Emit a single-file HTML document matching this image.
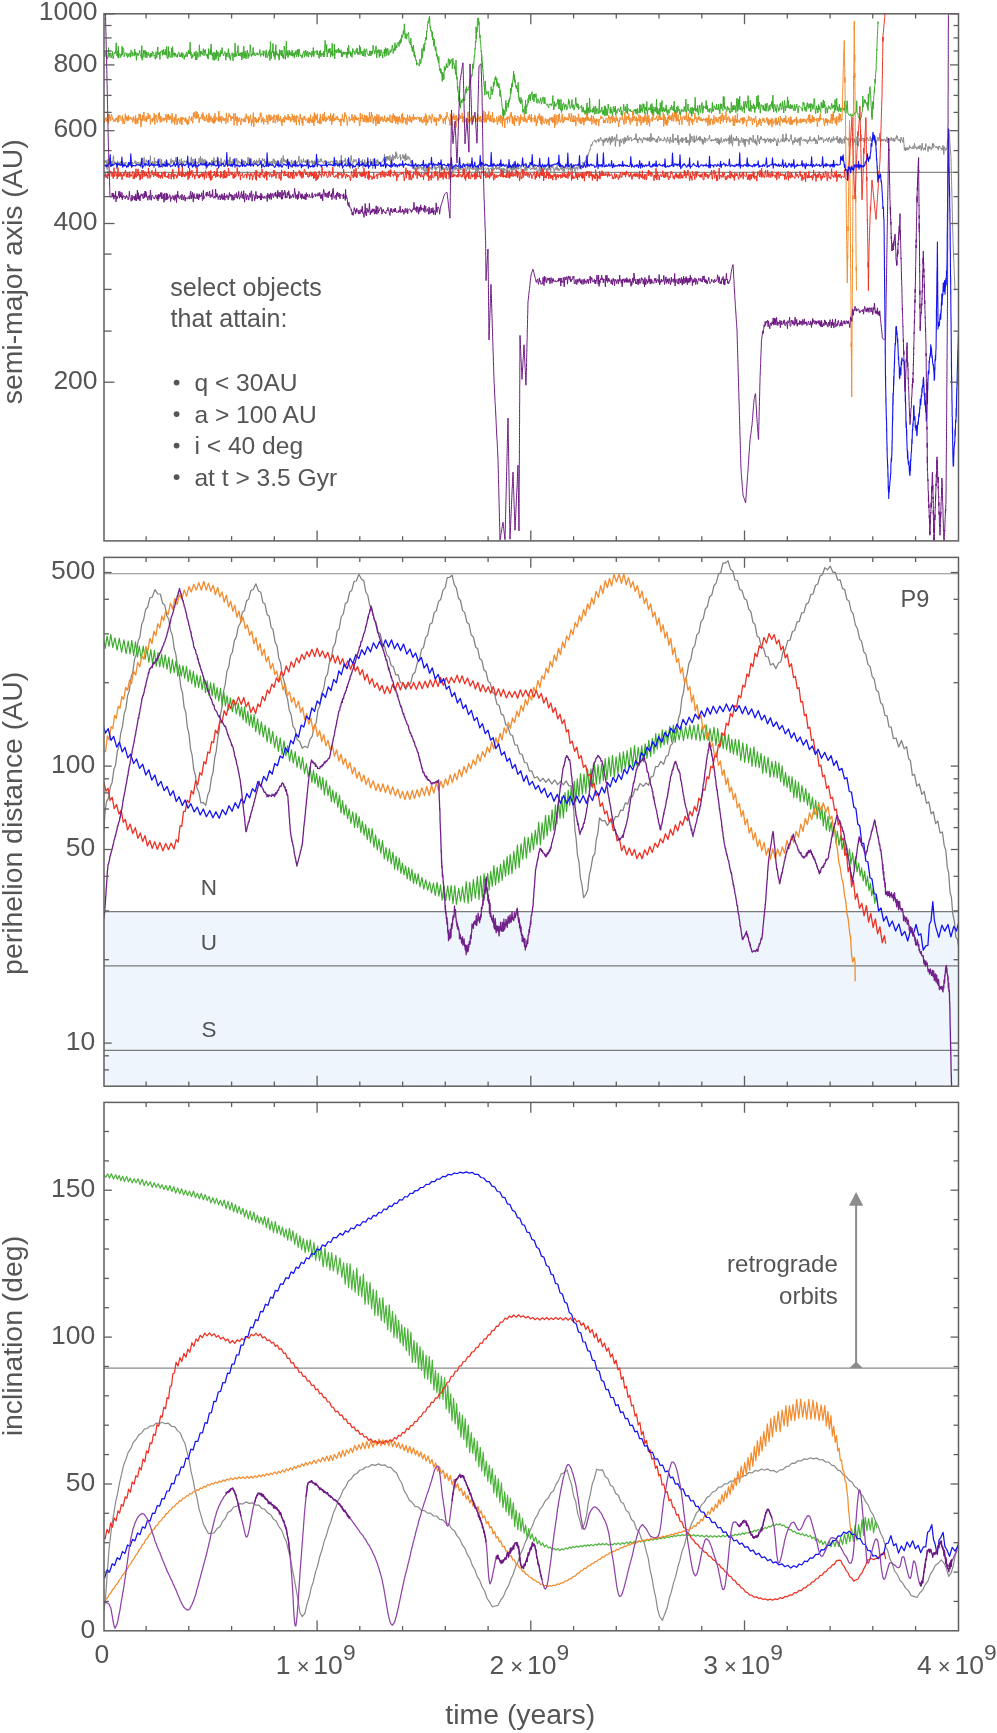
<!DOCTYPE html><html><head><meta charset="utf-8"><style>html,body{margin:0;padding:0;background:#fff;}svg{display:block;font-family:"Liberation Sans",sans-serif;}</style></head><body><svg width="997" height="1733" viewBox="0 0 997 1733">
<defs>
<clipPath id="c0"><rect x="104.0" y="13.8" width="854.5" height="527.1"/></clipPath>
<clipPath id="c1"><rect x="104.0" y="557.4" width="854.5" height="528.8"/></clipPath>
<clipPath id="c2"><rect x="104.0" y="1102.4" width="854.5" height="528.4"/></clipPath>
</defs>
<rect width="997" height="1733" fill="#fff"/>
<rect x="104.0" y="911.7" width="854.5" height="174.5" fill="#eef5fd"/>
<g stroke="#8a8a8a" stroke-width="1.1">
<line x1="104.0" y1="172.4" x2="958.5" y2="172.4"/>
<line x1="104.0" y1="573.7" x2="958.5" y2="573.7"/>
<line x1="104.0" y1="1368.1" x2="958.5" y2="1368.1"/>
</g>
<g stroke="#7a7a7a" stroke-width="1.2">
<line x1="104.0" y1="911.7" x2="958.5" y2="911.7"/>
<line x1="104.0" y1="965.9" x2="958.5" y2="965.9"/>
<line x1="104.0" y1="1050.4" x2="958.5" y2="1050.4"/>
</g>
<g fill="#8c8c8c" stroke="#8c8c8c">
<line x1="856.1" y1="1204" x2="856.1" y2="1364" stroke-width="2.0"/>
<polygon points="856.1,1192 849,1205.7 863.2,1205.7" stroke="none"/>
<polygon points="856.1,1361.5 849.5,1368.1 862.7,1368.1" stroke="none"/>
</g>
<g clip-path="url(#c0)" fill="none" stroke-linejoin="round" stroke-linecap="round">
<path d="M104.0 160.5l.5 2.7 .4-2.9 .5 2.2 .4-2 .5-.1 .4 4.8 .5 4.3 .4-8.2 .5-2.4 .4 8.3 .5-3.4 .4-.8 .5-5.5 .4 4 .5 5.3 .4-4.6 .5-1 .4 4 .5-1.4 .4-4.5 .5-3.5 .4 8.3 .5-1 .4-1.6 .5 .6 .4 .4 .5 .3 .4 6.1 .5-4.3 .4-3.8 .5 1.1 .4 2.3 .5 .2 .4-1.5 .5 1 .4-2.5 .5 4.5 .4-1.9 .5-3.4 .4 2.3 .5 .9 .4-1.4 .5 .8 .4-.5 .5 2.2 .4-.5 .5-2.3 .4 .9 .5 .4 .4-.8 .5 1.1 .4 .2 .5 2.6 .4 .4 .5-4 .4-.5 .5 3.3 .4-1.9 .5 1.2 .4-5.6 .5 1.9 .4 6.2 .5-5.5 .4 1.9 .5-1 .4 .4 .5-.3 .4-.7 .5-1.8 .4 3.7 .5-2.6 .4 3.2 .5-1.8 .4-.8 .5 1.2 .4-1.2 .5 .7 .4 2.6 .5 .2 .4-3.9 .5 .8 .4 4.7 .5-8.6 .4 .4 .5-.7 .4 2 .5 3.9 .4-1.4 .5-5.6 .4 5.5 .5 2.3 .4 1.4 .5-4.6 .4-2.2 .5 2.5 .4-1 .5 1.3 .4-2 .5-.3 .4 2.6 .5 .9 .4-.2 .5-7.8 .4 6.6 .5 1.2 .4-.6 .5 1.3 .4-3 .5 4.3 .4-2.6 .5 5.1 .4-10.4 .5 7.7 .4-2.7 .5-1.4 .4 2.1 .5-.9 .4-1 .5-.2 .4 1.9 .5-1.8 .4 .7 .5 .4 .4-3.9 .5 3 .4 2.8 .5 1 .4-5.9 .5 5 .4 3.2 .5-1.8 .4-2.6 .5 1.9 .4-2.9 .5-.9 .4 3.3 .5-2.4 .4 3.1 .5-4.6 .4-.2 .5 2.7 .4 2.3 .5-2.5 .4 .2 .5 .6 .4-.1 .5 .4 .4-3.2 .5-2.3 .4 4.9 .5-.4 .4-1 .5-2.1 .4 1.1 .5 .8 .4 1.5 .5-1.6 .4-1.5 .5 1.8 .4-5 .5 5.3 .4 .7 .5-2.7 .4 4 .5-1.1 .4 .3 .5-1.8 .4-2.2 .5 4.1 .4-1.7 .5 1.4 .4-5 .5 8.7 .4-6.1 .5 3.3 .4-.4 .5-.1 .4-3.2 .5 1.5 .4-.7 .5 .8 .4-1.1 .5-.3 .4 2.4 .5-1.8 .4 2.2 .5-2 .4 2 .5 3.1 .4-4.1 .5 2.5 .4-1.8 .5-2.4 .4-4 .5 7 .4-.8 .5-2.1 .4-2 .5 7.7 .4-4.7 .5 .4 .4 1.6 .5-2.7 .4 1.6 .5 .4 .5-1.7 .4 .4 .5 1.8 .4-.4 .5-.6 .4-4.5 .5 1.4 .4 3.5 .5-7.1 .4 8 .5-.2 .4-3.4 .5-2.4 .4 4.2 .5 2.5 .4-3.9 .5-1.5 .4 5 .5-1.7 .4-3.2 .5 4.3 .4 5.5 .5-6.5 .4-.7 .5-.1 .4 1.5 .5 .7 .4-.9 .5 .3 .4-.1 .5-.2 .4-.1 .5 3.5 .4-6.8 .5 .5 .4 1.3 .5 3.1 .4-2.5 .5-4.8 .4 3.2 .5 3 .4-3 .5 .3 .4 1.4 .5-2 .4 1.6 .5-5.2 .4 3.1 .5 8.6 .4-2.4 .5-2.3 .4-2.5 .5 1.1 .4 2 .5-6.3 .4 5.2 .5 .8 .4-.2 .5 .4 .4-1.3 .5-1.6 .4-.7 .5-.9 .4 4 .5 1.2 .4-3.5 .5 3.2 .4-4.2 .5 1.5 .4 2.9 .5-4.5 .4-.2 .5 5.9 .4-7.3 .5-1.9 .4 5.8 .5 1.8 .4-.9 .5-2.6 .4 2.7 .5-1.5 .4-3.1 .5 4.1 .4-3.1 .5 1 .4 1.8 .5-3.5 .4-1.3 .5 4.1 .4-3.7 .5 6.7 .4-.9 .5-3.8 .4 1 .5 .9 .4-.8 .5 2 .4-.6 .5-.9 .4 1.1 .5-1.5 .4 1.2 .5 2.9 .4-5.5 .5 2.5 .4-1.9 .5 4.7 .4-4.7 .5 .3 .4 2.3 .5-.5 .4 1.3 .5-.9 .4-3 .5-3.5 .4 4.4 .5 3.4 .4-2.9 .5-2.4 .4 2 .5 .6 .4-3.3 .5 5.3 .4 .5 .5-1.7 .4 2.3 .5-4 .4 2.1 .5-3 .4 2.2 .5 1.4 .4-2.4 .5 2.7 .4-4.3 .5 4.8 .4-3 .5 1.2 .4-2.2 .5 1.4 .4-4 .5 4.8 .4 1.2 .5-.4 .4-.8 .5-.4 .4-1.2 .5-3.1 .4 2.3 .5-.1 .4 .7 .5-2.1 .4 4.6 .5 1 .4-3.2 .5 2.1 .4-2.7 .5 0 .4-.9 .5 1.5 .4 1.6 .5 2.3 .4-3.4 .5 4 .4-2.2 .5 .2 .4-2.6 .5 2.3 .4-2.5 .5 3.8 .4-4.3 .5-1.8 .4 2.1 .5 3.2 .4-4.4 .5 2.5 .4-.6 .5 2.9 .4-2.8 .5 1.1 .4-2.2 .5 2.3 .4-1.6 .5 2.8 .4 .9 .5-1.4 .4-.6 .5-2.3 .4 3.6 .5-6.2 .4 5.3 .5 .6 .4-1.6 .5-6.7 .4 5.9 .5-2.1 .4-.1 .5 3 .4-2.3 .5 1.6 .4 1.2 .5-3 .4 2.9 .5 1.4 .5-.5 .4 4.2 .5-4.6 .4-.9 .5 .9 .4 2.4 .5-1.7 .4-3.5 .5-.5 .4 7.9 .5-4.1 .4-1.2 .5-1.5 .4 1.1 .5 1.2 .4-2.2 .5 .7 .4 2.5 .5-.5 .4-2 .5 1.6 .4-2.2 .5 .5 .4-.6 .5-5.1 .4 7.4 .5 .2 .4 1.5 .5-1 .4-4.6 .5 3.5 .4-1.4 .5 .4 .4 .1 .5-3.6 .4 3.8 .5-.2 .4 .1 .5-1.7 .4 2.4 .5-2.5 .4 6 .5-6.9 .4 4.8 .5-5.2 .4 3.1 .5 3.9 .4-5.2 .5 2.1 .4-.3 .5-.8 .4 .7 .5-2.1 .4-.4 .5 5 .4-4.1 .5 1.9 .4 1.4 .5-3.6 .4 4.5 .5-.4 .4-3 .5 .5 .4-1.5 .5 .1 .4 2.1 .5-4.3 .4 4.1 .5-1.7 .4 .2 .5 1 .4-2.4 .5-1.1 .4 2.9 .5-3 .4 2.5 .5 .5 .4 .9 .5 0 .4 1.2 .5-3.2 .4 1.5 .5-.4 .4-1.6 .5 2.7 .4-.5 .5 1.3 .4-1.9 .5 1.3 .4-.1 .5-1.6 .4 2.2 .5-.9 .4 1.9 .5-2.1 .4-1.5 .5 .9 .4-.5 .5-.4 .4 .9 .5 2.1 .4 1 .5-3.6 .4 1.4 .5-1.3 .4 .3 .5-1.6 .4 2.7 .5-2.7 .4 5.6 .5-4.1 .4 2.2 .5 .2 .4-1.3 .5 4.8 .4-7.4 .5 3 .4-.6 .5-7.4 .4 8.8 .5-1.4 .4 1.4 .5-2.7 .4-.1 .5-.3 .4-.7 .5 1.8 .4-4 .5 3.6 .4 1.8 .5 .8 .4-1.6 .5-3.4 .4 1.8 .5 1.3 .4 2.1 .5-1.7 .4 .2 .5 5.6 .4-9.1 .5-3.9 .4 4.7 .5 1.1 .4 7.2 .5-5.2 .4-.6 .5-3.4 .4 1.2 .5 1.5 .4-1.1 .5-.7 .4-.6 .5 3.1 .4 1.4 .5 .1 .4-2.1 .5 6.7 .4-5.6 .5 .3 .4-1 .5-.1 .4-.4 .5-1.1 .4 1.3 .5 1.8 .4-4.4 .5 8.1 .4-2.8 .5-2.9 .4 3 .5-5.4 .4 3.6 .5 3.6 .4-3.8 .5 1.1 .4-1.5 .5 1.4 .4 .7 .5-2.7 .4-.4 .5 1 .4-.5 .5 .3 .4-3.3 .5 5.4 .4-3 .5 1.4 .4-.5 .5 6.2 .4-9.7 .5 4.2 .4 .8 .5-3.5 .4 .6 .5 1.2 .4 .4 .5 1.2 .4-3.8 .5 1.9 .4-2.3 .5 4.9 .4-3.3 .5 1.2 .4 1 .5-.3 .5 .2 .5 3.7 .4-3.3 .5-2.2 .5 .3 .5-.5 .5-2.7 .4 2.7 .7-7.1 .4 4.1 .5 .4 .4 3.1 .5-5.4 .4 3.8 .5 .3 .4-4.2 .5 2.5 .4-2 .5 3.8 .4-.2 .5-4.9 .4 4.7 .5 4.3 .4-7.1 .5 .2 .4 2.7 .5-5.7 .4 .4 .5 5.5 .4-3.8 .5-.5 .5 2.4 .4 .3 .5-7.1 .4 5.5 .5-4.1 .4 4.3 .5 1.3 .4-1.1 .5-.2 .4 .1 .5-.8 .4-.4 .5-1.8 .4 5.9 .5-2.7 .4 .2 .5 .3 .4-2.1 .5-1.7 .4 1.2 .5 3.5 .4-3.6 .5 3.7 .5 1.7 .4-7.3 .5 2.3 .4 4.3 .5-.8 .4-1.7 .5-1.6 .4 2.4 .5-1.5 .4 2.4 .5-1 .4 2.3 .4 1.3 .4 1.3 .4-2.6 .4-.2 .4 1.4 .3 1.1 .4-.5 .4 4.1 .4 .4 .5 2.3 .5-3.2 .4 3.6 .5 1.8 .4-3.5 .5-2.9 .4 2.2 .5 2.4 .4-4.6 .5-.2 .4 4.4 .5-1.5 .4-1.4 .5 1.1 .4-.5 .5-1.9 .4 4.1 .5 .2 .4-2.5 .5 .9 .4 2.5 .5-2.5 .4 .9 .5 5.3 .4-.7 .5-4 .4-1.2 .5-2.6 .4 7.1 .5-1.3 .4-4.4 .5 2.6 .4-6.7 .5 9.1 .4-4.9 .5 1.7 .4-.9 .5 .3 .4 1.4 .5-2 .4 2.7 .5-1.5 .4-4.4 .5 .9 .4-1.3 .5 3.1 .4 2.3 .5-2.7 .4 3.5 .5-.6 .4-2.1 .5 .8 .4-1.1 .5 .7 .4-.5 .5-3.9 .4 6.4 .5-5.6 .4 3.1 .5-.2 .4 3.8 .5-6.5 .4 5.8 .5-2.2 .4-.7 .5 2.5 .4-1.9 .5 1.4 .4-1 .5-.7 .4-.2 .5 2.5 .4-3.4 .5 4.3 .4-.3 .5-3 .4-.6 .5-.3 .4 6.9 .5-7 .4 .7 .5-3 .4 5.3 .5-1.5 .4-3.8 .5 7.9 .4 0 .5-2.3 .4-3.4 .5 2.7 .4-2.6 .5 3.8 .4-3.8 .5 0 .4 2.6 .5-1.1 .5 2.9 .4-1.9 .5-2.4 .4 3.7 .5-4.1 .4 2.6 .5-1.2 .4 2.5 .5-1.2 .4 .4 .5 0 .4-3.5 .5 .3 .4 3.1 .5 1.7 .4-1.5 .5 5.1 .4-3.6 .5-5.7 .4 4.1 .5 2.1 .4-1.5 .5-.9 .4-6.3 .5 4.9 .4 .1 .5 2.1 .4-2.4 .5-.1 .4-.6 .5 2.5 .4-.9 .5-.8 .4 2.2 .5-2 .4-2.8 .5 4.9 .4-2.6 .5 .4 .4 .8 .5 2.1 .4-2.6 .5-1.6 .4 4.9 .5 .2 .4-4.4 .5 4.4 .4-3.4 .5 .5 .4-.8 .5 2.3 .4-3.2 .5-3.2 .4 4 .5 2.6 .4-5 .5 .8 .4 .3 .5 4.5 .4-1.4 .5-.6 .4-.6 .5-.4 .4 .4 .5 1.3 .4 .2 .5-.3 .4-.6 .5-1.2 .4 1.4 .5 6.7 .4-6.5 .5-.5 .4-.6 .5 .6 .4-.7 .5 .9 .4 1.7 .5-.6 .4-6.6 .5 7.3 .4-1 .5-.2 .4-1.5 .5 .9 .4-3.2 .5 .3 .4 3.5 .5-1.6 .4 .9 .5-1.5 .4 0 .5 2.8 .4-.9 .5-3.1 .4 3.4 .5 1.5 .4-1.1 .5-1.6 .4 3.8 .5 .5 .4-4.6 .5 0 .4 3.6 .5-1.1 .4-2 .5 1.2 .4 .1 .5 .6 .4 3.7 .5-7.6 .4 8 .5-7.6 .4 1.4 .5-.9 .4 .4 .5-2 .4 4.1 .5-.7 .4-2.2 .5 4.6 .4-1.3 .5-5.3 .4 5.7 .5-.7 .4-7.5 .5 7.6 .4-1.6 .5-5.1 .4-.1 .5 10.5 .4-7.1 .5-2.2 .4 4.6 .5-2.1 .4 .1 .5 2.3 .4-.7 .5-.6 .4-.4 .5-.8 .5 .3 .4 5.5 .5-3.5 .4 1.2 .5 .8 .4 4.3 .5-6 .4 1.7 .5-1.9 .4-2.5 .5 3.7 .4-7.6 .5 3.6 .4 4.3 .5-3.7 .4 .6 .5 .5 .4-1.2 .5 .6 .4-5.3 .5 6.3 .4 1.3 .5-.3 .4-.6 .5-1 .4 1.2 .5-1.5 .4-.9 .5 1.2 .4 1.4 .5-5.1 .4 5.8 .5-1.5 .4 1 .5-1.2 .4-1.4 .5 4.3 .4 1.5 .5-1.9 .4-.5 .5 .5 .4-6.6 .5 5.9 .4 1.5 .5-4.4 .4 8 .5-5.8 .4 .4 .5-.9 .4 0 .5-.5 .4-2.7 .5 2 .4 2.3 .5-3.5 .4 1.3 .5 1 .4 1.9 .5-1.9 .4-.9 .5 2.9 .4-6.7 .5 3.1 .4 2.3 .5-1.7 .4-.3 .5 4.5 .4-6.4 .5 .9 .4 1.3 .5-.3 .4-1.4 .5 2.9 .4-.2 .5 3.4 .4-3.2 .5 .3 .4-1.9 .5 2.1 .4 .4 .5-4.4 .4 4 .5 .9 .4-2.3 .5 1.5 .4 1.1 .5-1.4 .4-.2 .5-1.8 .4 1.4 .5 1.1 .5-4 .4-.6 .5 6 .4-2.9 .5 1.4 .4 3.8 .5-6.1 .4-.1 .5-.9 .4 2.1 .5 .5 .4-.6 .5-1.8 .4 1.3 .5 2.2 .4-1.5 .5 .6 .4-1.5 .5-2.2 .4 5.1 .5-1.2 .4-5.6 .5 6.9 .4 1.6 .5-7 .4 3.4 .5-3.6 .4 1.9 .5 2 .4 2.6 .5-3.1 .4-1.4 .5 1.3 .4-1.7 .5 1.3 .4 2 .5-6 .4 2.4 .5-1.6 .4 1.6 .5 2 .4 .1 .5-.8 .4 1.6 .5-1 .4-2.9 .4 .9 .4-4.5 .4 2.5 .4 1.2 .5-1.4 .4-2.5 .4 .1 .4-1.6 .4 2.9 .3-6.4 .4-.4 .4 6.4 .4-8.1 .4 2.2 .4-2.2 .3 .2 .4-2.6 .4-.9 .4-1.3 .4 .3 .4-2.8 .3-1.3 .4-1.8 .4 1.5 .4-.6 .6-3.2 .6 .1 .6-.7 .7-1.4 .6-.3 .6 2.3 .6 .6 .6-2.3 .6-.1 .7-1.4 .6 3.2 .6-2.3 .6 .5 .5-3.1 .4 .7 .5 2.8 .4 .2 .5-.9 .4-.2 .5 6 .4-6 .5 2.9 .4-1.5 .5-2.8 .4 3 .5-2.5 .4 1.7 .5-2.8 .4 2.4 .5 2.5 .4-.9 .5-3.5 .4 2.4 .5-4 .4 2.4 .5 5.6 .4-6.7 .5-.4 .4 5 .5-6.5 .4 3.1 .5 2 .4-1.4 .5-1.5 .4 1.3 .5-2.6 .4 9.4 .5-5.1 .4-3.4 .5-3.6 .4 6.5 .5-1.4 .4 1.2 .5 .5 .4-.2 .5-1.1 .4 6.7 .5-6.4 .4-1.2 .5 1.9 .4 2.1 .5-2.5 .4-.8 .5-1.3 .4 1.4 .5 4.5 .4-2.4 .5-4.8 .4 5.3 .5-4.1 .4-.3 .5 2.6 .4 .5 .5-5 .4-.5 .5 3.2 .4 1.9 .5-.6 .4-.9 .5-2.1 .4 1.1 .5-.6 .4 3.7 .5-.3 .4-.6 .5-.4 .4-1.1 .5 1.2 .4-.4 .5-1.7 .4 1.4 .5 0 .4-5.7 .5 6.7 .4-1.5 .5 .1 .4 4.2 .5-3.7 .4 .1 .5 .5 .4-2.8 .5 1.2 .4 2 .5-.5 .4-.8 .5-.4 .4 4.4 .5-2.9 .4-.7 .5-2.2 .4 1.5 .5-.9 .4 2.3 .5-.9 .4-1.4 .5 .4 .4 1.8 .5 1 .4-3.7 .5 .9 .4 2.3 .5-2.2 .4-1.1 .5 4.8 .5-2.4 .4-6.4 .5 4.7 .4 3.2 .5-1.5 .4-2.2 .5 .3 .4 1.2 .5 1.1 .4-1.8 .5 1.1 .4 2.6 .5-1 .4 .8 .5-2.8 .4 3.8 .5-4.5 .4 .3 .5-2.6 .4 2 .5 3.1 .4-.6 .5 .1 .4-2.3 .5 1.1 .4 .3 .5 1 .4 .3 .5-1.2 .4 1.1 .5-.3 .4-3.5 .5 2.6 .4-.3 .5 1.1 .4 1.9 .5-1.7 .4-1.7 .5-2.1 .4 4.1 .5 0 .4-1.3 .5 2.7 .4 1 .5-6.4 .4 4.2 .5-.6 .4 .7 .5 1.1 .4-4.9 .5-3.8 .4 8.9 .5-2.4 .4-.5 .5 .3 .4-2.1 .5 2.5 .4-2.2 .5 1.2 .4 .3 .5 3 .4-7.6 .5 4.8 .4 5 .5-4.5 .4 .4 .5-1.4 .4-.5 .5 3.1 .4-4.3 .5 2.3 .4 3 .5-5.2 .4 2.9 .5 0 .4-1.9 .5 .8 .4-.1 .5-2.2 .4 5.5 .5-5.7 .4 5.8 .5-2.6 .4 1.9 .5-2 .4 .5 .5 4.6 .4-4.4 .5-7.2 .4 8.7 .5-2.4 .4-1.9 .5-1.9 .4 2.6 .5 1.3 .4 1.9 .5-.1 .4-6.2 .5 7 .4-2.5 .5-.2 .4 1.4 .5-5.7 .4 3.6 .5 1 .4-1.5 .5 .8 .4-2.3 .5 2.5 .4-3.3 .5 4.7 .5-4.6 .4 3.6 .5-.1 .4-1.3 .5 4.5 .4-4.3 .5 5.5 .4-4.3 .5 .5 .4-3.6 .5 5.6 .4-4.3 .5-.2 .4 1.8 .5 .2 .4 .8 .5-.1 .4-2.5 .5 .3 .4-.1 .5-3.6 .4 4.6 .5 .5 .4 1.1 .5 .1 .4-1.9 .5 1.4 .4-1.1 .5 .9 .4 .5 .5-1.8 .4 .6 .5-.7 .4 1.6 .5-2.9 .4 .5 .5 2.3 .4 2.3 .5-1.5 .4-3.4 .5 5.7 .4-4.5 .5 5.3 .4-5 .5 3 .4 .4 .5-5.5 .4 2.5 .5 1.6 .4 .8 .5-.6 .4-.6 .5-2.2 .4 2.4 .5 0 .4-2.2 .5-1 .4 1.8 .5 1.4 .4-2.4 .5 .6 .4 1 .5-2.9 .4 3.6 .5 3 .4-8.9 .5 1.8 .4 4.2 .5 1.9 .4-8.8 .5 5.8 .5 5.9 .4-5.6 .5-3.1 .4 3 .5-1.6 .4 2 .5-.8 .4-1.8 .5 2.8 .4-5.1 .5 4.5 .4 .1 .5-.6 .4-2 .5 8.1 .4-5.6 .5-.3 .4 1.9 .5 .5 .4-1.5 .5-3.7 .4 1.1 .5 4 .4-.8 .5-3.1 .4 3.4 .5 2.8 .4-5.5 .5 7.5 .4-7.9 .5 2.2 .4-1.3 .5-.5 .4 2.2 .5-1.3 .4-.6 .5-.1 .4 5.1 .5-5.7 .4-1.6 .5 2.4 .4-1.4 .5 0 .4 2.8 .5 .7 .4 .5 .5-7.2 .4 3.8 .5 3.8 .4 .3 .5-3.2 .4-.5 .5 4.8 .4-2.5 .5 3.9 .4-5.9 .5-4.4 .4 4 .5 2.2 .4-1.6 .5 4.2 .4-5.5 .5 1.3 .4-3.4 .5 0 .4 2.8 .5-.2 .4 .9 .5 .6 .4-1.6 .5 1.2 .5-1.6 .4 3.4 .5 1.3 .4-3.9 .5 2.3 .4-1.9 .5 .2 .4-1.7 .5 .3 .4 3.6 .5-2 .4-1 .5 2.2 .4-2.8 .5 4.6 .4-1.7 .5-2.3 .4 1 .5 1.1 .4-1.3 .5 2.1 .4-3.9 .5-.4 .4 2.8 .5-1.2 .4 0 .5 1.4 .4 5 .5-1.4 .4 1.3 .5-7.3 .4 1.3 .5 2.8 .4-.3 .5 .2 .4-.7 .5 0 .4-2.2 .5-.6 .4 1.2 .5 1.9 .4-7.7 .5 7.1 .4 .3 .5 .6 .4-2.4 .5-1.9 .4 2.9 .5-7.2 .4 7 .5-1 .4-1.3 .5 1 .4 .2 .5 2.4 .4-.5 .5-1.7 .4-.7 .5-1.1 .4-3.4 .5 4.4 .4 2.2 .5 .1 .4 3.4 .5-4.2 .4 1.7 .5 .9 .4-2.6 .5-3.2 .4 3.9 .5-.1 .4 .9 .5-2.6 .4 1.1 .5 2.3 .4-4.2 .5 2.5 .4-3.2 .5 3.2 .4 4.7 .5-5.8 .5-3.1 .4 2.3 .5 .7 .4 1 .5-.4 .4-.8 .5 .1 .4 1.4 .5-.8 .4-1.2 .5 1.6 .4 1.1 .5-1.3 .4-.8 .5 4.1 .4-1 .5-3.1 .4 1.9 .5-.5 .4-2.2 .5-2.3 .4 4.5 .5-1.3 .4 1 .5 .7 .4-1.1 .5-.8 .4 .9 .5-1.9 .4 2.4 .5-3.9 .4 3 .5-1 .4 4.7 .5-4.2 .4 .6 .5 3.9 .4-2.8 .5-.5 .4-5.8 .5 4.7 .4 .3 .5-1.8 .4 1.1 .5-2.3 .4 2.9 .5-.3 .4-2.1 .5 .7 .4 .8 .5 3.7 .4-1.8 .5-.5 .4-.7 .5 1.2 .4-1.3 .5 .4 .4-2 .5 2.1 .4-.3 .5 2.2 .4-4.1 .5 1.3 .4-2 .5 2.3 .4 .3 .5 2.9 .4-.7 .5-3.4 .4 1.7 .5-1.3 .4 2.4 .5-4.9 .4 1.1 .5 2.8 .4-1.6 .5-.4 .4-.4 .5 1.7 .4 .4 .5-4.1 .4 .6 .5 6.2 .4-1.3 .5-2.4 .4 4.3 .5-5.8 .4 5.2 .5-5.1 .4 .5 .5 1.4 .5 4.3 .4-3.8 .5-.1 .4-1.1 .5-.4 .4 4.9 .5-4.8 .4-2.5 .5 3.9 .4-1.4 .5-1.2 .4 1.9 .5-.1 .4 1.1 .5-2.4 .4 .9 .5 7.6 .4-6.3 .5-1.2 .4 0 .5 .2 .4 .2 .5-.7 .4 3.1 .5-.9 .4 4.4 .5-7.3 .4 4.7 .5-3.8 .4 3.1 .5-2.1 .4 5.5 .5-6.8 .4-1.7 .5 .9 .4-1.7 .5 10.3 .4-4.7 .5-1.2 .4 .7 .5-3.1 .4 3.2 .5-7.2 .4 5 .5 1.9 .4-2 .5-.8 .4 .9 .5-1 .4 4.3 .5-3.7 .4 1.8 .5 .1 .4-1 .5 .7 .4-3.1 .5 .2 .4 .5 .5 2 .4 1.3 .5-1 .4 .1 .5-.7 .4-3.1 .5 4.4 .4-.7 .5 2 .4-4.2 .5 3.3 .4-4.4 .5 2.4 .4-2.6 .5 1.1 .4 2 .5-3.1 .4 1.5 .5 7.1 .4-3.9 .5-.2 .4-1.5 .5-2.5 .4 2 .5 1.6 .4-1.2 .5-6.3 .4 8.3 .5-2.5 .4 2.5 .5-1.5 .4-1.1 .5 1.5 .5 .8 .4-1.6 .5 1 .4-1.8 .5 .8 .4-.1 .5 2.2 .4-1.7 .5 .6 .4-3.8 .5 6.1 .4-4.5 .5 2.3 .4-1 .5-.7 .4 .6 .5 .9 .4-.6 .5-2.6 .4 .2 .5 3.4 .4-1.1 .5-.1 .4-1.7 .5 3.3 .4-2.1 .5 2.4 .4-3.3 .5-.6 .4 1.5 .5-3.8 .4 2 .5-1 .4 3.3 .5 1.1 .4-1 .5-.7 .4 1.9 .5-1.1 .4 3.1 .5-6 .4 .7 .5 2.3 .4 .1 .5 2.3 .3-2.1 .4-3 .3 5.3 .2 1.5 .4 6.1 .2-2.4 .4-.1 .5 3.1 .4-3.4 .5 .3 .4 2.6 .5-.4 .4-2.5 .5 2.3 .4-1 .5 .4 .4-3.7 .5 2 .4 .7 .5-1 .4 1.3 .5 0 .4 0 .5 .6 .4-3.2 .5 2.8 .4 .4 .5-5.8 .4 2.8 .5 1.9 .4-.9 .5 1.2 .4 1.2 .5-2.7 .4 1.4 .5 .6 .4-2.4 .5 .9 .5 1.5 .4-3.6 .5 2.2 .4 1.4 .5 1.8 .4-3.7 .5-3.6 .4 5 .5-.1 .4 2.1 .5-.7 .4-2 .5 1.9 .4 .8 .5-6.6 .4 2.5 .5 .1 .4 .4 .5 .6 .4 4.4 .5-5.1 .4 1.7 .5-1.8 .4 2.3 .5-.8 .4-.8 .5 2.7 .4-1.8 .5-.5 .4-4 .5 4.9 .5-4.9 .4 1.3 .5 .6 .4 .9 .5 .4 .4 1.1 .5-1.5 .4 1.1 .5-.2 .4 1.7 .5-2.3 .4 3.7 .5-4.2 .4 1 .5-1 .4 1.3 .5 1.3 .4-.1 .5-.7 .4 2.5 .5-1.5 .4-3.5 .5 1.7 .4 7.3 .5-7.9 .4 1.1 .5 1.7 .4 1.3 .5-2.1 .4 .8 .5-1.7 .2-2 .2-4 .2 1.3 .2-3.8 .2 .8 .2-3.2 .2-1.8 .2-1.8 .2-1.8 .2-1.8 .1 1.1 .2 2.2 .1 2.3 .2 2.2 .1 2.3 .2 2.2 .1 2.3 .2 2.2 .1 2.3 .2 2.2 .2 2.3 .1 2.2 .2 2.3 0 2.4 .1 2.7 .1 2.7 0 2.7 .1 2.7 .1 2.7 0 2.7 .1 2.8 .1 2.7 0 2.7 .1 2.7 .1 2.7 0 2.7 .1 2.7 .1 2.7 0 2.7 .1 2.7 .1 2.7 0 2.7 .1 2.7 .1 2.7 0 2.7 .1 2.7 .1 2.7 0 2.7 .1 2.7 .1 2.7 0 2.7 .1 2.7 .1 2.7 0 2.7 .1 2.5 .1 2.5 .1 2.5 .1 2.4 .1 2.5 .1 2.5 .1 2.5 .1 2.4 .1 2.5 .1 2.5 .1 2.5 .1 2.5 .1 2.4 .1 2.5 .1 2.5 .1 2.5 .1 2.4 .1 2.5 .1 2.5 .1 1.8" stroke="#8a8a8a" stroke-width="1.0"/>
<path d="M104.0 50.6l.4 4.5 .4 2 .5-2.4 .4-1.5 .4-2.1 .4 5.2 .4 .5 .5 2.4 .4-2.9 .4-3.2 .4-5.5 .4 9.7 .5-4.4 .4 2.8 .4-1.6 .4-1 .4 4.9 .5-1.9 .4-1.1 .4-3.7 .4 5 .4 2.5 .5-3.5 .4-2.1 .4-.9 .4 1.6 .4-.6 .5-3.7 .4-6.9 .4 8.8 .4 4.4 .4-4.9 .5 6.5 .4-11.3 .4 12 .4-4.3 .4-.1 .5 .1 .4 3.6 .4-1.4 .4-2 .4 2.1 .5-9.9 .4 8.5 .4-7.1 .4 1.1 .4 .4 .5 7.7 .4-2 .4-1.6 .4-.3 .4 0 .5 0 .4 2.7 .4 .7 .4 1.1 .4-4.1 .5 1.6 .4 1.7 .4-2.7 .4-.8 .4 1.5 .5 2.7 .4-7.2 .4 0 .4 1.2 .4 4.9 .5-4 .4 1 .4 .7 .4 .3 .4 1.9 .5-7.2 .4 6.1 .4-3.2 .4 .2 .5 8.2 .4-6.8 .4 0 .4-.6 .4 2.9 .5-1.9 .4-.8 .4-.1 .4-2.8 .4 3.9 .5 .9 .4 1.2 .4 1.9 .4-12.4 .4 14.5 .5-4.8 .4 1.8 .4-6.9 .4 4.2 .4-4.1 .5 .9 .4 6.3 .4-7.1 .4 4.2 .4-2.9 .5 6.1 .4-4 .4 .3 .4-2.1 .4 1.9 .5 1.9 .4-1.4 .4 .8 .4 2.6 .4-4.8 .5 3.3 .4-3.3 .4 3.4 .4-5.1 .4 1.5 .5 .2 .4-.6 .4 3.8 .4-1.2 .4 1.4 .5 2.8 .4-3.1 .4-4.5 .4 6.2 .4 0 .5-7.2 .4-3.8 .4 8 .4-.9 .4-1.7 .5 .2 .4 7 .4-6.3 .4-1.8 .4 .3 .5-1.1 .4 .2 .4 4.5 .4-5.1 .4 3.9 .5-4.9 .4 5.6 .4-1.5 .4-1.4 .4 2.7 .5-5.3 .4 6.1 .4-9 .4 11.2 .4-.4 .5 1.6 .4-12.3 .4 10.7 .4-4.1 .4-1.6 .5 4.6 .4 1.5 .4-1.2 .4-1.3 .4-6.9 .5 9.5 .4-11.2 .4 3.7 .4 4.8 .4-1.9 .5 3.6 .4-4 .4 2 .4-1.5 .4 2.8 .5 .9 .4 0 .4-2.4 .4 2.8 .4-3.9 .5-.1 .4-1.1 .4 1.1 .4 3.6 .4-2.4 .5 1.3 .4 1.1 .4-4.1 .4 3.6 .4-3.9 .5 5.4 .4-4 .4-.2 .4 .8 .4 4.9 .5-3.5 .4 1.2 .4-2.4 .4 1.6 .4-4.4 .5 1 .4 4.1 .4-3.5 .4 0 .4-3.4 .5 3.9 .4-2.7 .4 2.6 .4-11.7 .4 13 .5-3.3 .4 5.6 .4 1.2 .4-4.4 .4 3 .5-1.1 .4-.1 .4-.3 .4-3.6 .4 3.7 .5-2 .4 5.9 .4-8.7 .4 5.6 .4 3.3 .5-5 .4-2.5 .4 4.9 .4-.5 .4-.3 .5-11.8 .4 8 .4 3.8 .4-5.5 .5 2.9 .4-2.7 .4 2.2 .4 1.5 .4-.9 .5-5.5 .4 .2 .4 7.1 .4-5.7 .4 1.9 .5-2.5 .4 4.6 .4 1.4 .4 .3 .4-1.7 .5 3.5 .4-3.9 .4 5.4 .4-10.5 .4 4.6 .5-.7 .4 1.9 .4-5.1 .4 5.1 .4-10.6 .5 9.8 .4 1.7 .4-2.6 .4 4.7 .4 2.8 .5-6.3 .4-2.1 .4 8.4 .4-2.3 .4-5.2 .5 6.6 .4-.2 .4-9.3 .4 6.6 .4-1.6 .5-3.3 .4 9.3 .4-4.3 .4-4 .4 2 .5 2.4 .4-.9 .4-5.7 .4 3.6 .4-1.7 .5-4.7 .4 5.4 .4 .5 .4 1.9 .4 .5 .5-3.2 .4 0 .4-1.2 .4 2.6 .4 6.1 .5-7.2 .4 3.4 .4 .6 .4-4 .4 .5 .5-4.8 .4 6.2 .4 2.9 .4-4.8 .4 5.8 .5 1.5 .4-4.6 .4 .4 .4-.4 .4-3 .5 .7 .4 7.4 .4-7.2 .4 1.1 .4 .5 .5 1.9 .4-14 .4 13.5 .4-2.8 .4 2.3 .5 0 .4-4.6 .4 1.5 .4-7.4 .4 10.2 .5-1.9 .4 2 .4-3 .4 .5 .4-.5 .5 3.5 .4-4.1 .4 7.7 .4-7.6 .4 1.3 .5 4.7 .4-11.2 .4-.9 .4 11.7 .4-5.4 .5-1.6 .4 5.9 .4 2.1 .4-1.6 .4-4.8 .5-2.5 .4 2.9 .4 5.4 .4-5.2 .4 3.5 .5-1.8 .4 .6 .4-10.8 .4 3.9 .5 4.7 .4 3.2 .4-2.4 .4 1.1 .4-2.5 .5-5.2 .4 6.9 .4 1.1 .4-1.5 .4-1.3 .5 3.1 .4-.6 .4 0 .4-.4 .4-2 .5 1.6 .4-1.7 .4 2.3 .4-.1 .4-.1 .5-1.1 .4-4.1 .4 6 .4 1 .4-1.9 .5-1.1 .4 1.5 .4-1 .4 .7 .4-4.1 .5 5.6 .4-4.9 .4 .3 .4-.1 .4 .5 .5 5.8 .4-8 .4 3.6 .4 2.2 .4 1.9 .5-1.3 .4-4.1 .4-.5 .4 4 .4-5.9 .5 10.8 .4-19 .4 9 .4 8.1 .4-6.1 .5-1.2 .4 1.6 .4-9.5 .4 7.2 .4 5.7 .5-4.8 .4 4.4 .4 3.5 .4-3.5 .4-11.3 .5 10.2 .4-3.3 .4 3.7 .4-1.6 .4-.2 .5 4 .4-3.2 .4 5.9 .4-10.6 .4 5.8 .5-3.7 .4 0 .4-1.7 .4 5.9 .4-5.6 .5 7.2 .4-1.6 .4-1.2 .4 4.2 .4-12.9 .5 4.3 .4 3.7 .4 5.3 .4-6.2 .4-11.8 .5 14.2 .4-4.9 .4 4.7 .4 2.4 .4-1 .5-6.4 .4 .1 .4 4.7 .4-3.4 .4 3.6 .5-1.4 .4 1.7 .4-3.8 .4-1.8 .4 6.3 .5-2.7 .4 1.8 .4-2.7 .4 5.4 .4-4.8 .5-1.1 .4 2.2 .4-3.9 .4 6.3 .4-.5 .5-6.3 .4 4.5 .4-5.5 .4 7.9 .4-5.1 .5-2.6 .4 4.6 .4 2.4 .4-1.1 .5 0 .4 .3 .4 2.8 .4-.7 .4-3.3 .5-1.2 .4-.1 .4-2.1 .4 6.3 .4-3.4 .5-2.1 .4-1.6 .4 5.7 .4-3.2 .4 4 .5-5.5 .4 .4 .4 4.2 .4 1.6 .5-4.9 .4 1.3 .4-.9 .4 2.2 .4-1.7 .5 1.6 .4 2.4 .4-6.1 .4 4.2 .4-.6 .5-7.2 .4 9.2 .4-1.7 .4-3.6 .4 .8 .5 .2 .4-.7 .4-1 .4-.2 .5 4.5 .4-4.3 .4 2.9 .4 .1 .4 1.8 .5 2.9 .4-7.3 .4 4 .4-4.8 .4 6.5 .5-.2 .4-3.5 .4 .9 .4 .6 .4-1.1 .5 3.2 .4-5.5 .4 5.6 .4-7 .5-9.4 .4 3.7 .4 6.3 .4 1.6 .4-7.4 .5 12.4 .4-4.2 .4 .6 .4-4.4 .4 3.7 .5-4.3 .4 4.1 .4-4.1 .4 8.7 .4-1.7 .5-3.6 .4 3.1 .4-11.8 .4 13.2 .5-1.9 .4 .1 .4 .7 .4-11.2 .4 14.9 .5-9.2 .4 1.5 .4-.2 .4 2 .4-3.3 .5-.1 .4 1.9 .4 1 .4-4.6 .4 5.2 .5-.9 .4-2.4 .4 2.9 .4 0 .5-2.9 .4 7.1 .4-5 .4 4.9 .4-4.2 .5 1.4 .4-2.3 .4 2.9 .4-1 .4-1.5 .5 1 .4-1.2 .4 3.3 .4-2.7 .4 5.6 .5-3 .4-7.3 .4 6.6 .4-9.2 .5 5.9 .4 2.5 .4-.2 .4-2 .4 4.9 .5-3.8 .4 2.8 .4 2.1 .4-3.3 .4-5.6 .5 2.6 .4 1 .4-.9 .4 1.8 .4 1.6 .5-1.8 .4-.9 .4-2.5 .4 3.3 .5-4.8 .4 4.9 .4 1.8 .4-2.4 .4 2 .5-2.5 .4-6.5 .4 9.5 .4-7.6 .4 5.5 .5-1.2 .4 2.1 .4 .5 .4 1.8 .4-4.8 .5 5.1 .4-2 .4-5.4 .4 .9 .5 7.2 .4-4.4 .4-2.2 .4-1.4 .4 .4 .5 4 .4 1 .4 .7 .4 .6 .4-1.4 .5 1.6 .4-5 .4 3.8 .4-3.1 .4 4.5 .5-4.7 .4 3.2 .4-3.6 .4 2.7 .5-8.2 .4 3.6 .4 .8 .4 2.2 .4 2 .5-3.1 .4 1 .4-6 .4 7.6 .4 4.6 .5-7.6 .4 2.6 .4-2.6 .4-.8 .4 3.2 .5 4.6 .4-7.8 .4 6.4 .4-2.4 .4-2.7 .5-1.1 .4 3.5 .4 1.7 .4 3.2 .4-4.8 .4-1 .4 .3 .5-3.3 .4 7.2 .4-4.9 .4-4.1 .4 5.8 .4-4.6 .4 6.8 .5-4.9 .4-2.4 .4 1.1 .4 5.9 .4-.3 .4-2.2 .5 0 .4-3 .4 2.8 .4-.4 .4-1.9 .5-2 .4-3.2 .5 3.2 .4 5.3 .5-4.5 .4-.7 .5 2.5 .4-8.2 .5 7.5 .4-3.8 .5-.9 .4 2.6 .5-5.2 .4-.2 .4 .1 .5-.5 .4 4.2 .5-5.9 .4 2.4 .4 .7 .5-5 .4 3.7 .5-7.6 .4 2.9 .4-1.4 .5-2.3 .4-3.6 .5 4.1 .4-10.6 .5 6.4 .4 8.1 .5-4.6 .4-.3 .5 5.6 .4-3.5 .5 .1 .4-1.8 .5-1.5 .4 3.1 .3 5.7 .3 1.7 .4-.6 .3 .2 .3 2.5 .4-6.8 .3 3 .3 6.3 .4-1.3 .3 4.4 .3 .8 .4-4.6 .3 4.8 .3-6.6 .4 5 .3 5.9 .3-4.2 .4 5.7 .3-2.3 .4 3.5 .4 1.9 .4-.7 .3 5.4 .4-2 .4 .7 .4-1.1 .4 1.9 .4 .2 .3 .9 .4 .1 .4-2.5 .3-4.2 .3 4.7 .3-.4 .4-.5 .3-4.9 .3 1.1 .3-10.4 .3 8.5 .3 .6 .3-3.9 .4-6.5 .3 3.2 .3-6.3 .3 5.9 .2 .8 .3-4.7 .2-3.3 .2 1 .2-4.1 .3-.3 .2-2.6 .2 1.6 .2 .6 .3 .8 .2-9.3 .2 1.5 .3-2.3 .2-.7 .2-2.8 .2-2.7 .3-1.5 .2-1.5 .2 .9 .2 1.5 .3-2.4 .2-3 .3 2.9 .2-4.5 .3 8.6 .3 2.8 .2-1.3 .3 4.7 .3 .3 .2-.9 .3-.1 .3 2.7 .2 4 .3-.4 .2-4.9 .3 8.3 .3-2.5 .3 3.9 .3 4.8 .3-2.6 .3-4.5 .3 5.3 .3 2.8 .3 2.9 .3 .4 .3-3.9 .3 2 .3 7.8 .3-2.7 .3 .9 .3-.1 .3 5.3 .3 .8 .3 .1 .3 2.3 .3-6.5 .3 7.8 .3 3.2 .4 3.4 .3 .1 .3-2.7 .3 4.8 .3-3.8 .3 3.3 .3 2 .3-2.2 .3 9 .3-4 .3-5.1 .3 7.7 .2-3.1 .3-2.8 .3 5.1 .2-6.7 .3-6.1 .3 3.8 .2 .5 .3-2.9 .3 1.7 .2-2.3 .3-.4 .4-3.3 .4 4.3 .6-1.7 .4 1.4 .6-8.9 .4 1.1 .6 5.7 .4-5.8 .6 3.8 .4-2.2 .6-1.8 .6 1.8 .4 7.5 .5-10.5 .3 6.1 .3-.4 .3-.4 .3 0 .3 5.3 .4-2.2 .3 0 .3 4.9 .3 3.1 .3-14.6 .3 13.5 .2-.9 .1 5.5 .2 1.3 .2-2.1 .2-.5 .2 11.2 .2 1.5 .2-3.4 .2 3.7 .1 2 .2-.6 .2 3.3 .2 5 .2 .4 .2 1.7 .2-2.8 .2 6.8 .3-7.7 .4 8 .3 2.2 .4-7 .4-.1 .4-1 .3 3.1 .4-4 .4 .6 .4-.3 .3-1.3 .4 2.9 .4-1.8 .4 1.4 .3-5.3 .4-3.1 .4-3.4 .4 4.4 .4-6.7 .4 4.4 .3-1.6 .4-.3 .4 .6 .3 .2 .3-.9 .3-2.4 .3 .9 .3-5.8 .3-2.3 .3 0 .2 3.5 .3-2.1 .3-1.4 .3-2.4 .3-2.1 .3 1.5 .3-1.1 .3-6.6 .2-4.8 .2 3 .2 2.3 .1-2.4 .2 1.1 .2-2.3 .2-3.3 .1 .4 .2-3.5 .2-3.3 .1-.2 .2 1.5 .2-3.2 .1-5.1 .2-.5 .2 1 .1-7 .2 .8 .2-2.2 .2 1 .1-15.1 .2 12 .2-5.2 .2-5 .1 3.6 .2 .3 .2-2.6 .2-9.5 .1-1 .2-1.2 .2 2 .1-.9 .2 .4 .2-1.9 .2 .7 .2 6.8 .1-3.8 .2 2.8 .2 5.4 .2 1.4 .1 1.8 .2 4.6 .1 .7 .2-3.2 .1 3.5 .2 4.6 .1-.5 .2 1.1 .1 2 .2 2.7 .1 3.3 .2-.9 .1 .8 .2 10.5 .1-7.5 .2 2.7 .2 5.3 .2 4.9 .1-5.6 .2 3 .2 4.6 .1-.4 .2 2.7 .2 5 .2-1.2 .1 4.9 .2 .8 .2 3.7 .1 .9 .2 1 .2-1.1 .2 1.8 .1 7.6 .4-14.3 .5 9 .5 .9 .5 3.6 .5-1.6 .5-.3 .5-1.2 .5 6 .5 .2 .5 1.6 .5 0 .4-1.4 .3-4.9 .2-6.2 .3 3.6 .3 .8 .3 .8 .3 3 .3-5.5 .2 2.7 .3-1.7 .3-8.2 .3 4.5 .3-2.5 .3 .6 .2-4 .3-.8 .3-2.3 .3 2.4 .3-3.6 .3 1.7 .2 2.7 .3 1.8 .3-4.2 .3 8 .3-4.6 .3 3.5 .3-2.2 .3 1.8 .3 3.2 .3-4.7 .2 2.8 .3 .3 .3 2 .3 7.7 .3-6 .2 6.6 .2-2.7 .3 1.7 .2 2.4 .2 .6 .2 2.8 .2 2 .2 2.9 .3 .5 .2 2.8 .2-.7 .2 6.8 .2-7 .3 1.3 .2 9.2 .3-4.7 .4-4.3 .3 4.3 .4 .4 .4-6.3 .4-8.4 .3 4.9 .4 6 .4-5.5 .3-2.9 .4 1.3 .4 .5 .3 2.8 .4-7.3 .4 2.2 .4-4.3 .3 2 .4-4.2 .2-.5 .2-7.4 .3 5.7 .2-4.2 .2 1.3 .2-2 .3-5.3 .2 3.7 .2-1.9 .2 1.7 .3-6.2 .2-1 .2-.8 .2-2.5 .3-5.4 .3 7.7 .3 1.9 .3-6.3 .3 8 .3-2.8 .3 5.1 .3 2 .3-.5 .3 2.1 .3-2.9 .3 3.2 .3-.5 .4 3.9 .3-4.5 .3-5.2 .3 14.5 .3-1.1 .3 4.6 .3-2.7 .3 4.6 .3-1 .4-.7 .3 3.3 .3-6.4 .3 5.3 .3-.5 .3-2.6 .3 2.8 .3 4.9 .4 5 .3-3.2 .3 2.9 .3-1.2 .3 2.7 .3 1.9 .3-2.2 .3-6.6 .3 3.6 .3-10.2 .2 14.1 .3-.5 .3-7.4 .3-1 .3 1.6 .2-3 .3 .1 .3 .6 .3-5.9 .3 4.2 .2 .1 .3-7.8 .3 2.1 .3 2.1 .3-5 .2 .1 .4 6.5 .5-6.6 .6 .2 .5-2.8 .5 8.3 .5-5.3 .5 0 .5 7.3 .5-8 .5 2 .5 1.4 .5-3.8 .5 6.8 .5 2.9 .5-4 .6-.5 .5 .7 .5 3.8 .6-1.9 .5-.4 .6-3.3 .6 6.5 .5-1.8 .6-2.8 .6-2.7 .5 2.8 .6 4.3 .6-6.7 .5 5.8 .6 .4 .6 1.1 .5 .7 .6-1.5 .6 3.1 .5 1 .4-2.6 .4-1 .4-.5 .5 1.4 .4-1.3 .4 .3 .4 1.6 .5-3 .4-.2 .4-7.1 .4 9.4 .5 5 .4-2.8 .4-5.5 .4 4.6 .5-1.5 .4 1.7 .4-2.8 .4-.1 .5 .8 .4-4.5 .4 0 .4-.8 .5 10 .4-9.2 .4 5.8 .4 3.5 .5 1 .4-10.9 .4 13.4 .4-3.6 .5 1.5 .4-6.2 .4 .5 .4-2 .5 1.4 .4 5.1 .4-4.2 .4 1.8 .4-2.5 .5-.2 .4 5.9 .4-.6 .4-.7 .5-2.4 .4-2 .4-5.5 .4 4.6 .4-2.6 .5 6.5 .4 1.2 .4-.3 .4-2.2 .5-2.6 .4-3.9 .4 8.5 .4-1.8 .4-1.7 .5 3.1 .4 2.5 .6-3.8 .6-2.2 .5-6.6 .6 9 .6-3.3 .6 4.6 .5-3.8 .6 5.5 .6-2.1 .5-.7 .6-.1 .6 .7 .6-2.2 .5 7 .6-3.7 .6-1.6 .4 5.3 .5-.3 .4-1.3 .4 3.8 .4-3.9 .4 1.9 .5 1.9 .4-8.1 .4-3.5 .4 14.6 .5-9.5 .4 3.3 .4-3.4 .4 5.5 .4-15 .5 10 .4 3.8 .4 .4 .4-2.2 .5-.3 .4 .7 .4 1.8 .4-4.4 .5 4.1 .4-5.7 .4 6.7 .4 1.3 .4-4.8 .5-3.4 .4 7.6 .4-2.8 .4-2.6 .5 1.8 .4-.4 .4 4.3 .4-.7 .4-3.4 .5-10.6 .4 13.9 .4-1.7 .4-1.2 .5 1.2 .4-2.5 .4-2 .4 5 .4 2.3 .5-4 .4 4.2 .4-1.5 .4-7.3 .4 10.3 .5-9.8 .4 4.9 .4 4.4 .4-2.7 .4-4.4 .5 6.8 .4-2.3 .4-9 .4 4.5 .4-.1 .5 1 .4 .3 .4 3.9 .4-6.7 .4 1.5 .5 4.4 .4-1.3 .4 4.2 .4-2.3 .4-5.5 .5-1.5 .4 5.1 .4-3 .4 3.6 .4-6.1 .5 9.3 .4-4.7 .4 .8 .4 1.8 .4-4 .5 .1 .4-.1 .4-.6 .4 1.9 .4 1.4 .5-2.7 .4 .1 .4-2.4 .4 7.8 .4-4 .5 5.2 .4-.5 .4-2.6 .4-3.3 .4-5.3 .5 5.5 .4 1 .4-.7 .4-3.3 .4 5.4 .5 .9 .4-2.8 .4-6.3 .4 10.1 .4-4.1 .5-1.6 .4 .5 .4 1.2 .4 1 .4 .3 .5-1.8 .4 1.8 .4 .7 .4-.9 .4 .8 .5 .3 .4-1.4 .4 4.2 .4-2.4 .4-2.9 .5 1.3 .4-1.9 .4 1 .4 3.5 .4-4.4 .5 1.8 .4 3.6 .4-6.4 .4 3.3 .4 .9 .5-.7 .4 1.4 .4-8.5 .4 8.3 .4-.8 .5-7.5 .4 6.5 .4-2.8 .4 0 .4 4 .5-8.7 .4 4.6 .4-4 .4 2.9 .4 6.5 .5-6.4 .4 2.1 .4-1.9 .4 3.5 .4-9.4 .5 12.9 .4-3.7 .4-.8 .4 0 .4-2.3 .5 1.8 .4-.9 .4 1.6 .4-5.4 .5 7.7 .4 .4 .4-9.3 .4 11.3 .4-6.6 .5-1.5 .4 9.6 .4-6.4 .4 .9 .4-2.5 .5-1.3 .4 4.9 .4-.7 .4-12.1 .4 14.2 .5-5.5 .4 7.1 .4-3.8 .4 2.7 .4-5 .5-.5 .4 8.4 .4-14 .4 8.6 .4 .1 .5-6.6 .4-4.5 .4 11.9 .4-3.2 .4 1.8 .5-3.5 .4 1 .4 3.4 .4-1.8 .4 1.2 .5-3.7 .4-2.5 .4 7.5 .4-2.7 .4 4.2 .5 1.5 .4-5.9 .4 .3 .4 3.4 .4-1.5 .5-2.1 .4-2.3 .4 2.7 .4-1.6 .4-3.3 .5 3.4 .4 1.7 .4-.7 .4-2.9 .4 4.2 .5-9.6 .4 12.7 .4-4 .4 .5 .4 3.5 .5-4.4 .4-2.4 .4 5.7 .4-.8 .4-6.2 .5 4.4 .4 .5 .4-1.5 .4 5 .4-2.6 .5 3.7 .4-3.6 .4-2.2 .4 2 .4-1.7 .5-.1 .4 2 .4 0 .4-.9 .4-4.2 .5 3.2 .4 1.7 .4-3 .4-9.5 .4 15 .5-3 .4-1.1 .4-2.3 .4-3.6 .4 6.8 .5-.3 .4-.7 .4 .8 .4 3.1 .4-5.8 .5-.3 .4 3.1 .4 5.7 .4-9.4 .4 3.1 .5 3.6 .4-5.4 .4 1.4 .4 .7 .4-2.3 .5-10.7 .4 13.8 .4 .2 .4-3 .4 1.4 .5 2.5 .4-6.8 .4 6 .4 3.7 .4-4.4 .5-2.6 .4-3.3 .4 5.2 .4 2.5 .4-3 .5-3.7 .4-3.4 .4 3.9 .4 6.9 .4-1.7 .5-5.8 .4 1 .4 .8 .4-.5 .4-.4 .5 2.1 .4-8.3 .4 8.8 .4-1.2 .4-2.9 .5 6.5 .4 0 .4-2 .4-.7 .4 3.4 .5-4.3 .4 .8 .4 1 .4 .7 .4 2.6 .5-5.9 .4-4.9 .4 9.2 .4-2.1 .4 1.5 .5-5.3 .4 1.7 .4-.7 .4 1.9 .4-.6 .5 2 .4-6.1 .4 3.2 .4 2.1 .4 .5 .5 .4 .4-5.9 .4 4.8 .4 1 .4 3.8 .5-10.1 .4 4.7 .4 .2 .4-4.7 .4 4.9 .5 .3 .4 1.5 .4-14.3 .4 10.6 .4-10.1 .5 12.4 .4-1.3 .4-.9 .4-.2 .4 3.9 .5 .9 .4-.8 .4-4.6 .4 1 .4 2.6 .5-1.8 .4 .2 .4 4.3 .4-1.1 .4 1.8 .5-2 .4-9.1 .4 5.5 .4 4.4 .4-4.3 .5-2.2 .4 4.6 .4-4.8 .4 4.7 .4-2.2 .5-2.2 .4 1.6 .4 5.5 .4-5.6 .4-8.6 .5-.3 .4 13.2 .4-1.3 .4-10.9 .4 9.9 .5-2.4 .4-10.4 .4 13.5 .4-1.9 .4 2 .5-4.2 .4 .7 .4 5 .4-2.7 .4-1 .5 1.1 .4-7.4 .4 11.6 .4-8.1 .4-.7 .5-2.9 .4 5.1 .4-1.7 .4 3.4 .4-6.8 .5 2 .4-7.7 .4 12.7 .4 2.4 .4-2.5 .5 3.1 .4-11 .4 6.2 .4 5.1 .4-6.2 .5-.2 .4 3.5 .4-1 .4-1 .4-3 .5 5.1 .4-3.8 .4 7.6 .4-5.5 .4 1.8 .5-.3 .4-1.3 .4-11.2 .4 10.6 .4-.4 .5-11.1 .4 14 .4-5.2 .4-1.9 .4 4.7 .5 6.4 .4-4.6 .4-4 .4 1 .4-.7 .5 2.5 .4-1 .4 3.6 .4-4.6 .4 5.1 .5-2.1 .4 2.5 .4-7.1 .4 2.2 .4 5.4 .5-7.2 .4-1.2 .4 3.4 .4 .8 .4 4.1 .5-2.7 .4-3.4 .4-.1 .4 5.2 .4-4.9 .5-.9 .4 1.4 .4-4.5 .4 5.4 .4 1.8 .5-13.5 .4 10.8 .4 6.2 .4-6.1 .4-1.9 .5 .7 .4 3.2 .4 3.1 .4-2.8 .4 4.3 .5-8 .4 .8 .4 1.5 .4 .7 .4 3.7 .5-2.8 .4 .8 .4-5.2 .4 2.1 .4-3.3 .5 6.9 .4-.8 .4-.2 .4-7.4 .4 3.8 .5 2.1 .4 5.7 .4-7.9 .4-4.6 .4 4.2 .5 6.3 .4-5 .4 1.5 .4 .4 .4-4 .5-7.1 .4 10.9 .4-7.3 .4 7.8 .4-2.5 .5 .9 .4 2.4 .4-4.6 .4 2.4 .4-1.3 .5 3.3 .4-4 .4 2.4 .4 .9 .5 .7 .4 2 .4-6.3 .4 2.5 .4 3.6 .5-2.4 .4-2 .4 1.2 .4-3.3 .4 4.2 .5 1 .4 3.7 .4-5.6 .4-1 .4-.6 .5 1.2 .4-.1 .4 .4 .4 .8 .4 .1 .5 .1 .4 2.9 .4-3.6 .4-5.7 .4 2.6 .5-1.3 .4 3.7 .4 3.5 .4-.3 .4-2.9 .5 4.4 .4-5.9 .4 1 .4-4.1 .4 3.6 .5 2.5 .4-1.3 .4-3.6 .4 3.9 .4-2.8 .5-1.4 .4 8.4 .4-3.7 .4-4.2 .4-.4 .5 2.1 .4 3.9 .4-1 .4-1.1 .4-8.9 .5 .2 .4 9.5 .4 1.9 .4 3.5 .4-5.3 .5-2.5 .4 3.8 .4-1.7 .4 4.9 .5-2.3 .4-6.1 .4 4.9 .4-2.7 .4 2.6 .5 2 .4 1.3 .4-10.4 .4 4.9 .4-2.5 .5 3.5 .4-5.5 .4-2.7 .4 8 .4-6.8 .5 5.6 .4-2.1 .4 8.7 .4 .2 .4-5.8 .5-.3 .4 .8 .4 4.9 .4-4.9 .4-.1 .5-2.4 .4 2.7 .4-1.2 .4 1.1 .4 1.1 .5 .1 .4-3.5 .4-2.7 .4 2.5 .4 2.6 .5-3.3 .4 0 .4 2.2 .4-2.3 .4 7.6 .5-13.1 .4 10.7 .4-2.8 .4-1.2 .4-7.9 .5 12.3 .4-4 .4 1 .4 4.4 .4-.3 .5-7.5 .4 6.1 .4-2.7 .4 .7 .4 3.5 .5-3.4 .4 .3 .5-.7 .4-.3 .3 1.8 .4 .5 .4-1.6 .4 2.1 .4-9.3 .4 11.3 .6-.2 .5 1 .6-8.2 .5-4.4 .6 11.5 .5 2.1 .6 .3 .5 1 .6-.9 .5-.9 .6 2.8 .5-1.8 .6-.5 .5 1.9 .5-1.1 .5 .6 .5-2.4 .5 .9 .5-2.3 .5 1 .5-.5 .5-11.6 .4 11.5 .4 1 .3-.3 .4 2.8 .4 1.7 .4-.2 .3 1.3 .4 2 .4-2 .3 1.3 .3-2.4 .3-.4 .3 .3 .3-2.3 .3-3 .3-.4 .3-1.6 .3-14.1 .3 11.3 .3-2.1 .3-.3 .3-3.2 .3-2 .3 3.1 .3-1.1 .3-1.9 .4 2.3 .3 1.5 .3-1.1 .3 .9 .3 1.6 .3 1.2 .3 1.6 .3-5.4 .3 8 .2-3.2 .1-13.1 .2 9.9 .1-1.7 .2-.5 .1-2.5 .2-3.6 .2-.8 .1-2.5 .2-1.2 .1-3.7 .2 0 .1-.9 .2 2.5 .1 4.3 .1-.9 .1 1.4 .2 .8 .1 4.4 .1 .2 .1 3.6 .1 2.8 .2 .4 .1 3.8 .1 2 .1 5 .2-.8 .1 1.8 .1 1.6 .2-.5 .1-2 .2-3.3 .1-.7 .2-11.4 .1 7.4 .2 .2 .1-6.3 .2 1.8 .1-4 .2-1.1 .1-3.6 .2-.7 .1-.9 .2-4.2 .1 1.4 .2-4.9 .1-.6 .2-.4 .1-6.7 .2 4.1 .1-4.4 .2-.9 .1-3.4 .2-2.3 .1-2.1 .2 .1 .1-4.7 .1-2.5 .1-.7 0-3 .1-3.1 .1-.3 .1-2.9 .1-3.6 .1 1 .1-6.6 .1-.9 .1-3.1 .1-2.7 .1-1.4 .1-.8 .1-3.4 .1-2.5 .1-.5 .1-3.5 .1-3.3 0 1.7" stroke="#3cab2c" stroke-width="1.0"/>
<path d="M104.0 118.6l.4 4.5 .4-3.5 .3 1.1 .4-2 .4-1.4 .4 .7 .4 3.7 .3-.7 .4-2 .4 1.7 .4-6.6 .4 9.4 .3-6.3 .4-3.1 .4 5.1 .4-2.3 .4 4.1 .3-.1 .4-6.6 .4 .1 .4 2.9 .4-.1 .3 2.2 .4-.7 .4 3.2 .4-.9 .4 .2 .3-1.5 .4 1.6 .4 .2 .4-3.5 .4 2.3 .3-1.1 .4-1.4 .4-.3 .4 5.1 .4-7.1 .3 .2 .4 6.3 .4-6.8 .4 .9 .4-.6 .3 1.5 .4 .5 .4 3.3 .4-.5 .4-.2 .4-4.6 .3 2.1 .4 6.3 .4-4.1 .4-1.4 .4 4.2 .3 1.4 .4-1.2 .4-9.1 .4 4.1 .4 1.8 .3-3.4 .4 4.4 .4 .6 .4-4.2 .4 2.8 .3-4.6 .4 5.4 .4-2.8 .4 1.3 .4-1.6 .3-.6 .4 1.2 .4 1.4 .4-.1 .4 .2 .3-2.1 .4 4.9 .4-.9 .4-.8 .4-4.3 .3 3.5 .4 .5 .4-1.1 .4 4.4 .4-8.3 .3 8.9 .4-2 .4-3.1 .4-1.1 .4 1.1 .3 4.5 .4-5.6 .4 1.3 .4-5.6 .4 .7 .3 3.1 .4 2.2 .4-5.5 .4 12.9 .4-3.3 .3-5.1 .4 2.3 .4-6.1 .4 5.7 .4-.3 .3-2.1 .4-6.4 .4 6.6 .4 2.3 .4 .6 .3-3.4 .4 1.7 .4-3.6 .4 5.8 .4-3.9 .3 1.2 .4-.9 .4-5.3 .4 5.8 .4-3.4 .3 3.5 .4-.2 .4-3.9 .4 9.6 .4-4.8 .3-.2 .4 .2 .4-.9 .4 3.4 .4-3.6 .3 .3 .4-1 .4 2.7 .4-7.2 .4 8.3 .3 2.8 .4-8.9 .4 1.5 .4-2.2 .4 4 .3 1.6 .4 2.2 .4-2.4 .4-.4 .4-6.6 .4 2 .3 3.7 .4-6.5 .4 8.8 .4 1.3 .4-5.9 .3-.6 .4 3.3 .4 2.6 .4-3.3 .4 .3 .3-1.2 .4 .1 .4 3.2 .4 0 .4-3.1 .3 2.1 .4-.4 .4-2.2 .4-3.3 .4 5.2 .3 3.2 .4-4.7 .4-3.1 .4 4.7 .4 .2 .3-5.6 .4 4.2 .4-2 .4 4 .4-4.5 .3 1.5 .4 1.4 .4-1 .4 5.8 .4-10.2 .3 6.1 .4 1.9 .4 1.1 .4-.8 .4-3.1 .3-1.5 .4 7.8 .4-5.8 .4 1.5 .4-6.5 .3 5.1 .4 0 .4 5.9 .4-1.1 .4-4.4 .3 1 .4-2.4 .4 1.3 .4 1.6 .4 0 .3 2.8 .4-6.4 .4 4 .4-3.9 .4 4.9 .3 2.7 .4-7.4 .4 1.6 .4-1.8 .4 1.9 .3-.5 .4-.6 .4 .3 .4 3.3 .4-.5 .3-4 .4 2.9 .4 3.2 .4-3.8 .4 3.3 .3 2.3 .4-5.6 .4 4.1 .4 .4 .4-7.8 .3 1 .4 .6 .4 .9 .4 .2 .4 1.3 .3 .7 .4-4.4 .4 3.6 .4 3 .4-1.3 .4-8.8 .3 3.4 .4-4.3 .4 5 .4 .4 .4 1.1 .3-.8 .4-6.7 .4 7.3 .4-3.7 .4-2.9 .3 5.9 .4-.2 .4-3.6 .4 4.2 .4 4.7 .3-1.9 .4-3.7 .4 .2 .4 1.4 .4-1.3 .3-1.2 .4-2 .4 2.6 .4 2.3 .4-6.8 .3 2.8 .4-.4 .4 5.6 .4 .6 .4-4.3 .3 4.2 .4-.4 .4-.3 .4-2.4 .4-3.3 .3 5.2 .4 1.6 .4-3.2 .4 4.3 .4-6.7 .3-2.6 .4 1.8 .4 7.2 .4-1.6 .4-.6 .3-3.8 .4 .3 .4 1.1 .4 4.4 .4-3.6 .3 4 .4-1.8 .4 2.9 .4-7.4 .4 .4 .3 6.8 .4-10 .4 8.3 .4-1.1 .4-1.1 .3-1.5 .4-.9 .4 2.3 .4 .8 .4-.7 .3 2.1 .4-10.5 .4 4.6 .4 6.4 .4-4.8 .3-.7 .4 3.8 .4-1.5 .4 4.4 .4-7.2 .3 4.2 .4 .2 .4-.2 .4-2.5 .4 3 .3 .4 .4-1 .4-2 .4 1.5 .4-1 .3 5.2 .4-10.9 .4 4.8 .4 1.1 .4-.3 .3 3.9 .4-6.6 .4-.8 .4-1.8 .4 3.5 .4-.2 .3 .5 .4-1.5 .4 5.3 .4-4 .4 2 .3-.2 .4-1.9 .4 2.3 .4-1 .4-4.6 .3 11.9 .4-4.6 .4-1.6 .4-5.8 .4 7.4 .3-3.8 .4-.1 .4 4.1 .4 4.9 .4-9.2 .3 2.6 .4-.6 .4 3.4 .4-3.1 .4-.3 .3-.9 .4 3.9 .4-.1 .4 3.6 .4-4 .3-2.9 .4 2.5 .4-1.1 .4-.3 .4 1.2 .3 1.3 .4-3 .4 3.3 .4-1.5 .4-3.8 .3 5.3 .4-2.5 .4-5.7 .4 3.8 .4-.2 .3 .2 .4 1.5 .4-3.1 .4 7.2 .4-4.1 .3-1.6 .4 5 .4-4 .4-3.8 .4 2.8 .3 1.9 .4 6.5 .4-6.5 .4 3.3 .4 .1 .3-6.8 .4-3.6 .4 14.5 .4-7.3 .4-2.3 .3 1.3 .4-1.6 .4 4.7 .4-3.5 .4 4.6 .3-3 .4 2.5 .4-3.1 .4 .4 .4 2.7 .3-5.3 .4 1.8 .4 1.2 .4-3.8 .4-2.9 .3 3.6 .4-4.4 .4 10 .4-3 .4 .6 .3 1.2 .4-4.1 .4 2.8 .4 4.3 .4-5.7 .4 1.8 .3 .4 .4 .9 .4-.7 .4 1 .4-4.2 .3-3 .4 1.8 .4 2.2 .4 5.5 .4-6 .3-1.8 .4-2.3 .4 .5 .4 6 .4-4.1 .3 4.4 .4-5.9 .4 4.5 .4-1.2 .4 0 .3-1.6 .4 .9 .4 5.2 .4-7.6 .4-.7 .3 2.2 .4-1.4 .4 7.5 .4 .2 .4-4.2 .3-2.5 .4-1.5 .4 4.8 .4-3.9 .4 6.2 .3-8 .4 1.6 .4 4.5 .4-1.4 .4 2.2 .3-2.3 .4-2.7 .4 3.8 .4 2.7 .4-2.9 .3 6.4 .4-7.2 .4 2.9 .4-.1 .4 .5 .3-4.9 .4 3.4 .4 1.7 .4-6.9 .4 3.5 .3-1.2 .4 1.7 .4 .7 .4-2.9 .4 2.3 .3-1 .4-4.5 .4 1.8 .4 4.5 .4-4.1 .3 1.6 .4 .9 .4-1.6 .4 5 .4-2.6 .3 .2 .4 .5 .4-6.3 .4 1.2 .4 5.2 .3-2.7 .4-1.4 .4 6.4 .4-7.1 .4 1.3 .3-.5 .4 5.1 .4-.5 .4 4.2 .4-9.9 .3 2.7 .4-.7 .4-.5 .4 2.8 .4 2.5 .3-2.2 .4 5.3 .4-6.3 .4-4.9 .4 5.1 .4-1.4 .3 1.3 .4 1.3 .4 3.3 .4-5.5 .4 7.5 .3-7 .4-1.8 .4 2.7 .4-.2 .4-3.3 .3 2.4 .4 2 .4 .4 .4-1.6 .4 0 .3-.7 .4 4 .4-1.4 .4 1.7 .4-5.2 .3 4.3 .4 1.6 .4-5.1 .4 2.7 .4-6.4 .3 3.3 .4 4.6 .4-2.8 .4 .7 .4 2.6 .3-4.9 .4-1.8 .4 3.1 .4 6.6 .4-13.4 .3 9 .4 .1 .4-7.2 .4 4.3 .4-2.1 .3-.9 .4 4.4 .4-6.5 .4 9.3 .4-2.3 .3 .6 .4 1.9 .4-1.3 .4-3.9 .4 6.1 .3-9.9 .4 7.6 .4 2.1 .4-1.9 .4-.4 .3-5.1 .4 3.7 .4-6.3 .4 7.5 .4-2.6 .3 .9 .4-7.8 .4 8.8 .4 .1 .4 1 .3-4.9 .4 4.3 .4-3.2 .4 .2 .4 1.6 .3-.4 .4-3.6 .4 1.4 .4 1.4 .4-2.1 .3 4.6 .4-3 .4-4.7 .4 7.4 .4-3.1 .3 7.1 .4-4 .4-5.6 .4 6.3 .4-2.2 .4-6 .3 7.8 .4-.8 .4-2.1 .4 .7 .4 1.3 .3-3.6 .4 0 .4 1.2 .4 2.2 .4-3.9 .3 1.5 .4 1.2 .4 1.3 .4-.6 .4 2.5 .3-1.7 .4-1.5 .4 .2 .4 7 .4-7 .3 .1 .4 1.6 .4-6.2 .4 2.9 .4 2.7 .3-.5 .4 2.9 .4-1.6 .4-8.5 .4 .1 .3 3.8 .4-1.6 .4 1.2 .4 3.4 .4 1.9 .3 4.5 .4-5.4 .4-1.9 .4-.4 .4-.3 .3-1 .4 2.4 .4 2.4 .4-2.5 .4 .9 .3-.2 .4 0 .4-5.7 .4 3.2 .4 3.5 .3-1.7 .4-.3 .4-1.9 .4 6.1 .4-3.1 .3-4.9 .4 1.4 .4 3.5 .4-2.4 .4-.6 .3 3.2 .4-2 .4 1.6 .4 .7 .4-1.9 .3-.7 .4 4.2 .4 4.2 .4-.5 .4-12.7 .3 8.5 .4-2.7 .4-.7 .4 .4 .4-4.1 .3 3.6 .4 1.8 .4 2.2 .4-3.7 .4 1.1 .3-4.4 .4 7.1 .4-3.7 .4-2.6 .4 3 .3 4 .4-7.3 .4 5.3 .4-3.9 .4 5.6 .4-4.7 .3 .8 .4 3.9 .4-10.2 .4 6.8 .4-2.8 .3 1.1 .4 4.8 .4-9.9 .4 3.8 .4-1.4 .3 1.6 .4 3.1 .4 4.5 .4-5.7 .4 .9 .3-1.3 .4-1.7 .4 5.2 .4-4.3 .4 9 .3-9.1 .4 3.5 .4-6.2 .4 9.5 .4-6 .3 6.1 .4-3 .4-6 .4 9.3 .4-3 .3-1.5 .4-2.6 .4 4.3 .4-3 .4 1.5 .3-3.2 .4 2 .4-.3 .4 3.7 .4-3 .3 0 .4 1.9 .4-5.2 .4 3.9 .4 1.9 .3-1.3 .4 2.3 .4-.8 .4-3.7 .4 2.4 .3-3 .4 3.8 .4-3.3 .4 1.9 .4-.8 .3 2.3 .4-6.5 .4 6.9 .4-.5 .4 1.7 .3-.8 .4-1.2 .4-5.3 .4 7.6 .4-3.3 .3-6.4 .4 2.7 .4 3.1 .4-3.8 .4 5.8 .3-4.8 .4 7.2 .4-.9 .4-5.9 .4 4.7 .3-4.9 .4 4.3 .4 3.6 .4-7.2 .4 4.2 .3-2.7 .4-2.6 .4 5.1 .4 1.3 .4-2.6 .4-1.7 .3-1.2 .4-2.8 .4 9.1 .4-10.3 .4 3.6 .3 5.8 .4-5.4 .4 .3 .4 .3 .4 1.8 .3-1.3 .4 5.8 .4-5.6 .4 .4 .4-1 .3 7.3 .4-10.4 .4 4.4 .4 .8 .4-.8 .3 2.2 .4-5.6 .4-.3 .4 6.4 .4-5 .3 .2 .4 .8 .4 5 .4-1.7 .4-3.9 .3 1.9 .4-1.3 .4-3.8 .4 6.3 .4-2.9 .3 .9 .4-1.3 .4 1.8 .4-.9 .4 1.8 .3-2 .4 .3 .4-1.1 .4 .3 .4-.1 .3 2.1 .4-.8 .4-1.5 .4 5.2 .4-2.3 .3 1.2 .4-3.3 .4 1.1 .4-1.4 .4 5.3 .3-2.9 .4 2.1 .4 1.2 .4-2.6 .4-1.6 .3-2.4 .4 5.6 .4-.7 .4-6 .4-1.9 .3 12 .4-10.3 .4 2.7 .4 5.5 .4-3.9 .3 2.8 .4-1.4 .4-.4 .4-5.2 .4 1.3 .3 2.8 .4-2.7 .4 .1 .4 3.1 .4 3.2 .3-2.4 .4-6.8 .4 1.6 .4 3 .4 .2 .4 1.8 .3 1.6 .4-.9 .4-4.2 .4 4.8 .4-1.3 .3-1.2 .4 6.7 .4-8.2 .4 1.7 .4-.1 .3-1 .4 2.3 .4-2.1 .4 2.8 .4-6.8 .3 3.4 .4-4.1 .4 5.4 .4-1.4 .4-2.4 .3 2 .4 1 .4 .2 .4 0 .4 4.9 .3-2.6 .4-2.2 .4-.9 .4 2.6 .4-2.3 .3 6.1 .4-8.4 .4 .7 .4 2.1 .4-6.7 .3 4.3 .4 .3 .4 .9 .4 .1 .4 1.2 .3 2.2 .4-1.6 .4 6.2 .4-11.7 .4 2.7 .3-1.4 .4 4.1 .4 5.9 .4-9.2 .4 .8 .3 2.9 .4-1.3 .4-4.7 .4 2.9 .4 3.4 .3-3.6 .4-.7 .4 2.3 .4 9.3 .4-11.9 .3 1.6 .4 1.1 .4 3.1 .4-3.2 .4 2.6 .3-2.2 .4 1.4 .4-5.5 .4 4.6 .4-.5 .3-2.6 .4 2.4 .4 .3 .4-.2 .4-5.5 .3 6.5 .4 3 .4-5.7 .4 0 .4 3.7 .3 4.2 .4-3.4 .4-.7 .4 1.3 .4-4.2 .3 1.1 .4 1.9 .4-2.1 .4-.7 .4-5.9 .4 6.6 .3 4.6 .4-2.8 .4-8.2 .4 9.5 .4-3.1 .3 2.9 .4-3 .4-1 .4 1.5 .4-1.7 .3 3.7 .4-5 .4 6.2 .4-3.7 .4 0 .3-2.2 .4-.7 .4 3.4 .4-.3 .4-.4 .3 4 .4-3.7 .4 1.9 .4-3.2 .4-3.3 .3 2.4 .4 3.3 .4-1.6 .4 3.9 .4-4.5 .3 1.2 .4-2.5 .4 5.7 .4-1.9 .4 2.5 .3-1.4 .4-4.5 .4-2 .4 .2 .4 5.9 .3-9.9 .4 12.2 .4-5.9 .4-2.6 .4-2.3 .3 9.8 .4-3.8 .4 4.4 .4-7.3 .4-.8 .3 4 .4 1.6 .4-2.9 .4-5.6 .4 6.5 .3 3.4 .4-4.5 .4 4.5 .4-6.3 .4 3.9 .3 2.6 .4 .5 .4-3 .4-7 .4 6.9 .3 4.2 .4-4.5 .4 3.5 .4-3.8 .4 3.1 .3-.2 .4 0 .4-.1 .4-1.3 .4-3.1 .3 6.4 .4 1.9 .4-4.1 .4 1.1 .4-4.1 .3-2.1 .4 2.8 .4 2.7 .4-2.3 .4-4.1 .4 8.5 .3-7.6 .4 3.3 .4-1.7 .4 9.1 .4-9.6 .3 3.3 .4 .3 .4-1.7 .4 2 .4 7.1 .3-9.2 .4-.3 .4 1.5 .4 .1 .4-1.2 .3-1.7 .4 6.3 .4-7.1 .4 .4 .4 2.4 .3-1.3 .4-.6 .4 5.1 .4-6.9 .4-1.8 .3 3.3 .4-4.9 .4 5.9 .4 .9 .4 4.9 .3-7.4 .4 7.5 .4-3.5 .4-2 .4 7.6 .3-9 .4-1.8 .4 4.8 .4-1.6 .4 3 .3-2.6 .4 2.6 .4-3.7 .4-1.7 .4 .6 .3 1.9 .4 1.4 .4 5.7 .4-3.6 .4-4.7 .3 6.1 .4-8.6 .4 2.1 .4 .9 .4 2.1 .3 .5 .4-1.7 .4-1.7 .4 4.2 .4 .5 .3-2.5 .4-5.1 .4 7.7 .4-3.2 .4-.8 .3 3.8 .4-2.1 .4 3.5 .4-1.9 .4-.7 .3-2.5 .4-2 .4 3.1 .4 1.1 .4-5.7 .3 1.8 .4 3 .4-1.3 .4 3.9 .4-7.5 .3 8.1 .4-3.7 .4 .4 .4-.6 .4-.6 .4 .3 .3 1.4 .4 2.6 .4-7.1 .4 6.2 .4-4.4 .3 4.7 .4 4.6 .4-5.9 .4-1.1 .4 4 .3-6.4 .4-.7 .4 2.7 .4-4.1 .4-1.1 .3 6.8 .4 .4 .4-3.9 .4 6.8 .4-8.1 .3 9.7 .4-.9 .4-2.7 .4-5 .4 4.3 .3 1.6 .4 .1 .4 .9 .4-.4 .4-3.8 .3-1 .4 2.7 .4 .3 .4 2.9 .4-5 .3 .9 .4 2.2 .4-2.7 .4-.2 .4 4.1 .3 2.1 .4-7.9 .4 2.7 .4-2 .4 1 .3 .4 .4-2.7 .4 4.6 .4-4.3 .4 5.4 .3-4 .4 3.5 .4-4 .4-2.7 .4 12.2 .3-13.8 .4 5.7 .4 5.6 .4-7.4 .4-.1 .3-2.8 .4 8.7 .4 .2 .4-1.7 .4-7.6 .3 7.2 .4-2.3 .4-5.9 .4 5.3 .4 2.5 .3 1 .4-.5 .4-2 .4-1.8 .4-4.4 .3 4.1 .4 5.4 .4-2.5 .4 .6 .4-3.7 .3 3.3 .4-4.1 .4 2.3 .4-1.7 .4 2.7 .3-1.1 .4 .4 .4-2 .4 2.4 .4-1 .4 1.7 .3-1.8 .4-5.5 .4 1.3 .4 3.9 .4-.8 .3 4.2 .4-2.5 .4-5.9 .4 2.7 .4 5.9 .3-1.6 .4 .8 .4-5.7 .4 6.6 .4 0 .3-1.8 .4 1.2 .4-5.8 .4 5.7 .4 4.8 .3-5.5 .4-.8 .4-2.6 .4 1.6 .4 2.2 .3 .2 .4-7.5 .4 3.8 .4 5 .4-3.8 .3-.2 .4 5.1 .4-5.9 .4 3.5 .4 2.6 .3-2.3 .4-4.2 .4 4.2 .4-4.1 .4 .3 .3 7.5 .4-3.8 .4-3.5 .4 4 .4-4.6 .3 2 .4 1.3 .4-1.9 .4-5.5 .4 7.2 .3-4.4 .4 3.7 .4 .3 .4-2.7 .4 3.5 .3-1.2 .4 1.7 .4-1.5 .4-1.8 .4 2.5 .3-5.5 .4 9.3 .4-2.1 .4-2.6 .4-1.4 .3-2.5 .4 3.1 .4 4.4 .4-2.7 .4-2.1 .3 3.8 .4-2.3 .4 5.2 .4-4.4 .4-2.1 .3 2.9 .4-1 .4-1.3 .4 .2 .4 6.7 .3-2.5 .4-4.8 .4 .6 .4-.2 .4-1.1 .4-2.5 .3 3 .4-.2 .4-1.1 .4-.6 .4 .7 .3 1.3 .4 4.4 .4-3.3 .4 .1 .4 3 .3-2.3 .4 2.1 .4-4.9 .4 .2 .4 .7 .3-.3 .4 2.3 .4 2.3 .4-4.4 .4-3.6 .3 3.8 .4-2.1 .4 .3 .4 6.6 .4-3 .3-3.5 .4 1.6 .4-2.9 .4 1.6 .4 5.5 .3-5.1 .4-2.2 .4 2.2 .4 3.2 .4 0 .3-3.3 .4 3 .4 2 .4-3.5 .4-3.6 .3 3.3 .4 2 .4-3 .4 3.4 .4 1 .3 .7 .4 3.9 .4-6.8 .4 1.9 .4-4.7 .3 2.2 .4 .3 .4-.1 .4-.6 .4 0 .3-3.7 .4 3.9 .4-.8 .4 2.4 .4 3.1 .3 .5 .4-7.4 .4-4.9 .4 7.1 .4-.9 .3 5 .4-3.1 .4-4.3 .4 1.8 .4-1 .3 .9 .4 1.9 .4-6.1 .4 4.4 .4 4.1 .3-4.8 .4 7.2 .4-.5 .4-6.1 .4 .9 .3 .4 .4 2.9 .4-3.9 .4-7.2 .4 9.3 .4-2.9 .3 .1 .4-1.3 .4 2.9 .4 2 .4-2.4 .3-.7 .4-1.3 .4 4.9 .4 4.7 .4-6.6 .3-1.3 .4 2.5 .4-1.6 .4-4.8 .4 4 .3 3.8 .4-.7 .4-5.9 .4 9.6 .4-.9 .3-1.1 .4-6.6 .4 2.4 .4 1.8 .4 2.1 .3-6 .4 5.4 .4-.6 .4-6.5 .4 5.9 .3-8.8 .4 3.4 .4 1.1 .4 5.3 .4 2.7 .3-2.4 .4-7.9 .4 3.9 .4 4.4 .4-7.2 .3 4.5 .4 6.2 .4-6 .4-.9 .4 .1 .3 1.1 .4-1 .4-2.3 .4 4 .4-2.7 .3-5 .4 3.9 .4 .5 .4 2 .4-.7 .3 .5 .4-2.2 .4 .9 .4-.2 .4-.4 .3-2.4 .4 4 .4 1.6 .4-2.4 .4 1.6 .3-3 .4-2.1 .4 3.1 .4 1.4 .4-3.2 .3 3.1 .4-2.6 .4 2.6 .4-1.5 .4 1.3 .3 0 .4-.9 .4-6 .4 13.8 .4-8.2 .3-3.5 .4 5.8 .4 3.7 .4-7.1 .4 3.4 .3 4.3 .4-4.6 .4 5.6 .4-8.3 .4 5.7 .4-6.7 .3 2 .4-3.3 .4-.1 .4 5.1 .4-3.4 .3 2.7 .4-.1 .4-4.2 .4 6 .4-.5 .3-7.9 .4 4.4 .4-1.9 .4 6.2 .4-3 .3-6.1 .4 4.2 .4-1.3 .4 3.1 .4-4.4 .3 7.8 .4-9.3 .4 7.6 .4-.6 .4 1.3 .3-6.3 .4 6.5 .4-1.7 .4 5.6 .4-4.9 .3 .2 .4-.5 .4-4 .4 3.7 .4 .5 .3 4.9 .4-6.6 .4 .9 .4-2.4 .4 1 .3-1.2 .4 1.5 .4 2 .4-4.5 .4 .3 .3 .7 .4 3.7 .4-7.7 .4 6.3 .4 2.9 .3-1.9 .4 .6 .4-6.6 .4 8 .4 4 .3-7.6 .4-1.2 .4 3.5 .4-2.5 .4 .2 .3 .6 .4 4.1 .4-4.2 .4 6.3 .4-5.3 .3-.2 .4 1.2 .4 .7 .4-3.5 .4-5 .3 5.4 .4 .4 .4-1.8 .4 3.6 .4-.1 .3 2.6 .4-4.7 .4 .6 .4-1.4 .4 1.9 .3-3.5 .4 4.2 .4-1.7 .4 2.5 .4-1.5 .4-1.8 .3 1.3 .4 1.8 .4-1.6 .4 2.2 .4-.7 .3-.5 .4-1.5 .4 1.5 .4-.9 .4 .6 .3 .7 .4-2 .4 4 .4-3.8 .4 1.8 .3-2.8 .4 2.5 .4 5.8 .4-3.9 .4-3.9 .3-3.4 .4 9.6 .4-4.5 .4 5.2 .4-5.1 .3-1.6 .4 .1 .4 1.8 .4-1.1 .4 1.2 .3 3.6 .4 .8 .4-4.6 .4-4.8 .4 6.1 .3 2.1 .4-2 .4-1.7 .4-2.9 .4 .1 .3 4.9 .4-3.3 .4 1 .4 .1 .4 2.9 .3-4.3 .4-1.5 .4 1.3 .4 .8 .4-2.4 .3 7.6 .4-5.9 .4-3.2 .4 1.2 .4 4.9 .3-8.3 .4 3.7 .4-.2 .4 5.8 .4-6.6 .3 2.3 .4 1.1 .4 .9 .4-4.7 .4 1 .3-4.7 .4 11.5 .4-2.7 .4-3 .4 2.3 .3 .7 .4-3.1 .4-.9 .4 1.6 .4 4.3 .3-4 .4 4 .4-.5 .4-1.5 .4 .7 .3-1.1 .4 .1 .4 1 .4-4.4 .4 9.2 .3-5.6 .4-1.4 .4 7.3 .4-3.8 .4-6.9 .3 3.1 .4 4.2 .4-3.1 .4 3.2 .4-3.9 .3-5.6 .4 9.2 .4-1.6 .4 .6 .4 .2 .3-1.7 .4 3.1 .4-2.1 .4-2.3 .4 .2 .3-.7 .4 2.3 .4-2.4 .4-.4 .4 6.7 .3-1.5 .4-5.1 .4 5.2 .4-5.4 .4 3 .3-.3 .4-.2 .4-.3 .4 1.5 .4 5.2 .3-3.6 .4-3.1 .4 .1 .4 1.1 .4-1.6 .3-3.5 .4 2.3 .4 1.8 .4 .7 .4-.4 .3 .8 .4-3.8 .4 2.4 .4 .9 .4 2.5 .3 2 .4-6.4 .4 1.6 .4-1.8 .4 2.3 .3 2.3 .4-4.5 .4-.8 .4-1.6 .4 4.6 .3-.2 .4 6.6 .4-3.2 .4-.4 .4 1.2 .3 .2 .4-4.6 .4 3.3 .4-5.5 .4 3.8 .3-1.1 .4-1.8 .4 6.9 .4-2.3 .4-1.6 .3-.2 .4-.2 .4-3.8 .4 3.2 .4-2.1 .3-.4 .4 4.2 .4 0 .4-1.8 .4 .9 .3-.7 .4-.5 .4-3.4 .4 1.4 .4 4.9 .3-5.1 .4 1 .4 6 .4-5.9 .4 1.9 .3 3.3 .4-4 .4-.5 .4 2.7 .4-4.7 .3 4.9 .4 4.1 .4-7.6 .4-.9 .4 2.6 .3 2.9 .4-.9 .4-1.7 .4 .1 .4-2.4 .3-1.4 .4 7.4 .4-7.4 .4 5.8 .4-2.6 .3 3.9 .4-2.7 .4 .6 .4-5.6 .4 4.6 .3-1.1 .4 4.8 .4 .5 .4-10.1 .4 4.1 .3-1.7 .4 0 .4 2.9 .4-1.8 .4 3.1 .3-2 .4 1.5 .4-4.1 .4 4.1 .4-4.1 .3 1.9 .4 2.6 .4-7 .4 3.7 .4 4.8 .3-1.3 .4-2.2 .4 1.8 .4-.8 .4-2.5 .3-1.2 .4 4.9 .4 .2 .4 1.8 .4-8.3 .4 8.1 .3-7.3 .4 7.1 .4-4.6 .4 5 .4-3.5 .3-1.2 .4 .9 .4 1.5 .4-3.1 .4 .2 .3 2.6 .4-3.1 .4 1.2 .4-1.4 .4-2 .3 8.6 .4-6.1 .4 3.3 .4-.6 .4-.3 .3 .9 .4-2.1 .4-.8 .4-.3 .4 3.9 .3-4.7 .4 .4 .4 3.6 .4-2.1 .4-1.5 .3 .6 .4 2.4 .4-3.3 .4 2.9 .4-.9 .3-1.8 .4 .7 .4 2.5 .4 0 .4-2.6 .3 2.7 .4 1.4 .4-4.8 .4-.2 .4 1 .3-.2 .4-4.4 .4 6.8 .4 .6 .4-8.2 .3 6.8 .4-1.8 .4 4.3 .4-4.8 .4 3.3 .4-.2 .3-6.5 .4 6.7 .4-1 .4-4.2 .4 5.4 .3-4.6 .4 2.5 .4-.4 .4 .6 .4-.9 .3-.4 .4 1.6 .4-2.6 .4 8.7 .4-4.7 .3-.1 .4-3.7 .4 1.8 .4 1.7 .4-5.1 .3 3.8 .4-6.9 .4 6.2 .4-.2 .4-1.4 .3 1 .4 .2 .4-.2 .4-.2 .4-.4 .3 2.7 .4 2.4 .4 2.5 .4-4.1 .4-3.1 .3 4 .4-4.6 .4 2.4 .4 2 .4-3.8 .3 6.4 .4-5.5 .4 1.9 .4-1.8 .4 1.4 .3 1.6 .4-1 .4 1.3 .4-3.9 .4 .3 .3-5.5 .4 5.4 .4 4.3 .4-9.9 .4 6.4 .4-8.8 .3 8.8 .4-.6 .4-1.6 .4 1.3 .4 4 .3-2.4 .4-3 .4-1.5 .4 8.9 .4-3.9 .3-1.4 .4-.2 .4-3.5 .4 3.6 .4 2.4 .3-9 .4 6.4 .4-.2 .4-5.5 .4 5.9 .3 1.5 .4-2.2 .4 .7 .1-2.3 0-2.3 .1-2.3 0-2.2 .1-2.3 0-2.3 .1-2.3 .1-2.3 0 6.1 .1-10.7 0-2.2 .1-2.3 0-2.3 .1-2.3 .1-2.3 0-2.3 .1-2.3 0-2.2 .1-2.3 0-2.3 .1-2.3 .1-2.3 0-2.3 .1-2.3 0-2.2 .1-2.3 .1-2.1 0-2.1 .1-2.1 .1-2.1 .1-2.1 .1-2.1 .1-2.1 0-2.1 .1-2.1 .1-1.3 0 2.5 .1 2.4 0 2.5 .1 2.5 0 2.4 0 2.5 .1 2.5 0 2.4 0 2.5 .1 2.5 0 2.5 .1 2.4 0 2.5 0 10.2 .1-5.3 0 2.5 0 2.5 .1 2.4 0 2.5 0 2.5 .1 2.5 0 2.4 .1 2.5 0 2.5 0 8.3 .1-3.4 0 2.5 0 2.4 .1 2.5 0 2.5 .1 2.5 0 2.4 0 2.5 0 2.5 .1 2.5 0 2.4 0 2.5 0 2.5 .1 2.4 0 2.5 0 2.5 0 2.5 0 2.4 .1 2.5 0 2.5 0 2.5 0 2.4 .1 2.5 0 2.5 0 2.5 0 2.4 0 2.5 .1 2.5 0 2.5 0 2.4 0 2.5 .1 2.5 0 2.5 0 2.4 0 2.5 0 2.5 .1 2.5 0 2.4 0 2.5 0 2.5 .1 2.4 0 2.5 0 2.5 0 2.5 0 2.4 .1 2.5 0 2.5 0 2.5 0 2.4 .1 2.5 0 2.5 0 2.5 0 2.4 .1 2.5 0 2.5 .1 2.4 0 2.5 0 2.5 .1 2.5 0 2.4 0 2.5 .1 2.5 0 2.5 .1 2.4 0 2.5 0 2.5 .1 2.4 0 2.5 0 2.5 .1 2.5 0 2.4 0 2.5 .1 2.5 0 .2 .1-2.5 0-2.5 0-2.5 .1-2.4 0-2.5 0-2.5 .1-2.4 0-2.5 0-8.1 .1 3.2 0-2.5 0-2.5 .1-2.5 0-2.4 0-2.5 .1-2.5 0-2.4 .1-2.5 0-2.5 0-9.4 .1 4.5 0-2.5 0-2.5 .1-2.4 0-2.5 0-2.5 .1-2.4 0-2.5 0-2.5 .1-2.5 0-2.4 0-2.5 .1-2.5 0-2.4 0-2.5 .1-2.5 0-2.5 0-2.4 .1-2.5 0-2.5 0-2.4 .1-2.5 0-2.5 0-2.4 .1-2.5 0-2.5 0-2.5 0-2.4 .1-2.5 0-2.5 0-2.4 .1-2.5 0-2.5 0-2.4 .1-2.5 0-2.5 0-2.5 .1-2.4 0-2.5 0-2.5 0-2.4 .1-2.5 0-2.5 0-2.4 .1-2.5 0-2.1 0 2.5 0 2.4 .1 2.5 0 2.5 0 2.4 0 2.5 0 2.5 .1 2.5 0 2.4 0 2.5 0 2.5 0 2.4 0 2.5 .1 2.5 0 2.5 0 2.4 0 2.5 0 2.5 .1 2.4 0 2.5 0 2.5 0 2.4 0 2.5 .1 2.5 0 2.5 0 2.4 0 2.5 0 2.5 .1 2.4 0 2.5 0 2.5 0 2.5 0 2.4 0 2.5 .1 2.5 0 2.4 0 2.5 0 2.5 0 2.4 .1 2.5 0 2.5 0 2.5 0 2.4 0 2.5 .1 2.5 0 2.4 0 2.5 0 2.5 0 2.5 .1 2.4 0 2.5 0 2.5 0 2.4 0 2.5 0 2.5 .1 2.5 0 2.4 0 2.5 0 2.5 .1 2.4 0 2.5 0 2.5 0 2.5 0 2.4 .1 2.5 0 2.5 0 2.5 0 2.4 0 2.5 .1 2.5 0 2.4 0 2.5 0 2.5 0 2.5 .1 2.4 0 2.5 0 2.5 0 2.4 0 2.5 .1 2.5 0 2.5 0 2.4 0 2.5 0 2.5 .1 2.5 0 2.4 0 2.5 0 2.5 0 9.5 .1-4.6 0 2.5 0 2.5 0 2.4 0 2.5 .1 2.5 0 2.4 0 2.5 0 2.5 0 2.5 .1 2.4 0 2.5 0 2.5 0 2.5 0 2.4 .1 2.5 0 2.5 0 2.4 0 2.5 0 2.5 .1 2.5 0 2.4 0 2.5 0-2.5 0-2.4 0-2.5 .1-2.5 0-2.5 0-2.4 0-2.5 0-2.5 0-2.4 .1-2.5 0-2.5 0-2.5 0-2.4 0-2.5 0-2.5 0-2.5 .1-2.4 0-2.5 0-2.5 0-2.4 0-2.5 0-2.5 0-2.5 .1-2.4 0-2.5 0-2.5 0-2.4 0-2.5 0-2.5 .1-2.5 0-2.4 0-2.5 0-2.5 0-2.5 0-2.4 0-2.5 .1-2.5 0-2.4 0-2.5 0-2.5 0-2.5 0-2.4 .1-2.5 0-2.5 0-2.4 0-2.5 0-2.5 0-2.5 0-2.4 .1-2.5 0-2.5 0-9 0 4.1 0-2.5 0-2.5 0-2.4 .1-2.5 0-2.5 0-2.5 0-2.4 0 4.3 0-9.3 .1-2.4 0-2.5 0-2.5 0-2.5 0-2.4 0-2.5 0-2.5 .1-2.4 0-2.5 0-2.5 0-2.5 0-2.4 0-2.5 0-2.5 .1-2.4 0-2.5 0-8.8 0 3.8 0-2.4 0-2.5 0-2.5 .1-2.4 0-2.5 0-2.5 0-2.5 0-2.4 0-2.5 .1-2.5 0-2.4 0-2.5 0-2.5 0-2.5 0-2.4 0-2.5 .1-2.5 0-2.4 0-2.5 0-2.5 0-2.5 0-2.4 0-2.5 .1-2.5 0-2.4 0-2.5 0-2.5 0-2.5 0-2.4 0-2.5 .1-2.5 0-2.4 0-2.5 0-2.5 0-2.5 0-2.4 .1-2.5 0-2.5 0-2.4 0-2.5 0-2.5 0-2.5 .1-2.4 0-2.5 0-2.5 0-2.4 .1-2.5 0 2.9 0-7.9 0-2.4 .1 3.9 0-8.9 0-2.4 0-2.5 .1-2.5 0-2.4 0-2.5 0-2.5 .1-2.5 0-2.4 0-2.5 0-2.5 .1-2.4 0-2.5 0-2.5 0-2.4 .1-2.5 0-2.5 0-2.5 0-2.4 .1-2.5 0-2.5 0-.2 0 8.6 .1-3.6 0 2.5 0 2.4 0 2.5 0 2.5 .1 2.4 0 2.5 0 2.5 0 2.5 .1 2.4 0 2.5 0 2.5 0 2.4 0 2.5 .1 2.5 0-6.1 0 11 0 2.5 .1 9.4 0-4.5 0 2.5 0 2.5 0 2.5 .1 2.4 0 2.5 0 2.5 0 2.4 .1 2.5 0 2.5 0 2.5 0 2.4 0 2.5 .1 2.5 0 2.4 0 2.5 0 2.5 .1 2.5 0 2.4 0 2.5 0 2.5 0 2.4 0 2.5 .1 2.5 0 2.5 0 2.4 0 2.5 0 2.5 0 2.4 .1 2.5 0 2.5 0 2.4 0 2.5 0 2.5 0 2.5 0 2.4 .1 2.5 0 2.5 0 2.4 0 2.5 0 2.5 0 2.5 0 2.4 .1 2.5 0 2.5 0 2.4 0 2.5 0 2.5 0 2.5 .1 10.4 0-5.5 0 2.5 0 2.4 0 2.5 0 2.5 0 2.4 .1 2.5 0 2.5 0 2.5 0 2.4 0 2.5 0 2.5 .1 2.4 0 2.5 0 2.5 0 2.5 0 2.4 0 2.5 0 2.5 .1 2.4 0 2.5 0 2.5 0 2.5 0 2.4 .1 2.5 0 2.5 0 2.5 .1 2.4 0 2.5 0 2.5 .1 2.5 0-3.8 0 8.7 .1 2.5 0 2.5 0 2.4 0 2.5 .1 2.5 0 1.9" stroke="#f28c2e" stroke-width="1.0"/>
<path d="M104.0 177.3l.4-.6 .4-2.4 .4 2 .4-2.9 .4 4.4 .4-2.1 .4-.1 .4-1.4 .4 4.5 .4-7.4 .4 2.1 .4 2.6 .4 0 .4 .8 .4-2.6 .4-3.3 .4 .7 .4 .2 .4 1 .4 3.7 .4-3.9 .4 2.7 .4 3.3 .4-3.7 .4-7.3 .4 9 .4-.2 .4-3 .4-1.5 .4-.2 .4 4 .4-.8 .4 4.2 .4-2.3 .4-9.1 .4 9.1 .4-3.1 .4 2.5 .4-2.3 .4-1.2 .4 0 .4 3.8 .4-1.5 .4-1.6 .4 6.4 .4-4 .4-1 .4 1 .4-2.6 .4 3 .4-2.6 .4-1.9 .4 1.7 .4-3.3 .4 4.2 .4 3 .4-3.5 .4 3.5 .4-4.4 .4-.4 .4 2.5 .4 .6 .4 2.3 .4-6.1 .4 3.7 .4-1 .4 2.3 .4-2 .4 1 .4-2 .4-.7 .4-1.8 .4 7.5 .4-2 .4-1.6 .4 3.6 .4-6.1 .4 4.5 .4-3.8 .4-4.6 .4 8.6 .4-2 .4-1.2 .4 1.9 .4-7.3 .4 6.3 .4-3.2 .4 4.4 .4-2 .4 6 .4-5.7 .4 4.4 .4-6.6 .4 .2 .4-2.6 .4 8.6 .4-5.1 .4-3.2 .4 3.6 .4 2.9 .4-1.2 .4-4.1 .4 4.7 .4-1.4 .4 .3 .4-2.6 .4 3.9 .4-1.7 .4 1.6 .4 2.2 .4-10.6 .4 5.4 .4-1.8 .4 3.7 .4 3.1 .4-2.8 .4 1.1 .4-4.1 .4 .5 .4-2.7 .4 4.4 .4-.9 .4-.1 .4 3.2 .4-3.9 .4 .5 .4-1.3 .4 3.8 .4-7.4 .4 7.1 .4-.6 .4-1.3 .4 3 .4-3.5 .4 3 .4-4.2 .4 5.9 .4-1.4 .4-1.8 .4 1.1 .4 2.6 .4-3.5 .4 1.9 .4-1.9 .4-2.8 .4 6.2 .4-1.8 .4-3.3 .4 .5 .4-1.2 .4 4 .4-5 .4-.1 .4 5.6 .4-.9 .4 .5 .4-.5 .4 1.6 .4-1.8 .4 .3 .4-2.9 .4 5.2 .4-4.6 .4 .3 .4 .5 .4-.1 .4 1 .4 3.5 .4-6.9 .4 4.7 .4-2.9 .4-4.8 .4 3.3 .4 5.2 .4 1.4 .4-5.1 .4 2.2 .4-.5 .4-1.4 .4 .7 .4 1.1 .4 2.2 .4-3.5 .4 2.1 .4-4.1 .4 2.3 .4-7.9 .4 5 .4 3.7 .4-1.3 .4 .7 .4-1.5 .4-2.4 .4 5.7 .4-3.6 .4-6.8 .4 10.2 .4-4 .4 2.5 .4-.7 .4-.5 .4 2.8 .4-3.1 .4-1.1 .4 3.2 .4-2 .4-1.2 .4 2.2 .4-4.2 .4 8.9 .4-6.9 .4-1.1 .4 6.4 .4-10.4 .4 8.3 .4-5.1 .4 3.8 .4-1 .4-.6 .4-3 .4 7.2 .4-1.7 .4-2.1 .4 1.7 .4-.9 .4 1.6 .4 3.2 .4-4.2 .4-.3 .4 1.5 .4-2.9 .4-4.8 .4-1.2 .4 8.4 .4-.8 .4 3.1 .4-3 .4 3.3 .4-2.6 .4-1.8 .4 2.4 .4 .7 .4-2.8 .4 1.1 .4-3.3 .4 2.3 .4 3 .4-3.3 .4 2 .4-3.4 .4 6.9 .4-4.8 .4 0 .4-4.1 .4 3.6 .4 3.9 .4-1.6 .4-3.6 .4 .4 .4 .5 .4 1.6 .4-3.9 .4 6.3 .4-3.7 .4-2.6 .4 9 .4-10.1 .4 4.5 .4 5.1 .4-1.6 .4-.6 .4-2.1 .4-1.3 .4 1.4 .4-2.3 .4-2.5 .4 4.7 .4-1.8 .4 3.6 .4-1.3 .4-4.6 .4 5.3 .4-8.8 .4 8.3 .4-2.6 .4 2 .4 .4 .4-.7 .4 .6 .4-.3 .4 2.3 .4-7 .4 5.9 .4-3.4 .4 1.3 .4-.6 .4 .8 .4 3.4 .4-7.6 .4 1.6 .4 5.1 .4-7.6 .4 8.2 .4-1.9 .4 1.8 .4-5.8 .4 4.8 .4-1.7 .4-.9 .4 1.5 .4-8.1 .4 3 .4 1.8 .4 3.2 .4-1.7 .4-.4 .4-1.9 .4 .8 .4 2.4 .4-1.1 .4-1.6 .4 2.9 .4 3.2 .4-4.4 .4 1.7 .4 2.4 .4-5.4 .4 2.1 .4 2 .4-.8 .4-.7 .4-.2 .4-7.7 .4 6 .4-1 .4 3.8 .4-2.1 .4-2.8 .4 2.7 .4-.8 .4 6.8 .4-4.6 .4-.5 .4 1 .4-.9 .4-2.1 .4 2.2 .4 2.8 .4-.7 .4 .3 .4-1.4 .4-1.3 .4-.5 .4-.6 .4 1.4 .4-1.2 .4 4.4 .4-4.4 .4-2.2 .4 2.2 .4 1.3 .4-.4 .4-.9 .4 5.8 .4-2.6 .4-3.9 .4 .9 .4 1.8 .4-2.3 .4-.1 .4 6.6 .4-2 .4-2.1 .4 .4 .4-2.4 .4-1.3 .4 2.2 .4 .2 .4 4 .4-9.2 .4 10.4 .4-9.6 .4 3.9 .4 .2 .4 1 .4-.5 .4 1.4 .4-3.4 .4 4.3 .4 .4 .4-5.3 .4 2.4 .4-1.2 .4 1.1 .4-6.2 .4 3.7 .4 .8 .4 3.7 .4-2.2 .4 .4 .4 2.9 .4-5.1 .4 1.3 .4 2 .4-5.5 .4 1.2 .4 8.3 .4-8.4 .4 2.5 .4-2.1 .4 1 .4 1.1 .4 .4 .4 1.9 .4-3.9 .4 .9 .4 .7 .4-.5 .4 3.4 .4-2.8 .4-.1 .4 1.2 .4 1.1 .4-6.4 .4 5.6 .4-2.4 .4-3.2 .4 3.2 .4 1.4 .4 3.4 .4-4.4 .4 0 .4-1.6 .4 .3 .4 1.6 .4-.4 .4-.4 .4 5.1 .4-4.1 .4-2 .4 4.3 .4 3.7 .4-.9 .4-9.7 .4 2.6 .4 0 .4-.6 .4 1.6 .4 .5 .4 2.1 .4-1.4 .4-3.9 .4 3.6 .4 1.6 .4-2 .4 1.5 .4-1.6 .4-.3 .4 3.2 .4-.2 .4-4.7 .4 6.2 .4-.5 .4-1.5 .4 2.1 .4-5.9 .4 3.6 .4 .5 .4-1.9 .4-2.1 .4 6.4 .4-6.4 .4 2 .4-4.3 .4 8.5 .4-3 .4 .1 .4-.9 .4-2.6 .4 3.3 .4 .9 .4-3.3 .4 1.8 .4 .5 .4-2.2 .4-.5 .4-.1 .4-2.3 .4 .7 .4 4.6 .4-4.5 .4 5 .4 1.1 .4-5.2 .4 6.5 .4-6.2 .4 1.7 .4 3.5 .4-4.1 .4-1.7 .4-2.5 .4 .4 .4 3.3 .4 2.1 .4-2.2 .4 1.9 .4-2.7 .4 1.7 .4 3 .4-.9 .4 1.5 .4-1.3 .4-2.8 .4 3.5 .4-4.8 .4-.1 .4 3.6 .4-3.5 .4 4.5 .4-3 .4 2.5 .4-2.7 .4 1.5 .4 4.1 .4-6.4 .4 5.7 .4-6.7 .4 2.5 .4 2.2 .4 4.6 .4-7.8 .4 3.7 .4 3.2 .4-2.8 .4-2.1 .4 3.4 .4-2.4 .4-5 .4 3.9 .4 .2 .4-1.1 .4 1.4 .4 .8 .4 1.5 .4-10.4 .4 3.2 .4 4.5 .4 .1 .4-.3 .4 1.7 .4-1.5 .4-3.3 .4 1.7 .4-.1 .4-1.6 .4 3.4 .4-.1 .4 2.7 .4-.1 .4 0 .4-2.1 .4-2.3 .4-2.4 .4 .5 .4 5.1 .4 .3 .4-2.2 .4-2.2 .4 0 .4-.3 .4 3 .4-7.8 .4 7.7 .4 1.8 .4-.5 .4 1.2 .4 .5 .4-.7 .4-1.3 .4-1 .4 1.8 .4-.3 .4-1.4 .4-1.5 .4 5.3 .4-6.2 .4 2.6 .4-1.5 .4-.3 .4 2 .4-1.3 .4 1 .4-2.2 .4 1.7 .4 3.7 .4-3.5 .4-.3 .4 2.3 .4-7.5 .4 3.1 .4 1.5 .4 1.4 .4 .2 .4 3 .4-1.3 .4-3.3 .4 1.7 .4-.9 .4 2.4 .4-1.6 .4 .9 .4-1.2 .4 1.2 .4 1.2 .4-.3 .4 3.6 .4-1.6 .4-5.3 .4-2.6 .4 2.9 .4 1.6 .4-.5 .4 2.7 .4-2.2 .4-6.4 .4 7.1 .4-4.4 .4 3.8 .4 .7 .4-8.5 .4 9.8 .4-1.6 .4 .9 .4-3.6 .4-.7 .4 .7 .4-.6 .4-.8 .4-.3 .4 4 .4-.7 .4-2.1 .4 3.8 .4-3.4 .4-1.3 .4 4.3 .4-3.5 .4 .1 .4 3.2 .4-8.5 .4 7.9 .4-4 .4 6.5 .4-4.4 .4-.1 .4-1.9 .4 3 .4 .3 .4 3.4 .4-3.2 .4-4.4 .4 9 .4-8.9 .4 7.1 .4-1.8 .4-.5 .4 .9 .4-1 .4 .6 .4 3.4 .4-2.5 .4-.4 .4 1.6 .4-6 .4 3.8 .4 2.5 .4-2.4 .4 .2 .4-.4 .4-.5 .4 .5 .4-2 .4 4.7 .4-1.1 .4-4.2 .4 .7 .4 .8 .4-.2 .4-1.4 .4-1 .4 .3 .4 4.9 .4-2 .4-2.5 .4-.2 .4-2.3 .4 4.5 .4 1.6 .4-2.9 .4-2 .4 1.6 .4 4 .4-1.6 .4-1.8 .4-1.1 .4 1.7 .4-.5 .4 1.9 .4-1.8 .4 2 .4-5.4 .4 3.9 .4-.3 .4 1.8 .4-6 .4 6.9 .4-7.6 .4 3.7 .4 .3 .4 .5 .4 .6 .4-.5 .4 2.1 .4 .1 .4-1.9 .4-3.8 .4 3 .4 1.9 .4-2.9 .4 .8 .4 2.1 .4 5.3 .4-7.4 .4 1.1 .4 2.9 .4-1.6 .4-1.5 .4 .8 .4-.6 .4-1.1 .4-.8 .4 1.1 .4 1 .4-1.6 .4 .7 .4-1.8 .4 2 .4-1.9 .4 1.4 .4 5.8 .4 1.6 .4-3.4 .4-2.2 .4-3.4 .4-4.2 .4 10.4 .4-3.9 .4-3.9 .4 3.6 .4-3.2 .4 4 .4-1.2 .4 6.4 .4-7.1 .4-2.2 .4 3.3 .4 5.6 .4-1 .4 1.7 .4-2.5 .4-3.2 .4 2.7 .4 .9 .4-6 .4-.5 .4 2.1 .4 .6 .4 .3 .4 .7 .4-6.8 .4 2.9 .4 2.8 .4 4.6 .4-6.1 .4-1.3 .4 2.5 .4 1.5 .4-2.2 .4 2.4 .4-1.3 .4 3 .4-3.3 .4 .1 .4-1.2 .4 4.1 .4-1.3 .4 .9 .4-.7 .4 3.8 .4-6.4 .4 1.1 .4 1.1 .4-2.1 .4-.2 .4 .7 .4-1.2 .4 2.3 .4 .8 .4-3.7 .4 4.9 .4-9.7 .4 13.6 .4-4.2 .4-.8 .4 2 .4-1.5 .4-1.3 .4 5.1 .4-8.4 .4 1.4 .4 4.2 .4 .2 .4 .5 .4-.2 .4-1.4 .4-4.9 .4 1.4 .4 3.5 .4-5.8 .4 4.8 .4 .2 .4-2.1 .4-2.1 .4 6.7 .4 2.2 .4-3.1 .4 .4 .4-5 .4-2.3 .4 7.2 .4-4.6 .4 4.5 .4-.1 .4-5.4 .4 2.2 .4 3.2 .4-4.5 .4 6.5 .4-2.6 .4-5.8 .4-1.6 .4 6.4 .4 1.2 .4 1 .4-6.2 .4 7.1 .4-5.5 .4-.3 .4-.9 .4 1.3 .4 .9 .4-2.7 .4 7.6 .4-12 .4 9.2 .4-2.6 .4 4.2 .4-3.7 .4-2.8 .4 5.4 .4 .1 .4-1.8 .4-1.7 .4 3.2 .4 .2 .4-2.6 .4 1 .4-.8 .4 .8 .4-.4 .4 2.1 .4-1.5 .4 .7 .4-2.2 .4 3.4 .4-1.9 .4-5.7 .4 5.5 .4 .7 .4 .4 .4-1.6 .4-.5 .4 1.3 .4 1.7 .4-1.7 .4-1.3 .4 2.4 .4-7.5 .4 5.3 .4-6 .4 8 .4 2 .4-2.3 .4 4.3 .4-6.5 .4 3.2 .4-1.2 .4-3.2 .4 1.9 .4 1.8 .4-4.8 .4 6.9 .4-7.8 .4-.8 .4 8.2 .4 .8 .4-1.2 .4-1.6 .4-2.8 .4 3.2 .4 .6 .4-2.7 .4 1.9 .4-.4 .4-2 .4-.9 .4 6.4 .4-1.1 .4-7.1 .4 7.6 .4-5 .4 2.5 .4-5.1 .4 5.4 .4-1.1 .4 .3 .4 .5 .4 .7 .4-5.8 .4 5 .4-.5 .4 3.1 .4-3.7 .4-4.2 .4 1.5 .4-.5 .4-.1 .4-1 .4 3.8 .4 0 .4 .7 .4-.3 .4-4.4 .4 6.6 .4 .8 .4-2.6 .4-1.8 .4-.8 .4 4.3 .4-.4 .4 .2 .4-1.9 .4 .2 .4 3.2 .4-6.3 .4 1.7 .4 2.7 .4-.4 .4-1.3 .4-5.8 .4 5.8 .4-1.8 .4 2.9 .4 4.2 .4-.5 .4-5.9 .4 3.4 .4 1.1 .4-.6 .4-3.2 .4 2.4 .4 .8 .4-2.5 .4 1.1 .4-.8 .4 .8 .4-1.1 .4 0 .4 .7 .4-2.1 .4 .6 .4 2.5 .4-7.9 .4 6.3 .4-2.4 .4 4.2 .4-2.7 .4-3.6 .4 6.4 .4-1 .4 .7 .4-1.4 .4-.9 .4 2.7 .4 .2 .4-3.9 .4 4.2 .4-3 .4-3.7 .4 3 .4 2.5 .4 1 .4-7.2 .4 8 .4-1.9 .4-.1 .4-3.8 .4 1.2 .4 2.4 .4-5.3 .4 4.6 .4-.7 .4 2 .4-3.3 .4-.2 .4 2.2 .4 .1 .4-2.3 .4 0 .4 3.1 .4-6.4 .4 2.3 .4-1.4 .4 6.8 .4-4.6 .4-1.5 .4 3.8 .4 1.1 .4 4.5 .4-8.1 .4 2.2 .4 .5 .4 3.4 .4-2.2 .4 1.4 .4-6.8 .4-2.3 .4 8.3 .4-1 .4-2.9 .4-2.1 .4 1.7 .4 2.4 .4-1.9 .4 1.8 .4-2.2 .4-1.5 .4 3.8 .4 1 .4-4 .4 2.4 .4-.5 .4 3.1 .4-3.5 .4 .8 .4-2 .4 1.4 .4-.1 .4 3.1 .4 1.4 .4-3 .4-.7 .4 .3 .4-1.5 .4 .2 .4-2.3 .4 3.1 .4 4.7 .4-3.8 .4-1.6 .4 3.6 .4-6.3 .4 2.7 .4-1 .4 3 .4-1.1 .4 1.7 .4-3.7 .4 5.3 .4-4.6 .4 1.5 .4-3.3 .4 1 .4 2.7 .4-7.2 .4 1.9 .4 5.7 .4-7.2 .4 12.2 .4-2.5 .4-6 .4 2.8 .4 2.6 .4-2.3 .4 2.1 .4 .5 .4-7.4 .4 2.3 .4 2.6 .4-3.9 .4 .4 .4 6.8 .4-6.3 .4 3.1 .4-2 .4 4.4 .4-3.3 .4 3.6 .4-3.2 .4 .5 .4-.6 .4 5 .4-4.2 .4 .1 .4-2.4 .4 .4 .4 2.6 .4-3.3 .4 3.4 .4 3.4 .4-3.1 .4-1.8 .4-1.3 .4 2.9 .4-1.9 .4 3 .4-3.5 .4 .3 .4 1.5 .4-.3 .4-1.6 .4 4 .4-.7 .4-2.5 .4-.2 .4-1.9 .4 4.6 .4-2.6 .4 1 .4-2.3 .4-.8 .4 3.9 .4-2.6 .4 3.6 .4-.5 .4 .6 .4-3.3 .4-1.3 .4 1.6 .4 3.6 .4-7.5 .4 4.1 .4 1.2 .4-1.7 .4-2.2 .4 2 .4-.1 .4 .2 .4 5.9 .4-9 .4 7.1 .4-3.2 .4 3.3 .4-1.9 .4 0 .4 1.4 .4 .3 .4-1.3 .4-5.1 .4 2.5 .4 3.3 .4-4.5 .4 2.9 .4 3.7 .4-7 .4 4.1 .4-2.6 .4 1.4 .4 1.4 .4-3.8 .4 2.3 .4-1.5 .4-1.4 .4 4.7 .4-2.3 .4 3.3 .4-6.5 .4 4.4 .4 1.4 .4-4.5 .4 7.8 .4-4.7 .4-4 .4 1.8 .4-.6 .4 2.2 .4-4.7 .4 2.7 .4-.1 .4-2.4 .4 2.2 .4 2.3 .4 2 .4-6.5 .4 4.1 .4-.3 .4 .8 .4-4.5 .4 4.9 .4-1.4 .4 5.4 .4-6.4 .4 1.5 .4 1.8 .4-2.5 .4 3.6 .4-3 .4 3.5 .4-9.2 .4 4.6 .4 1.4 .4-2.1 .4 7.7 .4-6.7 .4 4 .4-2.5 .4 .6 .4 1.4 .4-7 .4 8.1 .4-4.4 .4-1.7 .4 3 .4-.5 .4-5 .4 5.1 .4-1.4 .4-2.4 .4 4 .4-1 .4-1.1 .4 1.8 .4-.7 .4-1.9 .4 2.6 .4-1.5 .4-.3 .4 .3 .4 3.1 .4-5.4 .4 .7 .4 3.4 .4 .4 .4-2.6 .4 2.1 .4-.7 .4 .2 .4-.5 .4-1.2 .4 .6 .4 4.5 .4-1.9 .4 .5 .4 1.8 .4-2.4 .4-.4 .4-3 .4 5.2 .4-2.8 .4 1.4 .4 0 .4-3 .4 3.5 .4-.4 .4 1 .4 1.5 .4-1.6 .4-3.2 .4 3.1 .4-2.7 .4-3 .4 1.9 .4 3.5 .4-1.6 .4 .6 .4-4.3 .4 .2 .4 2.1 .4 .4 .4-2 .4 2 .4-2.6 .4 .7 .4 3.9 .4-3.4 .4-2.8 .4 3.7 .4-2.7 .4 .4 .4 0 .4 3.7 .4 .4 .4 .8 .4-2.4 .4 1.7 .4-1.3 .4-2.8 .4 2.6 .4 1.9 .4 2.6 .4-4 .4 1.4 .4-2.8 .4 .1 .4 1.8 .4-2.6 .4 2.5 .4 .8 .4-3.1 .4 3 .4-1.4 .4-1.9 .4 3.3 .4 .1 .4-3.3 .4 2.7 .4-.6 .4 3.7 .4-8.2 .4 5.6 .4-1.4 .4-1.1 .4 3.5 .4-2.1 .4 2.2 .4-6.9 .4 7.9 .4 .1 .4-1.9 .4-.2 .4-2.2 .4 5.1 .4-3.2 .4-1.5 .4-1 .4 6.1 .4-1.5 .4-4.7 .4-1.4 .4 1.2 .4-3.7 .4 5.9 .4-5.2 .4 3.6 .4-1.7 .4-.6 .4 4.3 .4 .5 .4-4.7 .4 2.3 .4-.7 .4 1 .4 2.1 .4 .2 .4 3.8 .4-5.8 .4 1.7 .4-1.1 .4 2.7 .4-9.9 .4 6.5 .4 5.1 .4-2.2 .4-6 .4 4.5 .4-1.3 .4 .5 .4 4.8 .4-3.8 .4 .2 .4-2 .4-.5 .4 1 .4 1.9 .4-.7 .4-2 .4-3.6 .4 4.1 .4 2.6 .4-3 .4 .8 .4 2.6 .4-5.2 .4 4.3 .4-3 .4-1 .4-.3 .4 4.6 .4-4.9 .4 3.5 .4 3.2 .4 .9 .4-3.7 .4-.3 .4 2 .4-1.9 .4-3.1 .4-1.8 .4 2.9 .4-1.7 .4 2.2 .4 .1 .4 3.9 .4-2.7 .4 1.5 .4 2 .4-4.2 .4 .7 .4-2.3 .4 3.8 .4-3.9 .4 3.9 .4-2.9 .4 3 .4-1.1 .4 2.2 .4-3.8 .4 1.6 .4-2.9 .4 5.4 .4-5.6 .4-.7 .4 1.5 .4 3.9 .4-3.1 .4 3.3 .4 .4 .4-3.3 .4 0 .4-.9 .4-4.1 .4 6 .4-4.9 .4 .3 .4 6.6 .4-4.2 .4-.3 .4 1.6 .4-2.3 .4-3.1 .4 5.6 .4 .7 .4 .2 .4 4.3 .4-7.5 .4 .8 .4 4.3 .4-2.4 .4 2.2 .4 2.3 .4-9.1 .4 2.2 .4 1.3 .4 .7 .4-2.1 .4 2.9 .4 3.4 .4-3.5 .4-2.1 .4-2.8 .4 6.1 .4-4.7 .4 .9 .4-2.1 .4 3.5 .4 .8 .4-.6 .4 0 .4 1.8 .4-2.5 .4 2.8 .4-2.8 .4 .2 .4 2.7 .4-3.8 .4 0 .4 2 .4 4.3 .4 .2 .4-.6 .4-7.4 .4 3.9 .4-3.1 .4 4 .4-3.4 .4 1.4 .4 .3 .4 2.1 .4-3.2 .4 4.5 .4-1.5 .4-2.2 .4 1.7 .4-1.1 .4-2.2 .4 .1 .4 1.6 .4-.6 .4-4.4 .4 8.3 .4 1.1 .4-3.8 .4-3.2 .4 1 .4-3.4 .4 5.5 .4 2.9 .4-4 .4-2.7 .4 4.1 .4-.6 .4 5.9 .4-5.6 .4 5.2 .4-5.9 .4-1 .4 .5 .4-6.4 .4 11.3 .4-3.4 .4 .2 .4-1.1 .4 .5 .4 2.1 .4-.4 .4-2.8 .4-2 .4 5.1 .4-3.5 .4-.4 .4-.8 .4 3 .4 2.8 .4 1.6 .4-4 .4 3.5 .4-.5 .4-.3 .4-3.7 .4 1.7 .4-1.5 .4 1.6 .4 1.2 .4-1.1 .4-6.2 .4 5.6 .4 2 .4-6.4 .4 3.9 .4-2.1 .4 1.5 .4 1.8 .4-2.1 .4 3.1 .4-1.5 .4 3.9 .4-7.8 .4 3.9 .4-.7 .4-1.5 .4-1 .4 2.6 .4-1.9 .4-.4 .4 3.6 .4 .2 .4 1.9 .4-3 .4-4 .4 2.6 .4 1.3 .4 1.3 .4-3 .4 1.8 .4-.8 .4-3.5 .4 2 .4 5.1 .4-7.3 .4 3.3 .4 .5 .4 0 .4 .9 .4-.2 .4 .2 .4-3.7 .4 2.7 .4 1.2 .4 2.9 .4-.7 .4-4.3 .4 4.7 .4-2.6 .4-2.4 .4 6 .4-3.6 .4-2.9 .4 .5 .4 4.4 .4-4.2 .4 1.7 .4-.8 .4-4 .4 6.2 .4-5.2 .4 4.7 .4 2 .4-2.9 .4 .8 .4-1 .4-.5 .4 5.6 .4-4.9 .4-4.2 .4-.5 .4 2.9 .4 .6 .4-.4 .4 2.2 .4-6.8 .4 5 .4-1.6 .4 4 .4-9.4 .4 9.1 .4-3.2 .4-.8 .4 1.7 .4 1 .4 1.9 .4-.2 .4-1.9 .4-4.7 .4-.9 .4 4.7 .4 2.1 .4 .1 .4-.1 .4-7 .4 4.1 .4-.4 .4 3.8 .4-1 .4-.2 .4-3.1 .4 3.4 .4 1.3 .4-1.7 .4-2.6 .4-2.4 .4 5.5 .4-3.2 .4 1.9 .4-.4 .4 .8 .4-.2 .4-.2 .4 2.5 .4-2.7 .4-.1 .4-2.5 .4 7.6 .4-5 .4-2.5 .4 .1 .4-1.1 .4 5 .4 1.9 .4-2 .4-2.7 .4-.8 .4 3 .4-1.7 .4 .2 .4 .6 .4-1.3 .4 .4 .4 2 .4-1.5 .4 .5 .4-.7 .4 5.2 .4-3.4 .4-3.3 .4 5.2 .4 1.1 .4-2.5 .4 .3 .4-1 .4-4.9 .4 9.2 .4-3.7 .4-.5 .4 1.2 .4-5.2 .4 5.9 .4-.3 .4-1.6 .4-3.8 .4 4.9 .4-2.5 .4 2 .4 .5 .4-.7 .4 0 .4 .7 .4 1.2 .4-1.6 .4-5 .4 1.4 .4 .3 .4 2.8 .4-1 .4-1.1 .4 1.7 .4 2.1 .4-1.9 .4-.6 .4-.4 .4-4.2 .4 2.9 .4 2.5 .4-2.1 .4 1.4 .4 5.2 .4-6 .4 4 .4-1.4 .4 1.6 .4 .2 .4-4 .4-3 .4 3.9 .4 5.5 .4-8.9 .4 2 .4 .5 .4 3 .4-3 .4 .8 .4 1.9 .4-6.8 .4 2.8 .4 3.9 .4 .1 .4-2.1 .4 1.1 .4-.7 .4 1.3 .4-2.7 .4 5.4 .4-3.1 .4 .7 .4-7.7 .4 3.1 .4 2 .4-1.1 .4 2.2 .4-3 .4 8.1 .4-6.2 .4 1.5 .4 1.2 .4-3.8 .4 1.5 .4 1.7 .4-3.4 .4-2.4 .4 3.5 .4-.4 .4 3.6 .4-3.8 .4 6.1 .4-1.3 .4-3.3 .4 2.4 .4-.8 .4-5.1 .4 3.1 .4 1.6 .4-1.2 .4 1.4 .4-5.2 .4-1.3 .4 1.1 .4 4.4 .4 1 .4 3.7 .4-1.7 .4-7.3 .4 3.4 .4-.3 .4 3.1 .4-1.4 .4 .4 .4 .1 .4 1.8 .4-5.7 .4-4.8 .4 6.4 .4 1.3 .4-1.1 .4 .5 .4 1.8 .4-1.4 .4-1.5 .4-2.8 .4 5.5 .4-3 .4 2.4 .4-6.1 .4 11 .4-2.4 .4-2.8 .4-2 .4 2.4 .4-2.9 .4 3.4 .4-3.1 .4-.2 .4 0 .4 2.6 .4 1.7 .4-2.4 .4 0 .5 .3 .5 .4 .5 .3 .5 .3 .5-7.6 .5 8.3 .5 .4 .4 .4 .5 .4 .5 .4 .5 .4 .4 .4 .3-1.1 .1-2 .1-2 .2-2 .1-2 .1-2 .2-2 .1-2.1 .1-2 .2-2 .1-2 .1-2 .2-2 .1-2 .1-2 .1-2 .2-2 .1-2 .1-2 .1-2 .1-2 .2-2 .1-2 .1-2 .1-2 .1-2 .1-2 .2-2 .1-2 .1-2 .1-2 .1-2 .1-.2 .1 2.4 .1 2.4 0 2.4 .1 2.4 .1 2.4 0 2.4 .1 2.4 .1 2.4 0 2.4 .1 2.4 .1 2.4 0 2.4 .1 2.4 .1 2.4 0 2.4 .1 2.4 .1 2.4 0 2.4 .1 2.4 .1 2.4 0 2.4 .1 2.4 .1 2.2 .1 2 .1 2.2 .1 2 .1 2 .1 2 .1 2 .1 2.2 .1 2.2 .1 2 .1 2 .1 2 .1 2 .1 2.2 .1 .2 .1-2.2 .1-2.2 .1-2.2 .1-2.2 .1-2.2 .1-2.2 .1-2.2 0-2.2 .1-2.2 .1-2.2 .1-2.2 .1-2.2 .1-2.2 .1-2.2 .1-2.2 0-2.2 .1-2.2 .1-2.2 .1-2.2 .1-2.2 .1-2.2 .1-2.2 .1-2 .1-1.8 .2-1.8 .1-1.8 .1-1.8 .2-1.8 .1-8.1 .1 4.5 .2-1.8 .1-1.8 .2-1.8 .1-1.8 .1-1.8 .2-1.8 .1-1.8 .1-1.8 .2-1.8 .1-1.8 .1-1.8 .2-1.8 .1-1.8 .1-6.4 .1 5.2 .1 2.4 0 2.4 .1 2.4 0 2.4 .1 2.4 .1 2.4 0 2.4 .1 2.4 0 2.4 .1-3.7 0 8.5 .1 2.4 0 2.4 .1 2.4 0 2.4 .1 2.4 0 2.4 .1 2.4 0 2.4 .1 2.4 .1 2.4 0 2.4 .1 2.4 0 2.4 .1 2.4 0-5 .1 9.8 0 2.4 .1 2.4 0 2.4 .1 2.4 0 2.4 .1 2.4 0 2.4 .1 2.4 .1 2.4 0 2 .1-2.2 .1-2.2 .1-2.2 .1-2.2 0-2.2 .1-2.2 .1-2.2 .1-2.2 .1-2.2 .1-2.2 .1-2.2 .1-2.2 .1-2.2 0-2.2 .1-2.2 .1-2.2 .1-2.2 .1-2.2 .1-2.2 .1-10 .1 5.6 0-2.2 .2-2.2 .1-2 .1-2 .2-2 .1-2 .1-2 .2-2 .1-2 .1-2 .2-2 .1-2 .1-2 .2-2 .1-7.7 .1 3.7 .1-.2 0 2.6 .1 2.6 0 2.6 0 2.6 .1 2.6 0 2.6 0 2.6 .1 2.6 0 2.6 0 2.6 .1 2.6 0 2.6 0 2.6 .1 2.6 0 2.6 0 2.6 .1 2.6 0 2.6 0 2.6 .1 2.6 0 2.6 0 2.6 .1 2.6 0-3.9 0 9.1 .1 2.6 0 2.6 0 2.6 .1 2.6 0 2.6 0 2.6 .1 2.4 0 2.4 .1 2.4 0 2.4 0 2.4 .1 2.4 0 2.4 .1 2.4 0-1.8 0 6.6 .1 2.4 0 2.4 .1 2.4 0 2.4 0 2.4 .1 2.4 0 2.4 .1 2.4 0 2.4 .1 2.4 0 2.4 0 2.4 .1 2.4 0 2.6 0 2.6 .1 2.6 0 2.6 0-4.5 .1 9.7 0 2.6 0 2.6 .1 2.6 0 2.6 0 2.6 .1 2.6 0 2.6 0-1.8 .1-2.6 0-10.2 0 .9 .1 1.5 0-2.6 .1-2.6 0-2.6 0-2.6 .1-2.6 0-2.6 .1-2.6 0-2.6 0-2.6 .1-2.6 0-2.6 .1-2.2 .1-2.2 0-2.2 .1-2.2 .1-2.2 0-2.2 .1-2.2 .1-2.2 .1-2.2 0-2.2 .1-2.2 .1-2.2 .1-2.2 0-2.2 .1-2 .1-2 .2-8.3 .1 4.3 .1-2.2 .1-2 .1-2 .1-2 .1-2 .1-2.2 .1-2.2 .1-2 .1-2 .1-2 .1-2 .1-2.2 .1-2.2 .1-2 .1-2 .2 1.8 .1 1.6 .2 1.8 .2 1.8 .2 1.8 .2 1.8 .1 1.6 .2 1.8 .2 1.8 .2 1.8 .1 1.8 .2 1.8 .2 1.8 .2 1.6 .1 1.8 .2 1.8 .2 1.8 .2 1.8 .1 1.6 .2 1.8 .2 1.8 .2 1.8 .1 .6 .2-2 .1-2 .1-2 .2-2 .1-2 .1-2 .2-2 .1-2 .1-2 .2-2 .1-2 .1-2 .2-2 .1-2 .1-2 .2-2 .1-2 .1-2 .2-2 .1-2 .1-2 .2-6 .1 2 .1-2 .2-2 .1-2 .1-2 .2-2 .1-2 .1-2 .1-2.4 .1-2.4 0-2.4 .1-2.4 .1-2.4 .1-2.4 0-2.4 .1-2.4 .1-2.4 .1-2.4 0-2.4 .1-2.4 .1-2.4 .1-2.4 0-2.4 .1-2.4 .1-2.4 .1-2.4 0-2.4 .1-2.4 .1-2.4 .1-2.4 0-2.4 .1-2.4 .1-2.4 .1-2.4 0-2.4 .1-2.4 0-2.6 0-2.6 .1-2.4 0-2.6 .1-2.6 0-2.4 .1-2.6 0-2.6 0-2.4 .1-2.6 0-2.6 .1-2.4 0-2.6 .1-2.6 0-2.4 0-2.6 .1-2.6 0-2.4 .1-9.6 0 4.4 .1-2.4 0-2.6 .1-1.8 .2-1.8 .2-1.8 .1-1.8 .2-1.8 .1-1.8 .2-1.8 .2-1.8 .1-1.8 .2-1.8 .2-1.8 .1-7.2 .1 4.6" stroke="#ec3224" stroke-width="1.0"/>
<path d="M104.0 165.2l.7 .5 .7-.7 .7 1.9 .7-1.9 .7 1.1 .7-1.6 .7-.7 .7 .1 .6-9.3 .7 11.9 .6-.8 .7-1.5 .7 1.6 .7-1.1 .7-.3 .7-.5 .7-.7 .7 .4 .7 3.7 .7-4.2 .7 1.6 .7-.8 .7 1.3 .7-.2 .7 .1 .6-8 .7 10.2 .6-1.1 .7-2.1 .7 1.9 .7-1.1 .7 .6 .7 1.9 .7-1.3 .7 .6 .7-4.3 .7 .8 .7 2 .6-11.5 .7 13.5 .6-2.1 .7 .9 .7-.4 .7 .2 .7-.3 .7 .5 .7-.9 .7-.8 .7 .6 .7 .2 .7-.4 .7 .5 .7 .6 .7-1.6 .6-6.2 .7 10.3 .6-1.9 .7-.4 .7-2.1 .7 1.1 .7-1.5 .7 1.1 .7 .7 .7 0 .6-5 .7 6.2 .6-.9 .7-.3 .7-2.2 .7 2.2 .7-.7 .7 .7 .7-.9 .7 1.4 .7-.4 .7-.7 .7 .2 .7 .5 .6-6 .7 7.7 .6-3.1 .7 2.9 .7-.6 .7 .3 .7-2.4 .7-.1 .7 1.6 .7-1.3 .7 2.1 .7-.4 .6-6.3 .7 6.8 .6-2.8 .7 .9 .7-.4 .7 .2 .7 2.3 .7-.7 .7-.5 .7 .3 .7-1 .7-2.3 .7 2.4 .7 1.4 .7-2.7 .7 1.3 .6-7.7 .7 9.8 .6 .2 .7-2.9 .7 .1 .7-.1 .7-.7 .7 3 .7-1.8 .7-.8 .7 1.4 .7 .3 .7-1.4 .7-.2 .7-.3 .6-7.8 .7 11.6 .6-3.7 .7-.2 .7 1.2 .7-2.1 .7 2.4 .7 1.9 .7-2.8 .7 1.6 .7-.2 .6-6.9 .7 8.8 .6-2.6 .7 .9 .7 .7 .7-2.3 .7 .9 .7-.3 .7-1.7 .7 .4 .7 1.6 .7-1.4 .7 .1 .7 1.2 .7-2 .7 2.5 .6-4.7 .7 6.5 .6-1.9 .7-1.4 .7 1.4 .7-3 .7 1.5 .7 .2 .7 .3 .7 .6 .7-3.5 .7 3.7 .7-1.4 .7 1.6 .7 .6 .7-.7 .7-.1 .6-7.7 .7 10.1 .6-2.1 .7-.8 .7 .2 .7 .9 .7-3 .7 1.1 .7-.5 .7 2.9 .7-.3 .7-1.6 .7-.1 .6-11.9 .7 13.7 .6-1.1 .7-.3 .7 .2 .7-.6 .7 1.7 .7-2 .7 2.4 .7-2.7 .7 .7 .6-5.8 .7 8.3 .6-2.3 .7 .1 .7 1.2 .7-.8 .7 0 .7 1.6 .7-1.2 .7 .4 .7-.9 .6-5.8 .7 7.1 .6-1.9 .7-.4 .7 2 .7-.7 .7 .9 .7-1.8 .7-1 .7 1.7 .7-.6 .7 .6 .6-7.1 .7 8.1 .6-1.8 .7 .2 .7-.1 .7 1.7 .7-2.5 .7-.1 .7 .2 .7 .4 .7 .2 .7 1.6 .7-.7 .7-.8 .7 0 .7-1.8 .6-2.1 .7 7.2 .6-2.7 .7-1.3 .7 2.4 .7 .4 .7-.5 .7-1 .7 .9 .6-13.4 .7 13.6 .6 .3 .7-3 .7 1.7 .7-1.2 .7 .9 .7 .4 .7-1 .7 1.3 .7 .8 .7 .8 .7-.7 .7-2.8 .7 1.2 .7 .6 .6-4.8 .7 6.2 .6-2.3 .7 1.3 .7-1.8 .7 2.8 .7 .1 .7-1.5 .7-1.5 .7 .1 .7 .8 .7-.1 .7 .8 .7-1.1 .6-5.5 .7 9.3 .6-6.6 .7 2.8 .7 .9 .7 1.2 .7-.8 .7 .4 .7-2.5 .7 1.9 .7-.1 .6-5.3 .7 6.6 .6-2.2 .7 .4 .7 1.5 .7-1.5 .7 .1 .7-.9 .7-.2 .7 3.8 .7-3.9 .7 2.4 .7-.6 .7-1 .7 .8 .7 0 .7-.7 .7-.3 .6-4.4 .7 8.1 .6-3.5 .7 .9 .7 1.3 .7-.7 .7 .2 .7-1.3 .7 2.1 .7-2.2 .7 1.6 .7-2.2 .7-.3 .6-9.8 .7 12.3 .6-2 .7-.6 .7 .6 .7 .4 .7 0 .7 1.9 .7-2.2 .7 1 .7-.6 .7-.3 .7 .6 .7-.3 .6-4.2 .7 5.9 .6-1 .7-1.1 .7-.5 .7 .4 .7 .4 .7-.5 .7 .2 .7 .9 .7-.8 .7 .9 .6-8.4 .7 8.8 .6-2.7 .7 .3 .7 .6 .7 1.5 .7-1.2 .7 1.4 .7-2.8 .7 1.4 .7 .7 .6-4.9 .7 7.6 .6-1.4 .7-1 .7-.5 .7-1.6 .7 2.2 .7 .4 .7-1.2 .7 .4 .6-7.7 .7 9.1 .6-4 .7 2.7 .7-1.2 .7 1 .7 2.4 .7-2.3 .7 .7 .7 .9 .7-.5 .7-1.9 .7 0 .7-.5 .7 1.4 .6-7.3 .7 8.2 .6-1.3 .7-.8 .7 1.1 .7-2.6 .7 2 .7-.7 .7 2 .7-1.3 .7 1.9 .7-1.6 .7 .7 .6-8.1 .7 10.4 .6-2.4 .7 .6 .7-1.7 .7-3.1 .7 3.9 .7 0 .7-.1 .7 .3 .6-7 .7 9.8 .6-3.8 .7 .4 .7 .1 .7 .3 .7-.9 .7-1 .7-1.3 .7 4.2 .7-1.1 .7 .7 .7-1.2 .7 1.5 .7-2.5 .6-6.6 .7 10.8 .6-1.8 .7-2.5 .7 1.1 .7 .7 .7-.5 .7 1.5 .7-1.3 .7 2.6 .6-7.7 .7 6.4 .6-.9 .7-1.1 .7-1.1 .7 3.3 .7-2.1 .7 .2 .7 2.3 .7-1.9 .7-.4 .7 1.5 .7-2.7 .7 1.6 .7-.6 .7 .7 .6-4.6 .7 6.8 .6-2.6 .7 .1 .7-1.6 .7 1.1 .7-.2 .7 .5 .7 .7 .7-1.4 .7 1.2 .7-.2 .7 1.1 .7-.5 .6-5.3 .7 8.1 .6-3.5 .7 .7 .7-.7 .7-1.5 .7 2.4 .7 .6 .7-1.6 .7-.1 .7 .6 .7 0 .7 .3 .7-1.3 .7 .7 .7 .3 .6-5.2 .7 7.4 .6-2.6 .7 .5 .7-1.4 .7 3.3 .7 .1 .7-3.1 .7 2 .7-2.8 .7 .6 .7 .1 .6-6.9 .7 10.3 .6-2.8 .7-1.8 .7 1.9 .7 .2 .7-.8 .7 .2 .7 .9 .7 0 .7-3 .7 2.1 .7-1.3 .7 1.3 .6-4.7 .7 8.7 .6-3.5 .7-.8 .7 .4 .7-.3 .7 1 .7 .4 .7-.3 .7 .2 .7-2.2 .7 3.1 .7-2.4 .7 .7 .7 .2 .6-7.6 .7 11.2 .6-1 .7-.9 .7-.9 .7 .3 .7-1.5 .7 .2 .7 1.1 .7 .4 .7 0 .7-1.6 .6-7.3 .7 10.4 .6-2.3 .7 1.6 .7 .2 .7-3.1 .7-.7 .7 3 .7-1.8 .7-.1 .7 .4 .7-1 .7 1.9 .7-.9 .7 1.3 .7-2.7 .7 2.9 .7-1.2 .6-7.7 .7 9.8 .6-.7 .7-.9 .7-3.9 .7 4.7 .7 0 .7-.5 .7-.5 .7 2.3 .7-3.5 .7 .6 .6-9.6 .7 10.9 .6-4.2 .7 2.6 .7-2.1 .7 1.1 .7 1.9 .7-.3 .7-1.4 .7 1.1 .7-.6 .7 1.5 .7-.5 .7 .9 .7-1.2 .7 1 .6-13.8 .7 14.6 .6-2.4 .7 .9 .7-2 .7 2.1 .7-.3 .7 .8 .7-.7 .7-1 .7 1.5 .7-.5 .7-2 .7 2.9 .6-6.4 .7 6.4 .6-2.1 .7 1.7 .7-1.8 .7 1.5 .7 .8 .7-1.4 .7-.3 .7 .5 .7 2.2 .7 .1 .6-7.9 .7 7.4 .6-1.9 .7 1.6 .7 1.2 .7-2.9 .7-.5 .7 2.6 .7-2.9 .6-3 .7 6.4 .6-2.4 .7 1.2 .7-3 .7 3.2 .7-1.8 .7 1 .7 .2 .7 .3 .7-2 .6-6.4 .7 8.8 .6-2.7 .7 1.2 .7-.2 .7-1 .7 2.3 .7 .6 .7 .7 .7-2.2 .7 .4 .7-1.7 .7-1.8 .7 2.7 .6-10.4 .7 11.9 .6-.5 .7-1.3 .7 0 .7 1.2 .7-.7 .7 .1 .7 1.1 .7-.1 .7-1.2 .6-6.7 .7 8.1 .6-.6 .7 2.3 .7-4.1 .7 1.7 .7 1 .7-1.9 .7 1.6 .7-1.3 .7 .9 .7-1.6 .7 .4 .6-7.4 .7 10.2 .6-2.8 .7 1.2 .7 .2 .7-1.7 .7 .9 .7-.7 .7-.7 .7 .1 .7 .3 .7-.6 .7 .1 .7-1.5 .7 3 .6-10.5 .7 11.6 .6-3 .7 3.3 .7-1.7 .7 .5 .7 .4 .7 1.3 .7-.3 .7-.1 .7-2.9 .7 1.8 .7 .3 .6-13.2 .7 13.8 .6-.5 .7-.9 .7-.9 .7-.9 .7 4.2 .7-.7 .7-2.3 .7 1.3 .7-.6 .7-.8 .7 .2 .7 .3 .7 .1 .7-1.2 .7 1.5 .6-10 .7 13 .6-2.1 .7-1 .7 1.2 .7 1 .7-1.2 .7-3.5 .7 2.8 .7 1.7 .7-1.8 .6-9.8 .7 10.9 .6-2.4 .7 .5 .7 1.2 .7-1.7 .7-.3 .7 1.5 .7-.2 .7-.5 .7 .3 .7 2.1 .7-.4 .7 .1 .7-2.1 .6-11 .7 14.8 .6-4.1 .7 1.5 .7-1.2 .7 1.2 .7-1.5 .7 2.4 .7-2.6 .6-11.7 .7 14.2 .6-.6 .7 .2 .7-1.9 .7 1.8 .7-.4 .7-.3 .7-2 .7 2.5 .7-.2 .7-.6 .6-4.9 .7 7.2 .6-.3 .7-3.7 .7 2.9 .7-.2 .7-1 .7 .3 .7 .5 .7-.9 .7-.6 .7 1.7 .7-2.1 .7 1.2 .7-.3 .7 1.2 .6-5.2 .7 5.3 .6-1.2 .7-.5 .7 1.2 .7-1 .7 1.1 .7-.7 .7 1.1 .7 0 .7-.2 .7-1.8 .6-8 .7 10.6 .6-3 .7 2.2 .7 .2 .7 .7 .7-2.1 .7 .5 .7 .9 .7-2 .7 .8 .7 2.3 .7-2.7 .6-4.4 .7 7.7 .6-3.3 .7-1.7 .7 4.1 .7-2.3 .7 .8 .7 .9 .7-1.5 .7-.5 .7 1.5 .7-.9 .7 .2 .7-.3 .6-3.9 .7 5.3 .6 .3 .7-.7 .7 .9 .7-2.7 .7 1.8 .7-2.6 .7 2.3 .7 .3 .6-5.5 .7 6.2 .6-.6 .7-1.4 .7-.1 .7-.9 .7 1.4 .7 .4 .7-.2 .7 .6 .7-1.7 .7 .9 .7 1.5 .6-7.9 .7 8.5 .6-.6 .7-.2 .7-1 .7 1.1 .7-.1 .7-1 .7 .4 .7-1 .7 .5 .6-12.4 .7 13.5 .6-.3 .7-2.5 .7 0 .7 1.2 .7-1 .7 1.9 .7-1.8 .7 .1 .7 2.2 .6-11.6 .7 14 .6-2 .7 .3 .7-2.4 .7 .7 .7-2 .7 1.6 .7 .1 .7 1.8 .7 .2 .7-2.1 .7-.1 .7 1.3 .6-8.3 .7 10.4 .6-1.9 .7 .1 .7-1 .7-1.2 .7-.9 .7 1.7 .7 .1 .7 .6 .7 .8 .7-.3 .6-5.4 .7 6.4 .6-.3 .7-.6 .7-1.3 .7 0 .7-.4 .7 .6 .7 .9 .7-1.3 .7 .5 .7 .6 .7-2.2 .7 2.2 .7 0 .7-.7 .7 2.3 .6-11.3 .7 11.7 .6-3.5 .7 .8 .7 .2 .7-.2 .7 1.8 .7-2.4 .7 .1 .7 0 .7 1.5 .7-.3 .7-2 .7 1.3 .7 .6 .7 .3 .6-4.9 .7 6.4 .6-3.2 .7 .2 .7-.6 .7-.9 .7 1 .7 2.1 .7-2.1 .7 1.1 .7 .6 .7-.5 .7-.5 .6-5.8 .7 7.6 .6-.5 .7-1.1 .7-.1 .7 .9 .7 .2 .7-1 .7 1.7 .7-1 .7-1.7 .7 1.6 .7-1.2 .7-.3 .7 2.1 .6-13.4 .7 15.3 .6-3.2 .7 .2 .7 .7 .7 .6 .7-1.6 .7 0 .7-.3 .7 1.2 .7 .4 .6-8.3 .7 8.9 .6-3.1 .7 2.1 .7-.5 .7 .2 .7 .9 .7-.5 .7 .9 .7-1.5 .7-1.3 .7 2.6 .7-2.1 .7 .8 .7-1 .7 .5 .6-3.9 .7 6.5 .6-1.8 .7 1 .7-.6 .7-.3 .7 1 .7-2.4 .7 .9 .7 1.2 .7-1.9 .7-.7 .6-6.1 .7 9.8 .6-1.3 .7-.6 .7 .7 .7-1.3 .7-.1 .7 0 .7-.1 .6-7 .7 10.3 .6-3.9 .7 .5 .7-1.1 .7 2.1 .7-1.2 .7 1.5 .7 .1 .7-2.3 .7 2.6 .7-.9 .7-.4 .7 1.1 .7-2 .6-4.6 .7 7.8 .6-1.6 .7-.5 .7-2.4 .7 4.6 .7-1.7 .7 1 .7-1.6 .7-2.1 .7 2 .7-.5 .7 2.7 .7-3.9 .7 2.6 .7-.1 .6-6.3 .7 8.5 .6-1.9 .7-.4 .7 .5 .7-2.3 .7 1.7 .7-.3 .7-.2 .7-.1 .7 .1 .7 .1 .6-4.7 .7 6.2 .6-2.5 .7-.5 .7 2.2 .7 2.7 .7-5.6 .7 2.8 .7-.5 .7-1 .7 .9 .7 .5 .7-1.1 .7 1.2 .6-9.1 .7 10.5 .6-1.2 .7-1.7 .7 2 .7-.6 .7-.7 .7-1.2 .7 1.6 .7-.1 .7-.3 .7-.7 .7 2.2 .7-1 .7 0 .7-.9 .6-7.9 .7 10.8 .6-2.2 .7 .4 .7-2 .7 2.9 .7-3.1 .7 1.9 .7-.4 .7-.2 .7 .3 .7 1.8 .7-2.6 .7 1.6 .7-1.8 .7 3 .6-7 .7 6.7 .6-2.3 .7 .4 .7-.3 .7-.7 .7 1.2 2.3-.8 .3-.2 .3-7.7 .4 3.5 .3-3 .3-.1 .3 2.2 .4 1.5 .3-4.3 .3 .3 .3-1.7 .4 6.4 .3 .2 .3 3.8 .4 2.4 .3-3.1 .3 2.8 .3 3.1 .4-.5 .5-.4 .6 .6 .6 10.1 .6-13.8 .6 3.2 .6-2.2 .6-.4 .6 5.7 .6-3.8 .6-2.9 .6 3.6 .6-1.7 .7 2.5 .6-3.5 .6-2.5 .6 .8 .6 2 .6-2.4 .6 .2 .6 2.3 .6-6.2 .5 8.1 .6-3.5 .6-1.2 .6 2.4 .6-1.6 .6 1.8 .5-1.2 .6-.5 .6 1.2 .5-1.7 .5 .6 .6-3.8 .5 1.2 .6-3 .5-.8 .6-5.3 .5 6.1 .5 1.6 .6-3.9 .5-.9 .4 2 .3-4.2 .3-2.8 .2 .5 .3-8.8 .3 1.2 .2-1.1 .3 2.6 .2-7.4 .3 2.1 .3-4.9 .2-3.8 .3 1.5 .3 1.3 .3 4.5 .3 .5 .3-4.6 .3 2.7 .3 4.1 .3 1 .3-3.2 .3 6.2 .2 5.4 .1-2.9 .2 6 .1 5.1 .2-1.4 .1 2.9 .2 .8 .1 6.2 .2-2.4 .1 8.5 .2-.7 .1 5.5 .2 2.7 .3-2.8 .5-3.7 .5 2.7 .4-1.3 .5-2.7 .5-.1 .3 5.9 .2 2.1 .2-1.4 .2 2.3 .2 1.5 .1 1.7 .2 4.2 .2 2.1 .2 4.6 .1 1.3 .2 2.9 .1 7.3 .2-1.6 .2-.3 .1 1.7 .2-.7 .1 8.5 .2 2 .2 2.4 0 5.1 .1 2.3 0 0 0 4.7 0-1.3 .1 5.8 0 3.2 0 .8 .1 8.9 0 2.4 0 .5 .1 6 0 1.2 0 10.2 .1-2.6 0 1.2 0 7.1 .1 1 0 6.4 0 3.2 .1 5.3 0-3 0 5.9 0 3.2 .1-2.9 0 7.5 0 .1 .1 8.6 0 1.9 0 7.4 .1 3.6 0-4.7 0 11.7 .1 .7 0 4.5 0 3.1 .1-.1 0 7.4 0 7.4 .1-6.8 0 4.9 0 3.3 0 .1 .1 13.5 0 1.5 0 2.1 .1 5.5 0 2 .1-4.2 0 7.5 .1 5.6 .1 2.4 0 4.3 .1 7.3 .1-5.8 0 4.5 .1 4.3 .1 5.1 0-2.7 .1 9.4 .1 2 0-2 .1 2.3 .1 4 0 7.3 .1-3.5 .1 10.6 0-1.3 .1 5.1 .1 .1 0 7.6 .1-3.1 .1 9.1 .1 2.7 .1-.2 .1 3.1 .1 3.3 .1 2.8 .1-3 .1 11.9 .1-4.2 .1 4.3 .1 9.5 .1 2.9 .1-2.1 .1 5.3 .1-4 .1 9.9 .2-7.4 .2-4.9 .2 5.7 .2-5.1 .2-1.3 .2-3.6 .1-.8 .2-.9 .2-3.2 .2-3.7 .2 .6 .1-9.4 .2-2.5 .2-4.2 .2 3.7 .2-4.9 .1-1.1 .1-2.4 0-6.3 .1 4.1 .1-10.4 0 3.7 .1-3 .1-6.8 0-6.7 .1-1.6 .1-2.3 0-1 .1-8.4 .1 5.9 0-7.2 .1-9.9 0 9.6 .1-12.6 .1-6.8 .1 11.3 .1-10.9 .1 1.6 .1-3.9 .1-1.7 .1-7.1 .1-6.3 .1 8.8 .1-6.3 .1-.9 .1-8.6 .1 2.4 .1-3.1 .1-7.4 .1 3.5 .1-6 .1-3.6 .1-4.8 .1 1.3 .1-4.6 .1-3.8 .2 2.3 .2-2 .2-8.5 .2-8.3 .2 4.8 .2-3.6 .2-1.4 .1 8 .2-3.9 .1 3 .2-.9 .1 4.5 .2 3.5 .2 1.9 .1-4.1 .2 6.9 .1 1.8 .2 5 .1 3.9 .2 3.4 .1-2.6 .2 7.1 .1-.4 .2 3.1 .1-.8 .2 11.7 .1-1.1 .2 2.1 .2-2 .3-5.4 .2-3.3 .3 4.9 .2 2 .3-12 .2-2 .2 3.9 .3-6.8 .3 1.8 .5 .6 .5-.3 .5 .9 .5 .1 .2 1.2 .1 7.1 .1 .5 .1 .4 .1 2.1 .1 8.3 0 5.7 .1 0 .1 1.9 .1 3.8 .1 9.4 .1-6.6 0 2.2 .1 5.8 .1-1 .1 8.5 .1 2 .1-.2 0 9.9 .1 4.8 .1 .8 .1-6.1 .2 5.7 .1 .4 .1 7.9 .1-5.7 .1 10.8 .1 .5 .1 4 .1 5.2 .2-.5 .1 2.6 .1 6.4 .2-7.7 .3 8.4 .3 4.3 .3 .7 .3-3.3 .3 6.6 .2 4.3 .3 2.3 .3 1.1 .2-9.6 .1 .4 .2 4.5 .1-11.5 .2 1.5 .1 0 .2-7.1 .1-.6 .2-1.4 .1-1.1 .2-5.3 .1-6.1 .2 2 .1 2.3 .1-5.4 .2-7.7 .1-1.5 .2 1.5 .1-6.1 .1-1 .2 2.8 .1-5.1 .2-1 .1-1.7 .1-11.1 .2-1.7 .2 .8 .2 13.3 .2-3.3 .3 1.4 .2-1 .2 4.4 .2 6.3 .3-.8 .3 3.6 .3-3.3 .3-1.5 .3 10.4 .3-.9 .2-5.4 .2-2 .3-5.4 .2 2.4 .2-.4 .2-2.6 .3-4.9 .2-3.1 .3 3.1 .3-3.7 .2-5.8 .3 1.7 .2-9.7 .2 6.2 .2-2.2 .2 1.9 .3-5.9 .2-4 .2 2.1 .2-2 .2-6.9 .2 4.2 .2-4.7 .2-2.1 .2 .5 .2 .7 .3-7.8 .1 2.5 .2-4.4 .2 3.7 .2 5.1 .2 2.9 .1 5.5 .2 1.2 .2 .4 .2 8.9 .2-11.7 .1 10.8 .2-3.6 .2 3.9 .2 7.9 .2-1.2 .2 .8 .2 9.5 .1-6.7 .1-3 .2 6.6 .1-8.8 .1-1.2 .1-5.6 .1 1.5 .1 .4 .1-6.1 .2 4.9 .1-21.1 .1 4.8 .1 2.7 .1-11.3 .1 2.1 .2-8.1 .2-1.7 .2 2.4 .2 .9 .2-2.9 .1-10.1 .2 2.5 .2-3.8 .2-3 .3 .8 .2-3.9 .3 1.9 .2-10.8 .3 2 .2 5.1 .2-4 .2 2.2 .1 2.9 .2 4.7 .2-2.2 .2 2.2 .2 3.3 .2 2.3 .2 .3 .3 2.2 .2-1.3 .3 5.5 .3 2.9 .2 7.6 .2-12.5 .2 11.1 .1-7.4 .2-2.4 .1-9.8 .2 1.9 .1-.8 .2-5.5 .1 5.1 .2-7.2 .1-3.1 .1 .4 .1-4.7 0-3.4 .1-4.3 0-1.1 0-3.9 .1-2.5 0-4.4 .1-.5 0-16 .1 7.1 0-6.6 0-2.2 .1-.4 0-2.8 .1-7.4 0-1.1 .1-1.4 0-6.9 .1-6.7 0 8.2 0-11.4 .1-7 0 2.7 .1 2.1 0-8.5 .1 .3 0-3.6 .1-14.6 0 1 0-.6 .1-6.6 0-.9 0 10.6 .1 1.1 0 3.5 0 4.5 0 1.4 .1 4.7 0 .4 0 .1 0 7.7 0 2.1 .1 7.4 0-3.4 0 5.4 0 8.2 .1 .9 0 .5 0 2.2 0 6 .1 2.2 0 9.9 0-3 0 7.1 .1 2.9 0 4.5 0-2.3 .2-1.3 .3 1.2 .3-4.3 .3 1 .3 2.5 .3-6.5 .3-2.6 .3-3 .3 2.2 .2 3.2 .2-9.2 .2 2.8 .2-10.6 .2 3.3 .2-11.3 .3 10.6 .2-5.6 .2-3.9 .2-1.6 .2 1.7 .2-8.3 .2-4.2 .2 1.5 .4 6.6 .3 .6 .4-10.9 .4 13.6 .4-7.9 .2 .5 .2-8.4 .2 6.8 .2-.9 .1 0 .2-13.6 .2 1.1 .2 1.2 0-6.2 .1-3.1 0-1.3 0-1.1 .1-2 0-1.8 0-5.6 .1-3.5 0-10.9 0-1.5 .1-3.5 0 5.3 0-10.3 .1-.9 0-13.1 0 2.2 .1 5.5 0-3.6 0-7 .1 2 0-7.8 0-6.6 .1-.2 0 0 0-1.5 .1-7.6 0-3.6 0-1.9 .1-5.1 0 1.2 0-2.5 .1-13.4 0-.3 0 .9 .1 1.3 0-12.3 0-.7 .1-2.3 0-10.2 0 5.2 .1-9 0 .7 0-1.8 .1-6.4 0 .7 .1 1.3 0 4.1 .1 1.1 0-.6 .1 6.4 0 6.3 .1-2.8 0 6.3 .1 4.2 0-3.9 .1 12 0 2.2 .1 7.1 0-6.4 .1 5 0 .2 .1 5.4 0 6.1 .1-.4 0 6.6 .1-3.1 0 10.1 .1-9 0 3.5 .1 13.9 0 .3 .1 4.3 0 1.2 .1-1.6 0 10.7 .1 2.5 0 .9 .1 5.9 0 9.4 0-8.4 .1 5.6 0 1.6 0 6 .1 8.5 0-6.3 0 6.4 .1 .6 0 14.2 0-4.1 .1 6.8 0 5.8 0 2 .1-2.4 0 2.4 0 7.1 .1-7 0 6.5 0 9.8 .1-4 0 7.5 0 5.9 .1 2 0 4.2 0 4.3 .1 3 0 3.5 0 .4 .1 3.8 0 7.2 0-.5 .1 3.4 0 3.4 0 1.2 .1 5.1 0 9.4 0-2.8 .1 3.2 0 2.9 0 7.5 .1 6.3 0-7.7 0 6.3 .1 10.1 0 1.6 .1-3.9 0 2.7 .1 6.4 0 1.8 .1 4.1 0 8.3 .1 2.9 0-2.9 .1 5.4 0 10.9 .1-.2 0-.6 .1 1.5 0 2.1 .1 3.9 0 9.6 .1-.3 0-6 .1 6.4 0 6 .1 4.9 0-2.4 .1 7 0 1.6 .1 6.2 .1 2.3 0 3 .1-3 0 5.5 .2 2.2 .1-9.4 .2 8.5 .2-12.4 .1 1.4 .2-7 .2-2 .1 .8 .2-4.1 .2 .8 .1-6.7 .1-6.6 .2 6.6 .1-3.1 .1-3.9 .2-8.7 .1-1 .1 3.1 .2-2.2 .1-12.1 .1 1.1 .1 7.2 .1-7.4 .1-8.5 .1-5.7 .1-1.8 0-1.3 .1-4.3 .1 2.6 .1-6.1 .1-4.9 .1 5.3 0-9 .1-2.9 .1-4.8 .1-4.4 .1-2.5 .1-4.7 0 4.7 .1-9.7 .1-.8 .1 2.8 .1-8.3 .1-1.3 0 .4 .1-4.6 .1-5.5 .1-3.4" stroke="#1414f0" stroke-width="1.1"/>
<path d="M105.5 14.0l.1 2.5 0 2.5 .1 2.6 0 2.5 .1 2.5 0 2.5 .1 2.6 .1 2.5 0 2.5 .1 2.5 0 2.5 .1 2.6 0 2.5 .1 2.5 .1 2.5 0 2.6 .1 2.5 0 2.5 .1 2.5 0 2.5 .1 2.6 .1 2.5 0 2.5 .1 2.5 0 2.6 .1 2.5 0 2.5 .1 2.5 .1 2.5 0 2.6 .1 2.5 0 2.5 .1 2.5 0 2.6 .1 2.5 0 2.5 .1 2.5 0 2.5 .1 2.6 0 2.5 .1 2.5 .1 2.5 0 2.6 .1 2.5 0 2.5 .1 2.5 0 2.6 .1 2.5 0 2.5 .1 2.5 0 2.5 .1 2.6 .1 2.5 0 2.5 .1 2.3 .1 2.3 0 2.4 .1 2.3 .1 2.3 .1 2.3 0 2.3 .1 2.4 .1 2.3 0 2.3 .1 2.3 .1 2.3 .1 2.3 0 2.4 .1 2.3 .1 2.3 .1 2.3 0 2.3 .1 2.4 .1 2.3 .4 .4 .5 0 .4 0 .5 0 .4-4.1 .4 3.5 .5 1 .4-4 .4 5.8 .4-1.8 .4-2.4 .5 2 .4-5.8 .4 10.6 .4-3.9 .4-1.8 .5 2.4 .4-1.9 .4-.9 .4-.2 .4-4.3 .5 7 .4-6.7 .4 .7 .4 4.8 .4-2.2 .5 2.9 .4-5.3 .4 7.3 .4-3.4 .4 1 .5-1.8 .4 .4 .4 .7 .4-.5 .4 2.8 .5-1.9 .4 .3 .4-2.1 .4 2.2 .4-.7 .5 1.1 .4 2.1 .4-2.5 .4-1.1 .4-5.1 .5 6.4 .4 1 .4-.6 .4 3.3 .4-.6 .5-5.7 .4 5.3 .4-1.1 .4-2.9 .4 1.2 .5-.4 .4 2.7 .4-3.8 .4 4.5 .4-6.4 .5 3.1 .4 3.6 .4-4.6 .4-6.2 .4 9 .5-6.3 .4 6.6 .4 .3 .4-3.9 .4 5.2 .5-3.9 .4-2.3 .4 .8 .4-1.7 .4 1.6 .5-1 .4 3.5 .4 .9 .4-1.7 .4-3.9 .5 4.6 .4-6.7 .4 5.5 .4-5.1 .4 .8 .5 5 .4-.8 .4 1.1 .4 2.7 .4-4 .5 1 .4-2.1 .4 1.4 .4 3 .4-9.6 .5 4.9 .4 5.4 .4-3.5 .4-1.7 .4 .2 .5 1.3 .4 1.6 .4 0 .4-.5 .4 1.4 .5-1.8 .4-1.6 .4-.9 .4 1.8 .4 2.1 .5 .7 .4-4.1 .4 5.5 .4-6.5 .4 4.5 .5-1.4 .4-2.8 .4 2.4 .4-4.1 .4-.4 .5 6 .4-5.9 .4 6.4 .4-1.2 .4-1.2 .5-2.2 .4 7.9 .4-1.9 .4-7.3 .4 7.3 .5-.8 .4-2 .4-4.6 .4 7 .4-6.3 .5 5.4 .4-1 .4-1.3 .4 .8 .4-1.8 .5-1.2 .4 .8 .4 6.2 .4-4.2 .4 1.1 .5 .1 .4-2.2 .4-.9 .4 1.9 .4 2.1 .5-3.5 .4 4.2 .4 .3 .4-5.7 .4 3.7 .5-1.1 .4 5.2 .4-8.2 .4 2.7 .4-5.9 .5 6.5 .4-2.2 .4 1.8 .4 1.5 .4-.1 .5-3.1 .4 .2 .4 1 .4 3.2 .4-5.8 .5 2.2 .4 .1 .4 3.6 .4-3 .4-1.2 .5-.8 .4 5.3 .4 .8 .4-4 .4 1.1 .5 .5 .4 .4 .4-1.6 .4 .3 .4 .3 .5 .2 .4-2.6 .4 3.4 .4-.7 .4-5.9 .5-1.4 .4 7.8 .4-4 .4 2.5 .4-5.1 .5 3.1 .4 6.6 .4-7.1 .4-1.4 .4 4.7 .5-1 .4 .3 .4 1.2 .4-.9 .4-3 .5-1.2 .4 5.3 .4-4.3 .4 2.3 .4 2.9 .5-6.1 .4 3.6 .4-1.9 .4 0 .4 1.2 .5-.8 .4-3.1 .4 3.9 .4 3.9 .4-.8 .5-9.4 .4 8.6 .4-2.1 .4-.7 .4-.5 .5-.4 .4-1 .4-1.9 .4 4 .4-3.5 .5-1 .4 3.7 .4-.7 .4 1.2 .4-2.3 .5-2.7 .4 6.6 .4-1.2 .4-2.1 .4 .5 .5 2 .4-.2 .4-7.1 .4 7.1 .4 1.5 .5-.3 .4-.9 .4-.9 .4 2.1 .5-9.1 .4 6.2 .4 1.8 .4-3.7 .4 .4 .5 2.2 .4 3.5 .4-1 .4-2.2 .4 .8 .5-2.3 .4 5.2 .4-1.5 .4-2.7 .4 2.5 .5-4.5 .4 3.5 .4 2.3 .4-4 .4 3.8 .5-1.8 .4-4.6 .4 7.3 .4-2.8 .4-1.6 .5 1.6 .4 0 .4-2.9 .4 1.5 .4 1.6 .5 2 .4-3.9 .4 1.7 .4-5 .4 3.2 .5 .7 .4-2.2 .4 .8 .4-.2 .4 5.4 .5-2.7 .4-2.5 .4 5.5 .4-3.7 .4 3.1 .5-3.2 .4-2.6 .4 .3 .4 .8 .4 2.8 .5-5.3 .4 3.9 .4 1.9 .4-2.7 .4 .8 .5-5.2 .4 4.7 .4 3.1 .4-1.1 .4-1 .5-1.8 .4-2.4 .4-1.4 .4 6.6 .4-1.4 .5-2.5 .4 4.7 .4-8.2 .4 5.2 .5 6.2 .4-4.1 .4-2.6 .4-1.8 .4 2.2 .5 3.9 .4-2.2 .4-2.3 .4-.4 .4 2.7 .5 2.7 .4-3.9 .4 0 .4-3.5 .4 4.6 .5-1 .4-5.7 .4 1.5 .4 9.1 .4-4.4 .5-2 .4-.5 .4 .6 .4 .7 .4 5.1 .5-2.7 .4 .3 .4-7 .4 4.4 .4-.5 .5 3.7 .4-3.6 .4 2.1 .4-1.2 .4 1.7 .5-2.3 .4 1.9 .4-.8 .4 3.3 .4-6.9 .5 6.7 .4-5.6 .4 3.2 .4 .4 .4-1.3 .5 1 .4 1 .4-2.5 .4 1.5 .4 .5 .5-.1 .4-.3 .4-2.2 .4 .6 .4 5.4 .5-8.3 .4 1.3 .4 .5 .4 3.2 .4-3.7 .5 4.8 .4-2 .4-4.4 .4 .9 .4 5.7 .5-5.3 .4 .5 .4-1.2 .4 3.6 .5 .6 .4-2.8 .4-1.6 .4-.2 .4 2.9 .5-4.1 .4 5 .4-1.8 .4-.5 .4 3.9 .5-8.2 .4 6.3 .4-.2 .4-4.3 .4 3 .5 2.2 .4-4.9 .4 1.8 .4 3 .4 2 .5-9.1 .4 9.1 .4-2.8 .4-3.8 .4 2.5 .5-.9 .4-4 .4 .8 .4 7.2 .4-5.5 .5 5.2 .4-1.3 .4 1 .4-2.1 .4-3.3 .5 3.1 .4-4.6 .4 2.3 .4 5.9 .4-4.3 .5 1.2 .4 2.6 .4-.9 .4-1.2 .4 .9 .5-2.7 .4-.3 .4 1.9 .4 1.5 .4-2.7 .5-6.6 .4 4.2 .4 .1 .4 5.9 .4-1.4 .5-2.2 .4 3.8 .4 .9 .4-5.7 .4 4.6 .5-7.2 .4 1.2 .4 .6 .4 .2 .4 4.4 .5-3.5 .4 .8 .4 4.2 .4-5.5 .5 3.7 .4-1.8 .4 3.3 .4-1.1 .4-1.5 .5 2.9 .4-5.1 .4 2.7 .4 3.2 .4-7.3 .5 4.4 .4-3.1 .4 1.9 .4 .5 .4 .8 .5-.6 .4-2.3 .4 2.3 .4 .9 .4-.4 .5 .6 .4-1.9 .4-.6 .4-2.5 .4 5.5 .5-1.6 .4 0 .4-1 .4-1.1 .4-.1 .5-.6 .4 3.1 .4-1.6 .4-.6 .4-.1 .5 1.4 .4 .1 .4-3.3 .4 3 .4 .4 .5-1.2 .4-2.6 .4 3.6 .4 2.4 .4-3.6 .5 3.7 .4-4.4 .4 .7 .4 6.1 .4-6.9 .5-4.6 .4 1.3 .4 4 .4-.3 .4 2.4 .5-3.9 .4 .9 .4 .5 .4 3.1 .4-4.5 .5 1.7 .4 3.3 .4-5.9 .4 .8 .4-1.8 .5 5.1 .4-.5 .4-.2 .4 1.6 .5-3.5 .4 6.2 .4-5.5 .4-4.8 .4-1.1 .5 7.2 .4 2.8 .4-.3 .4-.4 .4-2.6 .5 1 .4 3.7 .4-6.7 .4 3.4 .4-4.5 .5 1.8 .4 1.5 .4 1.6 .4-3.9 .4 1.8 .5 4.1 .4-4.7 .4 .7 .4 0 .4 .3 .5 .5 .4-.2 .4-.6 .4 4.1 .4-5.2 .5 3.9 .4-1 .4 1 .3 2.8 .3-11.1 .4 9.5 .3-3.3 .3 1.2 .3 .9 .4 2.2 .3 3.4 .3 1.9 .3 .8 .3-.3 .4-3.3 .3 4.5 .3-1.5 .3 2.2 .3 0 .4 .2 .3 .6 .3 2 .3-.8 .4 2.7 .4 2.7 .4-2.6 .5 3.1 .4-.7 .4-4.1 .4-3 .4 2.8 .5 0 .4 3.2 .4-4 .4 2.6 .4-3.8 .5 2 .4 .8 .4 .8 .4 2.1 .4-4.2 .5 1.9 .4 2.2 .4-.5 .4-1.2 .4-2.8 .5 2.6 .4-3 .4-3 .4 7.5 .4-.9 .5 .8 .4 3.8 .4-5.8 .4 1.6 .4-9.5 .5 10.7 .4 1.1 .4 .6 .4-8.1 .4 1.4 .5 2.3 .4 1 .4-2.8 .4 .5 .4-6.9 .5 7.3 .4 4 .4-2.8 .4-1.3 .4 2.2 .5-2.6 .4-1.4 .4 3.5 .4-3.2 .4 1.9 .5-2.2 .4 5.4 .4-2.4 .4-1.6 .4 3.3 .5-7.7 .4 6.9 .4 1.6 .4-5.2 .4-2.4 .5 6.4 .4-2.8 .4 .2 .4 .5 .4-2.7 .5 .1 .4-1.2 .4 .3 .4 3.6 .4 3 .5-3.1 .4-1 .4-.8 .4 2.5 .4-.4 .5 1.4 .4-.6 .4 .4 .4 1.4 .4-2.5 .5-1 .4 .6 .4-1.5 .4-2.1 .4 3.1 .5-.6 .4 2.2 .4 2.2 .4 1.2 .4-4.4 .5-2.8 .4 3.4 .4-3 .4 2.9 .4 1.4 .5-1.1 .4-1.8 .4-.9 .4 2.8 .4-3.4 .5 3.5 .4-3.9 .4 3.1 .4 .7 .4 .6 .5-.9 .4 .6 .4-.2 .4 .2 .4-2.1 .5 2 .4-.6 .4-5.5 .4 4.4 .4 2.2 .5-1.7 .4-.1 .4 1.2 .4-3.1 .4 1.8 .5-.3 .4 3.9 .4-3 .4 .8 .4-3.7 .5 0 .4 4.2 .4-2.4 .4-.8 .4-1 .5 5.3 .4-3.7 .4-.4 .4-.2 .4-.7 .5 .1 .4 .6 .4 1.6 .4-1 .4 2.4 .5-1.8 .4 .6 .4-1 .4-1.7 .4 1 .5-7.3 .4 7.3 .4-.6 .4-1.3 .4 1.5 .5 2 .4-4.6 .4 5.9 .4-3.6 .4-2.1 .5 1.4 .4 5.9 .4-3.4 .4-3.4 .4 4.4 .5-2.7 .4-4.2 .4 5.7 .4-3.1 .4 2.4 .5-1.2 .4 .1 .4-.6 .4 3.2 .4-2.6 .5-3.4 .4 7.2 .4-5.2 .4-1.1 .4 4.1 .5 1.1 .4-.2 .4-1.4 .4-1.1 .4 2.7 .5 2.9 .4-7.4 .4 3.3 .4 3.4 .4-.6 .5-1.3 .4-3.5 .4 4.5 .4-3.1 .4 2.9 .5-4.9 .4 2.5 .4 4.5 .4-3.7 .4-.3 .5 .1 .4 4.2 .4-4.1 .4-8 .4 8.3 .5 1.3 .4-3.9 .4-1.5 .4 0 .4 1.4 .5 1.1 .4 4.7 .4-3.2 .3-3 .3-1 .3-1 .3-1.1 .4-1 .3-1 .3-1 .3-1 .3-1 .3-1 .3-1 .3-1.1 .3-1 .4-1 .4-.9 .5-.5 .5-.4 .5-.4 .5-.5 .3 .9 .2 1.7 .2 1.7 .2 1.7 .2 1.6 .2 1.7 .2 1.7 .1 1.7 .2 1.7 .2 1.6 .2 1.7 .2 1.7 .2 1.7 .2 1.6 .2 1.7 .2 1.7 0-1.7 .1-2.7 0-2.8 0-2.7 .1-2.7 0-2.8 .1-2.7 0-2.7 0-2.7 .1-2.8 0-2.7 0-2.7 .1-2.8 0-2.7 .1-2.7 0-2.8 0-2.7 .1-2.7 0-2.8 0-2.7 .1-2.7 0-2.7 .1-2.8 0-2.7 0-2.7 .1-2.8 0-2.7 0-2.7 .1-2.8 0-2.7 .1-2.7 0-2.8 0-2.7 .1-2.7 0-2.7 0-2.8 .1-2.7 0-2.7 .1-2.8 0-2.7 .1 2.3 .1 2.3 .1 2.3 .1 2.3 .1 2.3 .1 2.4 .1 2.3 .1 2.3 .1 2.3 .1 2.3 .1 2.3 .1 2.3 .1 2.3 .1 2.3 .1 1.3 .2-1.9 .2-1.9 .1-1.9 .2-1.9 .2-1.9 .1-1.9 .2-1.9 .2-1.9 .1-1.9 .2-1.9 .2-1.9 .1-1.5 .1 2.3 .1 2.3 .1 2.4 .1 2.3 .1 2.3 .2 2.3 .1 2.3 .1 2.4 .1 2.3 .1 2.3 .1 2.3 .1 2.3 .1 2.4 .1 2.3 .1 2.3 .1 2.3 .1 2.3 .2 2.3 0-.2 .1-2.3 .1-2.3 .1-2.3 .1-2.3 .1-2.3 .1-2.3 0-2.4 .1-2.3 .1-2.3 .1-2.3 .1-2.3 .1-2.3 0-2.3 .1-2.3 .1-2.4 .1-2.3 .1-2.3 .1-2.3 .1-2.3 0-2.3 .1-2.3 .1-2.3 .1-2.4 .1-2.3 .1-2.3 0-2.3 .1-2.3 .1-2.3 .1-2.3 .1-2.3 .1-2.4 .1-2.3 0-2.3 .1-2.3 .1-2.3 .2-1.5 .3-1.4 .2-1.5 .2-1.4 .2-1.5 .2-1.5 .3-1.4 .2-1.5 .2-1.4 .2-1.5 .2-1.4 .3-1.5 .2-1.5 .1 .3 .1 2.5 0 2.5 .1 2.5 .1 2.5 0 2.6 .1 2.5 .1 2.5 0 2.5 .1 2.6 0 2.5 .1 2.5 .1 2.5 0 2.6 .1 2.5 0 2.5 .1 2.5 .1 2.5 0 2.6 .1 2.5 .1 2.5 0 2.5 .1 2.6 0 2.5 .1 2.5 .1 2.5 0 2.6 .1 2.5 0 2.5 .1 2.5 .1 2.5 0 2.6 .1 2.5 .1-1.7 .2-1.9 .1-1.9 .2-1.8 .1-1.9 .2-1.9 .1-1.9 .2-1.9 .1-1.9 .2-1.9 .1-1.9 .1-1.8 .2-1.9 .1-1.1 .1 2.1 .2 2.1 .1 2.1 .1 2.2 .1 2.1 .1 2.1 .2 2.1 .1 2.1 .1 2.1 .1 2.1 .1 2.1 .2 2.1 .1 2.1 .1 2.1 .1 2.1 .2 2.2 0-.9 0-2.7 .1-2.7 0-2.8 0-2.7 .1-2.7 0-2.8 0-2.7 .1-2.7 0-2.8 0-2.7 .1-2.7 0-2.8 0-2.7 0-2.7 .1-2.7 0-2.8 0-2.7 .1-2.7 0-2.8 0-2.7 .1-2.7 0-2.8 0-2.7 .1-2.7 0-2.8 0-2.7 0-2.7 .1-2.8 0-2.7 0-2.7 .1-2.7 0-2.8 .1 1.7 0 2.3 .1 2.3 .1 2.3 .1 2.3 0 2.3 .1 2.4 .1 2.3 .1 2.3 0 2.3 .1 2.3 .1 2.3 .1 2.3 0 2.3 .1 2.3 .1 2.3 .1 2.3 0 2.3 .1 2.4 .1 2.3 .1 2.3 0 2.3 .1 2.3 .1 2.3 .1 2.3 0 2.3 .2 1.3 .3-1.3 .3-1.2 .3-1.2 .2-1.3 .3-1.2 .3-1.2 .3-1.3 .3-1.2 .3-1.3 .3-1.2 .1 1.5 .1 2.1 .2 2.1 .1 2.1 .1 2.1 .2 2.1 .1 2.1 .1 2.1 .2 2.1 .1 2.1 .1 2.1 .2 2.1 .1 2.1 .1 2.2 .1 2.1 .1-.7 .1-2.5 .1-2.5 0-2.5 .1-2.6 .1-2.5 0-2.5 .1-2.5 .1-2.6 0-2.5 .1-2.5 0-2.5 .1-2.5 .1-2.6 0-2.5 .1-2.5 .1-2.5 0-2.6 .1-2.5 .1-2.5 0-2.5 .1-2.6 .1-2.5 0-2.5 .1-2.5 .1-2.5 0-2.6 .1-2.5 0-2.5 .1-2.5 .1-2.6 .3-1.1 .4-.5 .4-.5 .4-.5 .4-.5 .2 1.3 0 2.3 .1 2.3 .1 2.3 .1 2.4 .1 2.3 0 2.3 .1 2.3 .1 2.4 .1 2.3 .1 2.3 0 2.3 .1 2.6 .1 2.7 0 2.7 0 2.8 .1 2.7 0 2.7 .1 2.8 0 2.7 .1 2.7 0 2.8 0 2.7 .1 2.7 0 2.8 .1 2.7 0 2.7 0 2.8 .1 2.7 0 2.7 .1 2.8 0 2.7 .1 2.7 0 2.8 0 2.7 .1 2.7 0 2.6 .1 2.5 .1 2.5 0 2.6 .1 2.5 .1 2.5 0 2.6 .1 2.5 .1 2.5 0 2.5 .1 2.6 .1 2.5 0 2.5 .1 2.6 0 2.5 .1 2.5 .1 2.3 .1 2.4 .1 2.3 .1 2.3 0 2.3 .1 2.3 .1 2.3 .1 2.3 .1 2.4 .1 2.3 0 2.3 .1 2.3 .1 2.3 .1 2.3 .1 2.4 .1 2.3 0 2.3 .1 2.3 .1 2.3 0 2.8 .1 2.7 0 2.7 0 2.8 0 2.7 .1 2.7 0 2.8 0 2.7 0 2.7 .1 2.8 0 2.7 0 2.7 .1 2.8 0 2.7 0 1.9 .2-2.1 .1-2.1 .1-2.1 .1-2.1 .2-2.1 .1-2.1 .1-2.1 .1-2.1 .2-2.1 .1-2.1 .1-2.1 .2-2.1 .1-2.1 .1-2.1 .1-2.1 .1 .2 0 2.7 .1 2.7 0 2.8 0 2.7 .1 2.7 0 2.8 0 2.7 0 2.7 .1 2.8 0 2.7 0 2.8 .1 2.7 0 2.7 0 2.8 .1 2.7 0 2.7 0 2.8 0 2.7 .1 2.7 0 2.8 0 2.7 .1 2.7 0 2.8 0 2.7 0 2.7 .1 2.8 0 2.7 0 2.8 .1 2.7 0 2.7 0 2.8 .1 2.7 0 2.7 0 .4 .1-2.3 .1-2.3 .1-2.3 .1-2.3 0-2.3 .1-2.3 .1-2.3 .1-2.4 .1-2.3 0-2.3 .1-2.3 .1-2.3 .1-2.3 .1-2.3 .1-2.4 0-2.3 .1-2.3 .1-2.3 .1-2.3 .1-2.3 0-2.3 .1-2.4 .1-2.3 .1-2.3 .1 1.5 0 2.5 .1 2.5 .1 2.6 .1 2.5 .1 2.5 0 2.5 .1 2.5 .1 2.6 .1 2.5 0 2.5 .1 2.5 .1 2.5 .1 2.6 .1 2.5 0 2.5 .1 2.5 .1 2.5 .1 2.6 .1 2.5 0 2.5 .1 2.5 .1 2.5 .1 2.6 0 2.5 .1 2.5 .1 2.5 .1 2.6 .1 2.5 0 2.5 .1 2.5 .1 2.5 .1 2.6 .1 2.5 0 2.5 .1 2.5 .1 2.5 .1 2.6 .1 2.3 .1 2.1 .1 2.1 .1 2.1 .1 2.1 .1 2.1 .1 2.1 .1 2.1 .1 2.1 .1 2.1 .1 2.1 .1 2.1 .2 2.1 .1 2.1 .1 2.1 .1 2.1 .1 2.1 .1 2.1 .1 2.1 .1 2.1 .1 2.1 .1 2.1 .1 2.1 .1 2.1 .1 2.1 .1 2.1 .1 2.1 .1 2.1 .2 2.1 .1 2.1 .1 2.1 .1 2.1 .1 2.1 .1 2.1 .1 2.1 .1 2.1 .1 2.1 .1 2.3 .1 2.5 0 2.6 .1 2.5 .1 2.5 0 2.5 .1 2.6 0 2.5 .1 2.5 .1 2.5 0 2.6 .1 2.5 .1 2.5 0 2.5 .1 2.6 0 2.5 .1 2.5 .1 2.5 0 2.6 .1 2.5 .1 2.5 0 2.5 .1 2.6 0 2.5 .1 2.5 .1 2.5 0 2.6 .1 2.5 .1 2.5 0 2.5 .1 2.6 0 2.5 .1 2.1 .3-1.5 .2-1.4 .3-1.5 .2-1.5 .3-1.4 .2-1.5 .2-1.5 .3-1.4 .2-1.5 .3-1.5 .2-1.4 .3-1.5 .2 1.3 .1 1.6 .2 1.7 .2 1.7 .2 1.7 .2 1.6 .2 1.7 .2 1.7 .2 1.7 .1 1.6 .2 1.1 .1-2.5 0-2.6 .1-2.5 .1-2.5 0-2.5 .1-2.6 0-2.5 .1-2.5 .1-2.5 0-2.6 .1-2.5 0-2.5 .1-2.5 .1-2.5 0-2.6 .1-2.5 .1-2.5 0-2.5 .1-2.6 0-2.5 .1-2.5 .1-2.5 0-2.6 .1-2.5 0-2.5 .1-2.5 .1-2.5 0-2.6 .1-2.5 .1-2.5 0-2.5 .1-2.6 0-2.5 .1-2.5 .1-2.5 0-2.6 .1-2.5 0-2.5 .1-2.5 .1-2.5 0-2.6 .1-2.5 .1-2.5 0-2.5 .1-2.6 0-2.5 .1-2.5 .1-2.5 0-.4 .1 2.7 0 2.7 .1 2.8 0 2.7 0 2.7 .1 2.8 0 2.7 .1 2.7 0 2.8 .1 2.7 0 2.7 .1 2.8 0 2.7 0 2.7 .1 2.8 0 2.7 .1 2.7 0 2.8 .1 2.7 0 2.7 .1 2.8 0 2.7 0 2.7 .1 2.8 0 2.7 .1 2.7 0 2.8 .1 2.7 0 2.7 .1 2.8 0 2.7 0 2.7 .1 2.8 0 2.7 .1 2.7 0 2.8 .1 2.7 0 2.7 .1 2.8 0 2.7 0 2.7 .1 2.8 0 2.7 .1 2.7 0 .9 .1-2.4 .1-2.3 .1-2.3 .1-2.3 .1-2.3 .1-2.3 .1-2.3 .1-2.4 .1-2.3 .1-2.3 .1-2.3 .1-2.3 .1-2.3 .1-2.3 .1-2.4 .1-2.3 .1-2.3 .1-2.3 .1-2.3 .1-2.3 .1-2.3 .1-2.4 .2-2.3 .1-2.3 .1-2.3 .1-2.3 .1-2.3 .1-2.3 .1-2.3 0 .2 .1 2.3 .1 2.3 .1 2.3 .1 2.3 0 2.3 .1 2.4 .1 2.3 .1 2.3 0 2.3 .1 2.3 .1 2.3 .1 2.4 0 2.3 .1 2.3 .1 2.3 .1 2.3 .1 2.3 0 2.3 .1 2.4 .1 2.3 .1 2.3 0 2.3 .1 2.3 .1 2.3 .1 2.4 .1-.7 .1-2.3 .1-2.3 .1-2.3 .1-2.3 .1-2.3 .1-2.3 .1-2.4 .1-2.3 .1-2.3 .1-2.3 .1-2.3 .1-2.3 .1-2.3 .1-2.3 .1-2.4 .1-2.3 .2-2.3 .1-2.3 .1-2.3 .1-2.3 .1-2.3 .1-2.3 .1-2.3 .1-2.4 .1-2.3 .1-2.3 .1-2.3 .1-1.9 0 2.7 .1 2.8 0 2.7 .1 2.7 0 2.8 .1 2.7 0 2.7 0 2.8 .1 2.7 0 2.7 .1 2.8 0 2.7 0 2.7 .1 2.8 0 2.7 .1 2.7 0 2.8 0 2.7 .1 2.7 0 2.8 .1 2.7 0 2.7 .1 2.8 0 2.7 0-2.3 0-2.8 0-2.7 .1-2.7 0-2.7 0-2.8 0-2.7 0-2.7 0-2.8 0-2.7 .1-2.7 0-2.8 0-2.7 0-2.7 0-2.8 0-2.7 0-2.7 0-2.7 .1-2.8 0-2.7 0-2.7 0-2.8 0-2.7 0-2.7 0-2.8 .1-2.7 0-2.7 0-2.8 0-2.7 0-2.7 0-2.8 0-2.7 .1-2.7 0-2.7 0-2.8 0-2.7 0-2.7 0-2.8 0-2.7 .1-2.7 0-2.8 0-2.7 0-2.7 0-2.8 0-2.7 0-2.7 .1-2.7 0-2.8 0-2.7 0-2.7 0-2.8 0-2.7 0-2.7 .1-2.8 0-2.7 0-2.7 0-2.8 0-2.7 0-2.7 0-2.7 0-2.8 .1-2.7 0-2.7 0-2.8 0-2.7 0-2.7 0-2.8 0-2.7 .1-2.7 0-2.8 0-2.7 0-1.9 .1 2.3 .1 2.3 .1 2.4 .1 2.3 .1 2.3 .1 2.3 .1 2.3 .1 2.3 .1 2.3 .1 2.4 .1 2.3 .2 2.3 .1 2.3 .1 2.3 .1 2.3 .1 2.3 .1 2.3 .1 2.4 .1 2.3 .1-.9 .1-2.1 .1-2.1 .1-2.1 .1-2.1 .2-2.1 .1-2.1 .1-2.1 .1-2.1 .1-2.1 .2-2.1 .1-2.1 .1-2.1 .1-2.1 .1-2.1 .1-2.2 .2-2.1 .1 .5 .1 2.3 .1 2.3 .1 2.3 .1 2.3 .1 2.3 .1 2.3 .1 2.3 .1 2.3 .1 2.4 .2 2.3 .1 2.3 .1 2.3 .1 2.3 .1 2.3 .1 2.3 .1 2.3 .1 2.3 .1 .7 .1-2.6 0-2.5 .1-2.5 .1-2.5 0-2.5 .1-2.6 0-2.5 .1-2.5 .1-2.5 0-2.5 .1-2.6 0-2.5 .1-2.5 .1-2.5 0-2.5 .1-2.6 0-2.5 .1-2.5 .1-2.5 0-2.5 .1-2.6 0-2.5 .1-2.5 .1-2.5 0-2.5 .1-2.6 0-2.5 .1-2.5 .1-2.5 0-2.5 .1-2.6 0-2.5 .1-2.5 .2-1.7 .2-1.6 .2-1.7 .1-1.7 .2-1.7 .2-1.6 .2-1.7 .2-1.7 .2-1.7 .2-1.6 .1-1.7 .2-1.7 .2-1.7 .2-1.6 .2-1.7 .2-1.7 .3-1 .3-1 .3-1 .4-1 .3-1 .3-1 .3 .6 .3 1.3 .3 1.2 .3 1.3 .3 1.2 .4 1.2 .3 1.3 .3 1.2 .3 1.3 .3 1.7 .4 .9 .4-1.9 .5-.9 .4-.7 .4 4 .4 1.4 .4-2 .5-4.4 .4 3.2 .4 .6 .4-1 .4 3.7 .5-.7 .4-.2 .4 .6 .4-2.1 .4-4.7 .5 4.2 .4 4.1 .4-9.5 .4 6 .4-4 .5-.7 .4 2.9 .4 2.8 .4-1.5 .4-3.3 .5-.1 .4 2.2 .4-2 .4 .9 .5-1.4 .4 6 .4-1.6 .4-2.6 .4-2.2 .5 3 .4 2.8 .4-2.2 .4-2.4 .4-.3 .5 3.1 .4-.6 .4 .2 .4 .2 .4-.8 .5 1.4 .4-.4 .4 .6 .4-.9 .4-.6 .5-.4 .4 1.4 .4-3.4 .4 1.8 .4 .6 .5-2.7 .4 2.2 .4 6 .4-8 .4 4.2 .5-1.2 .4 1.2 .4 .2 .4-5 .4 2.2 .5 7.1 .4-5.9 .4-4 .4 2.3 .4 .8 .5-1.3 .4-2 .4 1.1 .4 6.4 .4-5.5 .5-2.8 .4 1.9 .4 1.6 .4-.2 .4-3 .5 5.5 .4-2.4 .4 2.2 .4-2.3 .5 .1 .4 .3 .4-3.3 .4 1.6 .4-1.7 .5 7.5 .4-.7 .4 .9 .4-2.6 .4-1.7 .5 2.8 .4 2.2 .4-5.3 .4 1.7 .4 1.6 .5-2.4 .4-1 .4 2.2 .4-3 .4 .9 .5 3.6 .4-2 .4 3.3 .4-4.5 .4-.1 .5 1.1 .4 3.8 .4-3 .4-2.3 .4-.3 .5 4.7 .4-1.3 .4-1.5 .4-.3 .4 2.7 .5-.4 .4-3.6 .4 2.4 .4-1.1 .4 3.4 .5-4.7 .4 .7 .4-.1 .4-3.8 .4 7.2 .5-5.7 .4 1.7 .4-1.4 .4 2.9 .4 1.1 .5-.3 .4 .5 .4-2.1 .4-.6 .5 4.2 .4-3.4 .4 3.9 .4-4 .4 1.2 .5-6.2 .4 3.7 .4-.3 .4 5.9 .4-9.3 .5 11.4 .4-6.2 .4 3 .4-2.6 .4-1.9 .5 1.3 .4-4.8 .4 2.1 .4 2.3 .4-1.4 .5 4.6 .4-3.7 .4-.1 .4 .7 .4 1 .5 6.1 .4-11.5 .4 1.7 .4 4 .4-5.8 .5 7.3 .4-.6 .4-.5 .4-3.3 .4 .9 .5 2.4 .4-.9 .4 1.2 .4 .8 .4 1.3 .5-4.3 .4 3.2 .4 2.1 .4-5.2 .4-1.4 .5 3.1 .4-.2 .4 4.6 .4-6.6 .4 1.8 .5-1.2 .4 1.5 .4 2.3 .4-2.6 .5-.6 .4-1 .4 4.6 .4-3.8 .4 1.3 .5-6.2 .4 5.2 .4-.7 .4 0 .4 3.6 .5-3.5 .4 7 .4-7.7 .4 .6 .4 .7 .5-1.7 .4 4 .4-2.9 .4 2.2 .4-3.2 .5 1.1 .4 2.5 .4-4.7 .4 4.5 .4-2.7 .5 3 .4-.5 .4-2.3 .4 2.6 .4-3.6 .5 .4 .4 1.7 .4 5.5 .4-4.6 .4 3.3 .5-4 .4-3.1 .4 4.4 .4 .4 .4-9.6 .5 3.2 .4 4.2 .4-1.3 .4 4.4 .4-1.5 .5 1.9 .4-2.5 .4-2.5 .4 3.5 .4 2.4 .5-5.7 .4 4.4 .4-4.4 .4-.7 .5 4.9 .4-.6 .4-1.7 .4-3.5 .4 .3 .5 2 .4-.7 .4 4.7 .4-2.8 .4-1.6 .5 7.3 .4-9.3 .4 3.3 .4 4.1 .4-2.7 .5-2.9 .4 1.6 .4 2.5 .4-2.5 .4 1.3 .5-3.7 .4-3.1 .4 5.6 .4 1.6 .4 1.5 .5-5.2 .4 4.6 .4-4 .4 .8 .4 2.8 .5-.4 .4 .1 .4 .6 .4-1.2 .4-3.7 .5 .6 .4 1.6 .4-2.5 .4 4.7 .4-2.5 .5 .5 .4-1.6 .4 .6 .4 2.5 .4-.1 .5-7.8 .4 10.5 .4-1.6 .4-2.5 .4 1.3 .5-3.2 .4 3.1 .4-2.1 .4 .2 .5 1.1 .4-1.5 .4-4.4 .4 5.2 .4 3.9 .5-2.8 .4-2.7 .4-2.2 .4 5.4 .4 1.2 .5-4.7 .4 3.3 .4-3 .4 3.3 .4 1.3 .5-5.2 .4 1.8 .4 1.4 .4 3.1 .4-2.1 .5-5.6 .4 5.1 .4-2.1 .4-.3 .4 .5 .5-1.4 .4 3.8 .4-1.3 .4-7.8 .4 12.5 .5-6 .4-.8 .4 2.5 .4 .1 .4 1.1 .5 .8 .4-4.9 .4 3.3 .4 2.1 .4-6 .5 2.1 .4 0 .4 2.5 .4-3.9 .4-1.5 .5 6.4 .4 1.3 .4-5.9 .4 3.6 .4-6.7 .5 7.8 .4-4.2 .4-1.7 .4 .8 .5 4 .4-6.3 .4 5.5 .4-3.6 .4 6.3 .5-5.8 .4-.6 .4 4.4 .4-.4 .4-4.2 .5 4.2 .4-7.1 .4 5.5 .4-1.3 .4-1.8 .5 1.6 .4 6.4 .4-4.9 .4-1.3 .4 3.2 .5-2.4 .4 1.8 .4-4.2 .4 3.5 .4 3.1 .5-5.6 .4 2.3 .4-.3 .4 3.4 .4-2.6 .5-1.2 .4-2.3 .4 1.8 .4 .1 .4-.3 .5 1.5 .4-2.9 .4 1.1 .4 2.3 .4-.5 .5 .9 .4-6.1 .4 3.8 .4 0 .4-4 .5 6.1 .4-.8 .4 1.6 .4-3.5 .4 3.7 .5-2.7 .4 3.9 .4-2.1 .4-1.2 .5-.6 .4-2.8 .4 3.1 .4 .5 .4 2.6 .5-.9 .4-.5 .4-.3 .4-2.9 .4 1.7 .5 .5 .4-.4 .4-.4 .4 2.6 .4-1.2 .5-2.5 .4 1.3 .4 1.3 .4-.9 .4-.1 .5-1.1 .4-1.5 .4-3.5 .4 2 .4 5.7 .5-5.3 .4-.4 .4 4.4 .4 2.6 .4-2.3 .5 .4 .4 2 .4-5.2 .4 .3 .4 1 .5-3.6 .4 7.9 .4-4.5 .4-.9 .4 6.2 .5-3.6 .4-1.5 .4-1.5 .4-5.1 .4 6.6 .5-1 .4 4.3 .4-1.7 .4 2.3 .4-.9 .5-2.5 .4 .3 .3-.6 .2-1.5 .2-1.5 .2-1.5 .2-1.5 .2-1.4 .2-1.5 .3-1.5 .3-1.2 .3-1.3 .3-1.2 .3-1.3 .2-.2 .2 2.1 .1 2.1 .1 2.1 .1 2.2 .1 2.1 .1 2.1 .2 2.1 .1 2.1 .1 2.1 .1 2.1 .1 2.1 .1 2.1 .2 2.1 .1 2.1 .1 2.1 .1 2.1 .1 2.1 .2 2.1 .1 2.1 .1 2.1 .2 2.1 .1 2.1 .2 2.1 .1 2.1 .1 2.1 .2 2.1 .1 2.1 .2 2.1 .1 2.1 .1 2.1 .2 2.1 .1 2.3 0 2.5 .1 2.5 .1 2.6 0 2.5 .1 2.5 .1 2.5 .1 2.6 0 2.5 .1 2.5 .1 2.5 .1 2.5 0 2.6 .1 2.5 .1 2.5 0 2.5 .1 2.6 .1 2.5 .1 2.5 0 2.5 .1 2.6 .1 2.5 0 2.5 .1 2.5 .1 2.5 .1 2.6 0 2.5 .1 2.5 .1 2.5 .1 2.6 0 2.5 .1 2.5 .1 2.5 0 2.5 .1 2.6 .1 2.5 .1 2.5 0 2.5 .1 2.6 .1 2.5 0 2.5 .1 2.5 .1 2.5 .1 2.6 0 2.5 .1 2.5 .1 2.5 0 2.6 .1 2.5 .1 2.5 .1 2.5 0 2.6 .1 2.5 .1 2.5 .1 2.5 .1 2.3 .1 1.9 .2 1.9 .1 1.9 .2 1.9 .1 1.9 .2 1.9 .1 1.9 .2 1.9 .1 1.8 .2 1.9 .1 1.9 .2 1.9 .2 1.9 .3 1 .3 1 .3 1 .4 1 .3 1 .3 1 .3 1 .3 .6 .2-1.9 .1-1.9 .1-1.9 .2-1.9 .1-1.9 .1-1.9 .2-1.9 .1-1.8 .2-1.9 .1-1.9 .1-1.9 .2-1.9 .1-1.9 .1-1.9 .2-1.9 .1-1.9 .2-1.9 .1-2.1 .1-2.1 .2-2.1 .1-2.1 .2-2.1 .1-2.1 .1-2.1 .2-2.1 .1-2.1 .2-2 .1-2.1 .1-2.1 .2-2.1 .1-2.1 .2-1.9 .2-1.7 .2-1.7 .3-1.6 .2-1.7 .2-1.7 .2-1.6 .2-1.7 .3-1.7 .2-1.6 .1-1.9 .2-1.9 .1-1.9 .2-1.9 .1-1.9 .2-1.9 .1-1.9 .2-1.9 .1-1.8 .2-1.9 .1-1.9 .2-1.9 .1-1.9 .3-1.2 .3-1.3 .2-1.2 .3-1.2 .3-1.3 .2 .5 .1 2.1 .1 2.1 .1 2.1 .1 2.1 .1 2.1 .2 2.1 .1 2.1 .1 2.1 .1 2.1 .1 2.1 .1 2.2 .2 2.1 .1 2.1 .2 1.9 .1 1.9 .1 1.9 .2 1.9 .1 1.8 .2 1.9 .1 1.9 .1 1.9 .2 1.9 .1 .9 .1-2.6 0-2.5 .1-2.5 .1-2.5 0-2.6 .1-2.5 .1-2.5 0-2.5 .1-2.6 0-2.5 .1-2.5 .1-2.5 0-2.6 .1-2.5 .1-2.5 0-2.6 .1-2.5 .1-2.5 0-2.5 .1-2.6 0-2.5 .1-2.5 .1-2.5 0-2.6 .1-2.3 .1-2.3 .1-2.3 .1-2.3 .1-2.3 .1-2.4 .1-2.3 0-2.3 .1-2.3 .1-2.3 .1-2.3 .1-2.4 .1-2.3 .1-2.3 .1-2.3 0-2.3 .2-2.1 .2-1.5 .2-1.4 .2-1.5 .2-1.4 .3-1.5 .2-1.5 .2 3 .4-4 .3-1.5 .3-3.5 .4 2.1 .3-.5 .4-5 .4 3.9 .4-3 .5 .3 .4-1.5 .4 1.1 .4-2 .4 6.5 .4-5.7 .5 5.1 .4-.1 .4 2.8 .4-4.4 .4-1.5 .5 2.4 .4 .3 .4-3.7 .4 1.3 .4 .8 .5-6.1 .4 6.9 .4 .4 .4-7 .4 6.2 .5-5.8 .4 5.2 .4 1.3 .4-7.7 .4 4.3 .5 .1 .4 3.8 .4-2 .4-1.4 .5 1.8 .4-1.2 .4-2.5 .4 7.3 .4-4.1 .5-2.7 .4 3.7 .4 .2 .4-.5 .4 .3 .5-3.6 .4 2.6 .4-3.6 .4 1 .4 4.7 .5 0 .4-1.1 .4-2.6 .4 1.3 .5 1.4 .4 4.2 .4-8.1 .4 2 .4 0 .5-.8 .4-4.7 .4 7.3 .4 1.9 .4-.7 .5-5.5 .4 1 .4-.4 .4 3.3 .4-3.6 .5 3.7 .4-1.5 .4 2.8 .4-2.2 .5-6.1 .4 4.8 .4 2.3 .4-.9 .4-4 .5 6.9 .4-3.1 .4 .9 .4-1.3 .4 1.5 .5 .5 .4-4.3 .4 1.4 .4-.5 .4 3 .5-3 .4 2.1 .4 1.8 .4-5.8 .5 2.2 .4-.2 .4 3 .4-5.7 .4 4.8 .5-.6 .4-1 .4 2 .4-2.2 .4 3.7 .5-.9 .4 0 .4-2.3 .4-1.2 .4 1.5 .5 2.4 .4-1 .4 .8 .4-3.9 .5 1.5 .4 5.1 .4-5.1 .4 2 .4-6 .5 4.1 .4-1.9 .4-.5 .4 3.5 .4 0 .5-1.3 .4-1.5 .4 3.7 .4-3.2 .4 1.8 .5-1 .4 1.1 .4-2.7 .4 3.1 .5 .9 .4 .3 .4-4.3 .4 5.6 .4-4.2 .5 5.1 .4-6.5 .4 4.5 .4 2 .4-2.2 .5 .6 .4-2.3 .4 2.5 .4-5.7 .4 2.8 .5-2 .4 4.3 .4-1.3 .4-1.5 .5 3.4 .4-.3 .4 1.8 .4-4.4 .4-.6 .5 3.8 .4-4.1 .4-2.2 .4 3.6 .4-.1 .5 4.7 .4-5.7 .4 3 .4-5.7 .4 6.2 .5-2.9 .4 5.4 .4-3 .4-1.7 .5-1.4 .4-3.1 .4 8.2 .4-2.7 .4-.2 .5 1.6 .4-3 .4-1.7 .4-.7 .4 2.8 .5 2.5 .4 .7 .4-.3 .4-3.4 .4 2.8 .5-5.1 .4 4.6 .4 1.1 .4-.8 .5-3.9 .4-.4 .4 .9 .4 2.2 .4-3.4 .5 3.1 .4 .1 .4 0 .4-3.2 .4 .9 .5-.5 .4 2.3 .4 .6 .4-3.2 .4 2.5 .5 1 .4 3.3 .4-6.2 .3-4.6 .3 3.3 .3 .3 .3-2.4 .3 3.4 .3-3.7 .3-5.5 .3-3.1 .3 6.5 .3-2.4 .3 1.3 .3-4.7 .4 1.1 .4-1.7 .5-2.9 .4 2.5 .4 1.3 .4 1.1 .4-2.6 .5 1.9 .4-1 .4 0 .4-.7 .4 .4 .5 2.6 .4 1.3 .4-2.4 .4 1.2 .4-.3 .5-.4 .4-1.1 .4 .6 .4 .9 .5-2.4 .4 5 .4-2.3 .4-2.5 .4-3 .5 2.6 .4 .2 .4 2.3 .4-2.6 .4 3.2 .5-4.4 .4 3.1 .4-.1 .4-2.3 .4 4.1 .5-4.7 .4 .9 .4-.9 .4 1.7 .5 2.6 .4-3 .4-1.5 .4 2.8 .4 4.2 .5-3.7 .4-3.6 .4 2.3 .4-6.6 .4 3.7 .5 6.4 .4-2.6 .4 3.5 .4-2.5 .4 1.5 .5-5.2 .4 6.7 .4-2.9 .4 2.8 .4-2.2 .3 3.8 .4-5.2 .3 3.4 .2 1.7 .2 1.7 .1 1.7 .2 1.6 .2 1.7 .1 1.7 .2 1.7 .2 1.7 .2 1.6 .1 1.7 .2 1.7 .2 1.7 .1 1.7 .2 1.7 .3 .9 .4 .2 .4 .2 .4 .2 .4 .1 .4 .2 .4 .2 .4 .2 0-2.7 .1-2.8 0-2.7 .1-2.7 0-2.7 .1-2.8 0-2.7 0-2.7 .1-2.8 0-2.7 .1-2.7 0-2.8 .1-2.7 0-2.7 0-2.7 .1-2.8 0-2.7 .1-2.7 0-2.8 .1-2.7 0-2.7 .1-2.8 0-2.7 0-2.7 .1-2.7 0-2.8 .1-2.7 0-2.7 .1-2.8 0-2.7 0-2.7 .1-2.8 0-2.7 .1-2.7 0-2.7 .1-2.8 0-2.7 0-2.7 .1-2.8 0-2.7 .1-2.7 0-2.7 .1-2.8 0-2.7 0-2.7 .1-2.8 0-2.7 .1-2.7 0-2.8 .1-2.7 0-2.7 0-2.7 .1-2.8 0-2.7 .1-2.7 0-2.8 .1-2.7 0-2.7 .1-2.8 0-2.7 0-2.7 .1-2.7 0-2.8 .1-2.7 0-2.7 .1-2.8 0-2.7 0-2.7 .1-2.8 0-2.7 .1-2.7 0-2.7 .1-2.8 0-2.7 .1 2.5 0 2.5 .1 2.6 0 2.5 .1 2.5 0-1.7 .1 7.7 0 1 .1 2.6 0 1.5 .1 4.7 0 2.2 .1 5 0-2.8 .1 1.1 0 7 .1 5.6 .1-.5 0 1.7 .1 3.8 0 3.3 .1 2.4 0 4.1 .1 1.1 0-.1 .1 2 .1 6.2 .1-.7 .1 6.5 0-7.4 .1 9.2 .1-1.1 .1 5.2 .1-.8 0 5.3 .1-2.9 .1 3 .1 9.2 .1-.7 0 5.9 .1-.2 .1-2.7 .1 3.5 .1 4.3 0 .5 .1 6.3 .1-.3 .2 .4 .3-.2 .2-1.9 .3-5.5 .2 .8 .3 5.8 .2-8.4 .3 1.6 .2-1.8 .3-2 .2-2.5 .3 3.5 .2-6.3 .1-.1 .1 12 .2-5 .1 5.2 .1-.2 .1 4.5 .1 .9 .1 .8 .1 7.4 .1-.2 .2 1.8 .1 .5 .1 3.9 .1-.7 .2-4.3 .1 4.4 .1-5.8 .2-1.9 .1-3.8 .2 3.1 .1-7.1 .2 1.3 .1 3.3 .1-10.8 .2 1.6 .1-4.8 .2-.6 .1-4.5 .1 5.3 .2-7.8 .1 1.9 .2-8.4 .1 5.8 .1-1.7 .2-6 .1-.7 .2-3.1 .1-6.7 .1 9.8 0 2.5 .1 7 .1-2.5 0 4.1 .1-.4 .1-.3 0 7 .1 1.7 .1 1.9 0 3.9 .1 1.5 .1 1.1 0 3.2 .1 4.9 .1-.8 0 2.8 .1 2.9 .1 1.2 0 5.2 .1 .2 .1 9.3 0-.2 .1-.1 .1 1.7 0 4.7 .1 .1 .1 .1 0 7.4 .1 1.3 .1 4.5 0 3.8 .1 .2 .1 5.7 0 .8 .1-1.8 .1 6.5 .1 .6 0 2.5 .1 1.1 .1 4.1 .1 3.7 .1-.5 0 3.2 .1 7.1 .1 .5 .1 5 .1-.5 0-1.7 .1 4.2 .1 7.1 .1-.4 .1 4.1 0-3.4 .1 7.1 .1 4.6 .1 2.9 .1 2.8 0 .7 .1 1.2 .1 4.3 .1 3.3 .1-.8 0 2.5 .1 5 .1 .5 .1 3.1 .1 2.2 0 .9 .1-.1 .1-2.6 .1-3.2 .1 1.1 .1-6.3 .1-2.4 .1-.3 .1-4.6 .1-1.2 .1-3.3 .1-7.6 .1 .1 .1-2.1 .1 3 .1-.2 .1-4.9 .1-7.9 .1-2.1 .1 1.5 .1-.7 .1-5.1 .1 5.7 .1 1.4 .1 5.1 0 5 .1 1.3 .1 5.8 .1-4.8 .1 .3 .1 5.7 .1 1.2 .1-.4 0 10 .1-1 .1-.1 .1 6.8 .1 .9 .1 3.8 .1 1.8 .1 1.3 0 1.4 .1 .2 .1 6.7 .1 .8 .1 3.9 .1 2.1 .1 1.8 .1 2.7 0 4.3 .1 .8 .1 .6 .1-.1 .1 5.4 .1 1.6 .1-.9 .1-.3 .2-4 .1-4.4 .1 1.5 .2-4.9 .1-.9 .1-3 .2-.1 .1 0 .1-3.5 .1-3.3 .2-4.3 .1 .2 .1-1.5 .2-5.1 .1-3.6 .1-2.6 .2 3.9 .1-8.4 .1-1.4 .2 1.1 .1 3.9 .1-10.5 0 1.8 .1-2.7 .1-4.6 0-3 .1 .9 .1-5.3 0-2.9 .1-2.9 .1 .8 0-6.8 .1 1.1 0-6.3 .1-.4 .1-1.6 0-5.8 .1-2.4 .1 1.4 0-4.7 .1-3.4 .1-5.3 0 3 .1-2 .1-3.9 0-7.1 .1 2.6 .1-2.7 0-2.1 .1-6.2 .1-2.6 0 3.4 .1-6.9 0 .6 .1-7.4 0 3.7 .1-6.6 0-1.4 .1-1.7 0 .3 .1-11.6 0 5 .1-4.2 0-5.9 .1-2.2 0-2.2 .1-2 0-2.2 .1-2.7 0-4.4 .1-1.9 0-4.3 .1 3.2 0-5.7 .1-2.7 0 2.8 .1-4.5 0-5 .1-2.3 0-4.2 .1-2.6 0-2 .1-.6 0-4.9 .1-1.2 0-4.1 .1-.5 0-1.7 .1-1.5 0-5.2 .1-5.9 .1 6.2 0-8.5 .1-1.6 .1-4.9 .1 2.8 .1-8.6 .1 2.7 0-4.6 .1-2.3 .1 2.1 .1-5.3 .1 .5 0-4.6 .1-3.2 .1 .6 .1-5.4 .1-1.2 0 .2 .1-2.3 0 6.5 .1-7.7 0 8 0-.1 .1 6.7 0-2.1 0 7.2 0 2.1 .1 6.6 0 .1 0 1.8 .1 4.2 0 3 0 .2 .1 6.4 0 .3 0 3.6 0-.7 .1 4.1 0 6.7 0 2.9 .1-3.2 0 5.5 0 8.2 0-5.7 .1 4.1 0 4.7 0-2.4 .1 7.9 0 2.2 0 2.2 .1-.5 0 7.5 0-.3 0 2.3 0 5.7 .1 2.3 0 6.9 0-2 0 2.7 0 5.3 .1-.8 0 3.2 0 4.2 0 .6 .1 3.6 0 2.6 0 5.3 0 4 0-4.3 .1 1.8 0 7.1 0 5.1 0 3.9 0-4.5 .1 6.7 0 6.9 0 .4 0 1.6 0 2.3 .1 5.8 0-.4 0-.2 .1 3.9 .2-5.1 .1 .8 .1-5.8 .2-5.8 .1 .3 .1-3.3 .2 1.6 .1-2.7 .1 0 .2-3.5 .1-3.8 .1 1.8 .2-6.8 .1 .7 0-8.3 .1-.2 .1 1.8 0-1.2 .1-2.4 .1-5.3 0-3.6 .1-5 .1 2 0-4.4 .1-2.3 .1 .4 0-6.6 .1-5.9 .1 5.4 0-2.7 .1-5.3 .1-4.6 .1 .4 0 4 .1 5.9 .1 3 0-2.1 .1 5.6 .1 4.6 .1-3.6 0 8.6 .1-1.8 .1 2.8 .1 4.7 0 2 .1 2.7 .1-4.3 0 11 .1-.2 .1 5.1 .1 4.7 0-4.2 .1 4.5 .1 .8 0 4.2 .1 1.1 .1 3.8 .1 3.5 0-.7 .1 3.4 .1 4.6 .1 5.5 0 1.1 .1-3.1 .1 4.7 0 .6 .1 5.6 .1 2.1 .1 5.2 0 1.3 0 1.6 .1 6.1 0-2.5 0 4.2 .1 2.4 0 3.2 0 4.3 .1 3 0 4.6 0-.2 .1 2.4 0 1.1 0 7.6 .1-1.8 0 6.1 0-2.1 .1 2.8 0 6.2 0-.5 .1 5.1 0 .3 0 5.2 .1 2.1 0 2.6 0 2.5 .1 4 0 1.4 0 1.8 .1 7.7 0-2.5 0 5 .1 2.1 0 4.1 0 2.1 .1 1.7 0 3.9 0 1.9 0-4.6 .1 15 0-1.2 0 6.1 .1-4.9 0 4.4 0 8 .1-1.9 0 2.8 .1 1.4 .1 2.3 .1 5.3 .1 .8 .1-1.7 .1 9.6 .1 1.6 .1 1.4 .1-.4 0 9.9 .1-3.5 .1-3 .1 4.3 .1 8.6 .1-3.4 .1 5.1 .1 2.4 .1 1.3 .1 5 .1-3.1 .1 8.2 0-1.4 .1 3.6 .1 7.8 .1-1 .1 2.9 .1-3.4 .1 1.5 .1-5.2 .1-4.3 .1 0 .1-2.3 0 .6 .1-3.4 .1-6.7 .1 1 .1-1.4 .1-6.1 .1-3 .1 4.8 .1-5.6 .1-3.7 .1-2.4 .1-1.8 0-3.8 .1 2.8 .1-6.8 .1 5 .1-1.9 .1-9.5 .1-1.5 .1-4.1 .1-1 .1-1 0 2.5 .1 1.9 0 3.2 .1 7.1 0 2.7 .1-4.5 .1 2.5 0 2.1 .1 2.2 0 7.5 .1-2.5 0 5.2 .1 .3 0-1.1 .1 8 0 5.2 .1-4.2 0 6.2 .1 3.5 0-1.4 .1 8.4 0-2.4 .1 7.9 0-3.6 .1 4.7 0 3.3 .1 3.1 0 .3 .1-3.2 .1 4.7 0-.4 .1-6.3 .1 1.3 .1-2.9 .1 0 0-4.9 .1 .9 .1-7.3 .1-5.7 0 3.6 .1-5.3 .1 2 .1-5.3 .1-2.8 0-1.3 .1 .8 .1-5.8 .1-.3 0-6.4 .1 3.5 .1-2.3 .1-5.2 .1-2.2 0-2.8 .1-3 .1 2.5 .1-4.7 0 .4 .1-7.2 .1 2.5 .1-4.1 .1-2.7 0-5 .1 1 .1-6 .1 3.1 .1-3.5 0-3.1 .1 4.7 .1 2.8 .1-.9 .1 2.1 .1 0 .1 5.3 0 4.4 .1 2.2 .1 1.7 .1-1.7 .1 5.4 .1-5.9 .1 11.4 .1-1.8 0 3.7 .1 2.5 .1 2.7 .1 2.3 .1-1.5 .1 9.6 .1-3.5 .1 9.4 .1 2.6 0-2.9 .1 3.2 .1-.8 .1 8.1 .1 4.3 .1-1.7 .1 .3 .1 .7 0 1.9 .1 5.7 .1 2.2 .1-4.7 .1 .3 .1-5.7 .1 1.7 0-3.4 .1-8.5 .1-1 .1 3.8 .1-5.6 .1 1.6 0-6.9 .1-.2 .1-3.7 .1-1.2 .1-4.8 .1 .6 0-.7 .1-1.3 .1-7.8 .1 4.1 .1-4.4 .1-2.9 0-6.5 .1 4.2 .1-.2 .1 5.3 .1 1.6 0-.8 .1 8.8 .1-1.4 .1 .6 0 5.3 .1 1 .1 2.4 .1 2 .1 3.7 0 2 .1 4.7 .1 4.3 .1-.2 0-.1 .1 8.1 .1 1.1 .1-.9 .1 3.3 0 5.4 .1 1 .1 7.3 .1-.3 .1-.4 .1-.9 .1-7.2 .1-1.1 .1-2.2 .1-.2 .1-4.1 .1 .6 .1-7.2 .1-.8 .1-3.3 .1-2.6 .1-.7 .1-5.4 .1 1.9 .1-3.4 .1 1.6 .1-6.3 .1-.6 .1-4.2 0-2.7 0-2.8 .1-2.7 0-2.7 0-2.8 0-2.7 0-2.7 .1-2.8 0-2.7 0-2.7 0-2.8 0-2.7 .1-2.7 0-2.7 0-2.8 0-2.7 0-2.7 .1-2.8 0-2.7 0-2.7 0-2.8 .1-2.7 0-2.7 0-2.8 0-2.7 0-2.7 .1-2.7 0-2.8 0-2.7 0-2.7 0-2.8 .1-2.7 0-2.7 0-2.8 0-2.7 0-2.7 .1-2.8 0-2.7 0-2.7 0-2.8 0-2.7 .1-2.7 0-2.7 0-2.8 0-2.7 0-2.7 .1-2.8 0-2.7 0-2.7 0-2.8 0-2.7 .1-2.7 0-2.8 0-2.7 0-2.7 0-2.8 .1-2.7 0-2.7 0-2.7 0-2.8 .1-2.7 0-2.7 0-2.8 0-2.7 0-2.7 .1-2.8 0-2.7 0-2.7 0-2.8 0-2.7 .1-2.7 0-2.7 0-2.8 0-2.7 0-3 0-2.9 0-2.9 0-3 .1-2.9 0-3 0-2.9 0-2.9 0-3 0-2.9 0-3 0-2.9 0-3 0-2.9 0-2.9 .1-3 0-2.9 0-3 0-2.9 0-3 0-2.9 0-2.9 0-3 0-2.9 0-3 0-2.9 .1-2.9 0-3 0-2.9 0-3 0-2.9 0-3 0-2.9 0-2.9 0-3 0-2.9 0-3 .1-2.9 0-2.9 0-3 0-2.9 0-3 0-2.9 0-3 0-2.9 0-2.9 0-3 .1-2.9 0-3 0-2.9 0-3 0-2.9 0-2.9 0-3 0-2.9 0-3 0-2.9 0-2.9 .1-3 0-2.9 0-3 0-2.9 0-3 0-2.9 0-2.9 0-3 0-2.9 0-3 0-2.9 .1-2.9 0-3 0-2.9 0-3 0-2.9 0-3 0-2.9 0-2.9 0-3 0-2.9 0-3 .1-2.9 0-3 0-2.9 0-2.9 0-3 0-2.9 0-3 0-2.9 0-2.9 0-3 0-2.9 .1-3 0-2.9 0-3 0-2.9 0-2.9 0-1.3" stroke="#6d1a82" stroke-width="1.0"/>
</g>
<g clip-path="url(#c1)" fill="none" stroke-linejoin="round" stroke-linecap="round">
<path d="M104.0 830.0l.8-15.3 1.7-13.1 1.9-3.2 1.9-11.6 1.8-4.4 1.8-12.9 1.7-4.6 1.7-13.5 1.7-5.3 1.8-13.3 1.7-6.4 1.7-12.8 1.7-5 1.7-12.9 1.7-5.1 1.8-13.2 1.7-5.5 1.7-12.5 1.8-5.1 1.8-13.4 1.8-4 1.8-12.7 1.9-4.2 2-10.5 2.1-2.5 2.2-9.2 2.4-.8 2.6-7.4 2.8 4.2 2.6 .2 2.3 9.3 2.1 1.6 2.1 10.8 2 3.5 1.9 11.7 1.7 4.6 1.8 13 1.7 6.2 1.7 13.5 1.6 5.2 1.6 13.6 1.7 5.9 1.6 14.2 1.7 5.4 1.6 15.2 1.6 6.1 1.5 15.1 1.6 6.3 1.6 13.9 1.7 6.1 1.7 13.4 1.8 3.7 2 10.6 2.3-.4 2.5 2.9 2.1-10.4 1.8-4.2 1.8-13 1.6-5.2 1.7-14.6 1.5-6.6 1.6-13.7 1.4-7.4 1.4-16.7 1.5-7.1 1.4-15.2 1.6-6.2 1.8-13.6 1.8-4.4 1.8-11.6 1.9-3.3 2-11.8 1.9-3.3 2-10.4 1.9-3.2 2.1-11.1 2.1-1.9 2.1-9.6 2.2-1.8 2.1-8.5 2.4-1.1 2.7-5.7 2.6 7.2 2.3 1.3 2.1 10.3 2.1 1.5 2.1 10.6 2 1.4 2 11.1 1.9 2.4 2.1 12.5 1.9 3.6 1.8 12.8 1.8 4.6 1.7 12.5 1.8 5.3 1.7 13 1.7 4.7 1.8 12 1.8 3.9 1.9 11.9 2 2.8 2.2 10.6 2.4 1.4 2.5 7.1 2.8-2 2.7 1.5 2.4-8.5 2.2-3 2.1-10.2 1.9-3.4 1.8-13.1 1.8-3.7 1.8-12.3 2-4.3 2-12 1.9-3.2 2-12 1.9-4 1.8-11 2-3.8 2-12.1 2-2.6 2-11.6 2.1-3 2-10.4 2.2-1.7 2.2-9.9 2.1-1.6 2.2-8.9 2.3-.5 2.6-6.7 2.6 5 2.3 1.3 2 11.4 2 3.3 2 10.5 2 2.1 2.2 11.4 2 2.8 2.2 10.2 2.1 1.4 2.2 11 2.1 1.6 2.2 8.6 2.2 2.3 2.1 8.3 2.3 1.3 2.3 8 2.3-.2 2.4 8.1 2.6 .2 2.7 6.6 2.7-4.8 2.2-1.3 2.2-8.9 2.3-2.3 2.2-9.6 2.1-2.5 2.1-10.7 2-1.9 2.1-9.9 2.1-2.5 2.2-10.9 2.2-1.3 2.1-10.3 2.1-1.8 2.3-9.4 2.1-1.9 2.3-9.4 2.2-2.2 2.1-10.4 2.3-.2 2.5-2.1 2.2 9.5 2.1 3.4 2 9.9 2.1 2.5 2.1 10.1 2.1 1.8 2.2 9.9 2.2 2 2.1 10.7 2.2 2 2.2 10 2.1 1.8 2.1 10.1 2 1.1 2.1 10 2.1 1.6 2.2 9.9 2.1 1.4 2.1 9.2 2.2 1.7 2.3 10.4 2.2 1 2.2 9.1 2.2 .9 2.1 9.2 2.3 1.9 2.4 8.4 2.2 .8 2.4 9.3 2.4 .4 2.4 8.5 2.5 .8 2.3 8 2.4 .4 2.5 8.2 2.4-.2 2.6 7.1 2.8-1.3 2.9 4.6 3-3 2.8 4 2.7-3.5 3.2 5.2 3-4 2.9 4.6 2.8-3.3 2.8 3.6 2.8-4 2.9 5 2.3-.1 1.3 15.8 1.2 9.6 1.1 18.4 1.2 8.9 1.4 16.7 1.5 6.6 1.4 16.1 1.5 6.4 1.7 13.4 2.3-3.4 1.8-4.3 1.6-15.1 1.6-6.6 1.9-11.5 2-3 1.5-14.5 1.6-6.3 1.6-15.2 2.6 3.2 2.7-.6 2.6 5.1 2.8-4.1 2.7 1.3 2.5-6.3 2.6 .5 2.5-6.7 2.4 .3 2.4-7.6 2.4 1.3 2.3-7.6 2.5 .1 2.5-7.9 2.4 1.3 2.6-6.7 3.1 3 2.9-3.4 2.6 2.3 2.3-8.2 2.4-1.1 2.2-9.3 2.5 0 2.7-5.3 2.9 2.8 2.5-7.8 2.2-1.2 2.1-9.6 2.1-2 2-9.8 2.1-3 1.9-12.3 1.7-5.5 1.6-14.3 1.7-6.1 1.6-12.7 1.8-4.8 2-11.7 1.9-3.8 2-11.3 2-2.8 2-10.6 2.1-2.1 2.1-11.2 2.2-2.7 2.1-9.9 2.1-2.4 2.1-9.6 2.3-1.9 2.2-9.6 2.2-2.4 2.3-8.9 2.3-1.8 2.1-9.4 2.5 .1 2.7-2.3 2.3 8.4 2.4 1.8 2.2 9 2.4 .5 2.3 8.9 2.3 1.1 2.4 8.1 2.2 1.4 2.2 9.3 2.1 2.4 2 10.5 2.1 2.2 2 11.5 2.1 1.5 2.2 9.4 2.2 1.3 2.3 8.4 2.4 .3 2.3 8.3 2.5-1.7 2.9 5.2 2.6-5.6 2.4-1.3 2.1-10.3 2.3-1.7 2.4-9 2.4-.5 2.3-8.7 2.3-1 2.3-8.3 2.3-.9 2.3-8.4 2.3-.2 2.3-8.6 2.3-1.4 2.4-8.3 2.2-.4 2.3-8.5 2.4-1.6 2.2-7.8 2.4-1.3 2.4-7.1 2.6 2.1 2.9-3.6 2.6 6.1 2.4-.1 2.5 7.9 2.4-.2 2.2 8.5 2.3 1.1 2.2 10 2.1 1.4 2.1 9.9 2.1 3 2.2 11.2 2.1 3.8 2.1 10.1 2 2.4 2.2 10.6 2 2.3 2.1 10.2 2.2 2.2 2.1 10.1 2 2.3 2.1 11.1 2.1 1.7 2.2 10.9 2.1 2 2.2 10.6 2.1 .5 2 11.1 2.2 .3 2.2 11.5 2.6-.7 2.7 8.9 2.8-6.4 2.7 8.4 2.4-2.3 2 12.1 1.8 1.8 2 14.8 2.1-.9 2.3 11.7 2.5-2.1 2.6 10.5 2.3-3.1 2.3 11.9 2.3-1.4 2.4 12 2.2-2.2 2.2 11.9 2.2-2.7 2.3 12.1 2.3-1 1.8 13.4 1.6 5 1.5 17 1.4 5.7 1.3 18.9 1.4 5.1 1.4 17.1 1.4 6.2 1.6 16.4 1.7 2.6 1.9 12.9 .6-.3" stroke="#828282" stroke-width="1.25"/>
<path d="M104.0 640.5l1.2 7.9 1.9-12.3 1.9 10.3 1.8-12.1 2 13.4 2.1-9.8 2.2 12.3 2.2-11.9 2.3 13.8 2.3-12.2 2.2 13.8 2.1-12.7 1.8 12.9 1.8-13.5 1.8 15.2 1.9-13.8 1.9 15.3 1.9-11 1.9 13.1 2-13.2 1.9 13.1 1.9-10.2 1.9 13.6 1.9-13.2 1.8 15.1 1.8-14.1 1.8 15.9 1.8-13.6 1.8 14.4 1.8-12.8 1.8 13.2 1.8-12.5 1.8 14.4 1.8-12.1 1.8 16 1.8-13.7 1.8 13.1 1.8-11.8 1.8 15.4 1.7-11.4 1.7 11.4 1.8-10.5 1.7 12.4 1.8-11.7 1.7 15.3 1.7-11.9 1.8 13.6 1.7-12 1.8 15.8 1.7-12.5 1.7 12.9 1.8-11.6 1.7 13.6 1.8-11.5 1.6 14.5 1.7-11.8 1.7 14.4 1.6-12.5 1.7 12.9 1.6-12.2 1.7 15.3 1.6-11.1 1.7 13.6 1.7-12.9 1.6 17 1.7-13.3 1.6 13.9 1.7-10.2 1.6 14.3 1.7-12.1 2 13.7 2-11.3 1.9 13.6 2-10.5 1.6 12.8 1.6-9.3 1.6 13 1.5-13 1.6 15.9 1.6-11.4 1.6 14.2 1.6-11.1 1.6 12.8 1.5-12.7 1.6 17 1.9-12.8 1.9 15.9 1.9-12.8 1.9 15 1.9-11.9 1.9 16.9 1.8-14 1.9 15.7 1.9-12.2 1.9 16.2 1.9-11.6 1.9 15.5 1.8-13.6 1.9 16.5 1.9-13.5 1.9 14.9 1.8-10.1 1.9 15.4 1.8-11.6 1.9 13.4 1.9-11.3 1.8 15.5 1.9-10.8 1.9 12.8 1.8-11.7 1.9 16.2 1.9-10 1.8 13 1.9-9.9 1.8 15.7 1.6-12.2 1.5 13.2 1.6-9.9 1.5 13.6 1.6-10.9 1.6 13.6 1.5-12.3 1.6 17.4 1.8-14.3 1.8 15 1.7-9.9 1.6 16 1.5-11.6 1.6 12.7 1.8-10.6 1.6 15.1 1.7-11.9 1.5 17.4 1.6-12.2 1.5 14.4 1.7-10.1 1.8 13.8 1.6-9.9 1.7 14.5 1.8-11.5 1.9 15.6 1.5-14.2 1.5 14.2 1.6-10.7 1.6 15.7 1.6-11 1.7 13.8 1.6-10.5 1.6 14.9 1.6-11.4 1.6 14.4 1.7-14.1 1.7 18.6 1.7-12.2 1.7 15.1 1.7-10.8 1.8 14.1 1.7-12.7 1.8 18.3 1.7-11.4 1.7 13.7 1.8-12.3 1.7 15 1.8-11.9 1.6 17.3 1.5-13.3 1.6 14.2 1.6-12.1 1.6 15.2 1.5-10.2 1.6 11.9 1.6-9.1 1.6 13 1.5-11.4 1.6 13.2 1.6-11.5 1.6 14.3 1.5-10.1 1.6 10.5 1.6-10 1.8 12.9 1.9-9.4 1.9 11.7 1.9-9.2 2 10.2 1.9-8 1.9 10.9 1.9-9.9 1.9 12.3 1.8-13.1 1.8 13.8 1.6-11.3 1.6 15.3 1.9-14.5 1.7 15.1 2-14.8 1.8 14.3 1.6-14.7 1.9 18 1.8-17.7 1.6 18.7 2.3-16.2 1.9 13.2 1.9-14.7 1.9 15.5 1.8-20.8 1.9 21.7 1.6-20.8 1.8 18.6 1.9-21.5 1.9 18.7 2.1-21.6 1.6 22.9 1.6-23.4 1.7 21.5 1.8-24 1.7 20.5 1.9-20.8 1.5 16.6 1.5-18.5 1.6 15.1 1.6-21 1.6 19.6 1.7-17.8 1.6 15.3 1.7-18.5 1.7 16.4 1.6-20.4 1.7 16.2 1.6-19.8 1.6 18.1 1.5-20.3 1.8 19.4 1.8-22.5 1.8 17.7 1.8-24 1.8 22.7 1.8-23.8 1.8 15.5 1.8-22.1 1.8 20.9 1.8-20.8 1.8 15.1 1.8-19 1.7 16.3 1.8-19.5 1.7 14.5 1.7-22.6 1.7 22.8 1.7-22.1 1.7 16.5 1.7-23.9 1.7 20.2 1.6-20.3 1.7 15.6 1.6-21.1 1.7 20.3 1.6-25.2 1.5 19.1 1.6-23 1.5 17.2 1.7-21.4 1.7 21.2 1.6-25.5 1.6 18.9 1.6-21.1 1.5 15.1 1.5-18.2 1.6 14.9 1.5-20.8 1.5 20.3 1.5-22.7 1.6 17.8 1.6-23.2 1.8 20.8 1.7-20.3 1.8 19.2 1.7-24.3 1.8 19 1.7-19.1 1.8 19.2 1.7-24.4 1.8 20.8 1.7-19.7 1.8 18.9 1.8-19.6 1.8 16.8 1.8-22.3 1.8 21.1 1.9-22.4 1.8 19.1 1.8-21 1.8 21.6 1.8-20.1 1.8 17.1 1.8-21 1.9 19.3 1.8-20.5 1.9 17.3 1.8-18.5 1.9 17.4 1.8-20 1.8 18.4 1.9-20.7 1.8 19.8 1.9-18.1 1.8 15.3 1.7-16.9 1.7 16 1.8-17.9 1.8 14.7 1.8-18.3 1.8 16.3 1.7-18.1 1.7 15 1.7-19.8 1.5 15.6 1.8-15.4 1.7 13.6 1.6-17.7 1.8 15.2 1.8-14.3 1.6 13.5 2.2-17.8 1.9 15.6 1.7-16.8 1.9 17.3 1.9-14.8 2.1 12.4 2.1-13.8 2.2 14.5 2.1-14.2 2.1 12.2 2.1-13.7 1.9 14.1 2.2-13.9 2.1 14.8 2.1-15.6 2 16.6 2.1-14.4 2 13.5 2-15.2 1.9 15.6 1.9-11.9 2 13.2 2-14.6 1.9 18.2 1.9-16.8 1.9 19.1 1.8-14.9 1.7 16 1.7-15.9 1.7 16.9 2-15.3 1.6 18.1 1.6-13.2 1.6 14.8 2-15 1.8 16.2 1.7-15.9 1.9 21 2-17.6 1.9 19.5 2-18.4 1.9 18.8 1.8-14.7 1.6 18.3 1.9-19.5 1.7 19.7 1.8-14.9 1.8 16.1 1.8-14.5 1.7 20.2 1.7-17.2 1.8 16.6 1.9-15.6 1.9 19.8 1.9-15.9 1.9 15.7 1.8-15.6 1.7 16.7 1.6-15.2 1.7 19 1.5-16.1 1.8 20.1 1.6-13.5 1.6 15.2 1.8-11.5 1.5 15.9 1.7-15.2 1.7 21 1.6-17.5 1.5 17.8 1.6-16 1.7 19.7 1.8-16.2 2 16.1 1.7-13.1 1.8 16.8 1.5-12.3 1.7 16.2 1.8-12 1.5 17.6 1.7-14.5 1.5 18.4 1.5-16.1 1.7 16.6 1.4-13.1 1.5 19.9 1.5-14.3 1.6 18.6 1.6-14 1.6 15.1 1.6-9.3 1.6 14.7 1.5-12.8 1.6 18.8 1.4-11.8 1.7 14.4 1.6-9.7 1.5 13.7 1.5-9.9 1.6 14.9 1.4-9.7 1.5 14.8 1.4-10.6 1.4 15.5 1.7-11.6 1.5 14.9 1.5-11 1.4 15.1 1.7-8.7 1.5 12.8 1.4-8.2 1.6 13.2 1.5-9.7 1.4 14.7 1.4-9.7 1.5 14.5 1.4-7.3 1.3 12.4 1.6-7.6 1.4 15.1 1.4-8.8 .9 6.5" stroke="#3cab2c" stroke-width="1.15"/>
<path d="M104.0 752.0l1.6-.6 1.8-15.4 1.8 4.1 1.8-13.4 1.8 1.9 1.8-13.2 1.7 3.1 1.9-12.2 1.8 2 1.8-11.8 1.9 2.9 2-12 1.9 2.9 1.9-10.3 2 3.6 2.1-12.4 2.1 3.9 2-12.6 2.1 4.2 2-11 2 3.6 2.1-12.9 2 4.5 2-12.6 2.1 5.3 1.9-12.4 2 4.5 1.9-12 2 4.3 2-12 1.9 4.8 2.1-10.2 2.3 4 2.3-11.4 2.3 6 2.2-10.7 2.3 5.9 2.2-9.9 2.4 4.6 2.4-9.2 2.3 6.5 2.4-9.8 2.4 5.4 2.5-7.6 2.5 5.5 2.5-7.3 2.5 7.6 2.5-8.9 2.4 8.8 2.3-7 2.3 8.3 2.3-6.3 2.3 9.6 2.3-7.3 2.1 9.4 2.2-4.9 2.2 10.1 2.2-6.8 2.2 11.7 2.1-5.8 2.1 10.3 2-6.3 2.1 12.1 2.1-6.2 2 11.5 2.1-5.4 2.2 11.5 2.1-3.7 2.1 10.5 2.2-4.3 2.1 12.6 2.2-6.2 2 12.8 2-6.8 2.1 12.1 2.1-6.4 2 12.5 2.2-5.1 2.2 12.3 2.2-5.4 2 10.9 2-3.2 2 10.7 2-4 2.2 12.1 2.2-6.4 2.1 11.9 2.2-3.6 2.1 10.4 2.3-4.9 2.2 10.2 2.3-6.4 2.2 11.2 2-4.8 2.1 11.9 2.1-6 2 10.7 2.1-5.9 2.2 12.7 2.2-6.8 2.2 12.2 2.2-5.7 2 10.8 2.1-7 2.1 11.4 2-5.8 2.1 9.6 2.2-5 2.2 11.4 2.2-6.2 2.4 11.2 2-6.9 2.2 10.2 2.2-5.9 2.2 10.2 2.4-6.1 2.4 11.2 2.2-6.5 2.3 10.8 2.3-6.2 2.4 9.7 2.3-6.6 2.2 9.5 2.3-6.4 2.2 9.7 2.6-7 2.7 9.8 2.3-6.8 2.3 7.9 2.5-7.9 2.4 8.9 2.5-7.6 2.5 9.2 2.3-7.4 2.6 8.9 2.5-6.7 2.5 8.9 2.3-6.7 2.3 8.4 2.4-8.5 2.6 8.4 2.4-9.2 2.2 8.1 2.6-8.9 2.2 7.5 2.5-9.3 2.7 7.7 2.3-9.1 2.4 9.1 2.3-10.2 2.4 7.9 2.5-10.5 2.2 8 2.2-9.4 2.3 6.5 2.4-9 2.3 6.4 2.3-10.3 2.3 7.7 2.3-9.3 2.2 6.6 2.4-10.5 2.4 7.3 2.3-10.2 2.3 6.3 2.3-9.3 2.3 5.2 2.3-8.9 2.3 5.3 2.3-10.7 2.3 7 2.4-9.8 2.4 5.3 2.4-9.9 2.3 5.4 2.1-10.6 2.1 7 2-11 2.1 6.5 2.1-11 2.1 6.7 2-12.2 2.1 5.3 2.1-10.7 2.1 6 2.1-10.4 2.1 4.6 2.2-11.4 2.1 5.4 2.2-11.2 2.1 5.8 2.1-11.7 2.1 5.5 2-10.1 2.2 5.2 2.1-12.8 2 5.2 2.2-12.1 2 7.2 2-11.8 2.2 3.4 2.1-11.1 2 4.7 2-11.4 2.1 5.6 1.9-12 2.1 5.9 2.2-12.7 2 6.5 2-12.7 2 5.8 2.1-11.8 2.2 4 2.1-10.4 2.1 5 2.1-12.1 2.1 4.5 2.2-11.3 2 5.4 2.1-11.8 2 6.5 2-12 2.1 5.3 2-11.3 2.2 6.6 2.3-13 2.3 6.1 2.3-11.8 2.2 8 2.3-13 2.2 7 2.1-9.4 2.2 7.6 2.2-11.4 2.6 7.5 2.6-8 2.4 9.4 2.3-9.4 2.4 10.7 2.3-7.1 2.3 9.8 2.1-6 2.3 10 2.3-5.9 2.3 12.7 2.2-7.1 2.3 12.4 2.1-5.4 2.1 11.6 2.2-5.9 2.1 13.1 2.1-4.9 2.1 13 2-7 2 14 2-7.3 2 13.3 1.9-6 2 13.4 1.9-7 1.9 16.1 2-6.7 1.9 14.5 1.9-3.6 2 14.4 1.9-5.5 1.9 14 1.8-3.8 1.8 12.4 1.9-3.7 1.8 15.6 1.8-6.9 1.8 15.7 1.9-6.2 1.9 14.6 2-3.9 1.9 14 1.9-4.5 2 13.7 1.9-5.6 2 14.8 1.9-4.4 1.9 12.6 2-4 1.9 13.6 2-4.6 1.9 14.2 1.8-5.4 1.9 14.7 1.8-6.5 1.8 14.1 1.9-5 1.9 12.6 2-6.2 1.9 14.3 2.1-4.3 1.9 13 1.9-5.8 1.9 14.2 2.1-5.7 2 13.9 2.1-5.5 2 12.3 2-7.1 2.2 13.7 2.2-6.8 2.1 11.2 2.3-8.5 2.1 12.8 2.2-6.9 2.1 10.8 2.2-10.2 2.6 9.7 2.3-9.7 2.4 7.3 2.3-9.3 2.3 6.3 2.3-12.8 2.3 8.3 2.3-12.8 2.3 6.7 2.3-11.2 2.4 5.7 2.3-13 2.2 7.5 2.2-13 2.2 5.9 2.2-11.8 2.1 6.9 2.3-11.1 2.1 6.3 2.6-10.8 2.2 6.1 2.5-7.3 2.4 9.4 2.2-5.5 2 12.6 1.8-3.2 1.6 12.1 1.5 2.3 1.3 12.6 1.3 6.4 1.3 12.7 1.4 5.3 1.5 10.7 1.4 4.7 1.3 11.5 1.3 6.4 1.2 12.5 1.3 5.7 1.3 12.2 1.1 7.2 .9 15.5 1.1 8.1 1.5-4.5 .9 4.3 .2 18.9" stroke="#f28c2e" stroke-width="1.3"/>
<path d="M104.0 783.0l2 8.2 2.1-2.9 2 12.1 2.1-3 2 11.2 2.3-4.1 2.5 9.7 2.2-3.9 2.1 12 2.1-2.9 2.2 10.5 2.6-5.9 2.5 9.5 2.6-5.8 2.6 10.6 2.4-5.4 2.4 8.6 2.4-5.9 2.3 10.5 2.4-5.7 2.4 8 2.5-6.7 2.6 7.7 2.6-6.8 3 8.2 2.9-7.3 2.7 6.2 2.6-6.6 2.9 5.9 2.2-9.4 2 2.5 1.8-16.3 1.8 .5 1.7-15 1.8 .1 1.8-11.2 2.2 2.7 2-12.3 2.1 3.5 2.2-13.4 2.2 3.9 2-11.9 2 2.5 2.1-13.5 2 2.1 1.9-11.8 1.9 1.1 1.9-11.5 1.9 1.2 1.9-12.6 2.1 3.2 2.3-12.3 2.2 1.9 2.2-12.3 2.2 4.7 2.3-11 2.2 4.2 2.3-9 2.4 5.5 2.9-8.1 2.7 7.4 2.6-6.9 2.3 9.3 2.3-4.7 2.4 10.4 2.4-5.6 2.4 6.7 2.3-9.6 2.2 2.9 2.3-10.5 2.4 4.4 2.5-10.8 2.2 3.4 2.3-9.3 2.3 3.3 2.3-9.6 2.3 4.1 2.5-10.4 2.5 4.2 2.5-9.7 2.5 6 2.5-10.3 2.7 5.6 2.6-9.5 2.6 5.2 2.7-8.6 2.5 4.9 2.5-7.7 2.4 5.2 2.7-7.5 2.8 7.2 2.5-8.4 2.6 8.5 2.6-5.7 2.9 7.1 2.5-5.7 2.5 8.8 2.5-6.3 2.4 8.3 2.5-7.2 2.5 8.4 2.5-5.7 2.4 8.4 2.8-6.3 2.6 8.6 2.4-6.1 2.4 7.9 2.3-4.5 2.4 8.2 2.4-5.1 2.4 10.3 2.4-5.9 2.4 9.9 2.5-5.4 2.5 8.7 2.5-4.5 2.6 7.8 2.3-5.3 2.5 8.3 2.7-7.2 2.8 7 2.5-8.9 2.5 5.8 2.7-8 2.7 7.7 2.6-7.5 2.5 5.6 2.7-6 2.8 6.7 2.6-6.4 2.8 7 3-7.9 2.8 7.2 2.9-7.5 2.5 6.6 2.6-7.9 2.7 6.9 2.6-7.7 2.6 7.5 2.5-9.1 2.8 8 2.8-7.9 2.6 6 2.5-6.4 2.9 5.5 2.9-7.5 2.5 7.7 2.5-7.1 2.7 8.1 2.7-6 2.7 8.1 2.8-5.2 2.4 8.3 2.5-6.8 2.5 9.2 2.5-6.7 2.8 7.2 2.5-5.3 2.5 6.6 2.5-6.8 2.6 8.9 2.6-6.6 2.5 7.5 2.5-6.9 2.9 8.5 2.9-6.5 2.8 5.9 2.9-5.9 2.7 6.9 2.7-8.5 2.5 6.8 2.9-6.6 2.6 6.2 2.6-7.1 2.8 8.1 2.6-6.7 2.6 7.7 2.4-4.8 2.5 9.6 2.5-5.6 2.3 10.5 2.2-5 2.2 9.5 2.4-4.5 2.3 11 2.3-4.7 2.1 9.5 2.2-4 2.1 12.2 1.9-2.2 1.8 13.6 2.1-2.1 2.4 10.1 2.2-4.2 2.2 11.4 2.2-2.8 2.2 11.6 2.2-2.3 2.2 10.7 2.2-1.7 1.9 12.6 2.2-3.4 1.9 12.3 2.1-2.2 2.1 13.1 2.2-3.6 2.3 11 2.2-2.7 2.2 10.8 2.1-3.3 2 11.9 2-.5 1.9 10.9 2.3-2.5 2.2 12.3 2.4-5.2 2.7 9.4 2.6-6.9 2.7 7.5 2.5-6.1 2.3 9.3 2.9-6 2.4 6 2.6-8.9 2.6 5.2 2.5-8.6 2.5 6 2.7-9.3 2.7 4.2 2.7-8.5 2.6 4.1 2.4-9.2 2.6 5.8 2.4-10 2.5 5.8 2.4-10.5 2.5 6.1 2.4-9.7 2.4 4.1 2.6-9.1 2.3 4.4 2.4-9.1 2.3 4.4 2.3-9.5 2.2 4.7 2.1-13 2.1 2.7 2.1-11.4 2 .8 1.9-13.4 1.9 1.9 2-12.4 1.9 1.4 2-11.9 1.9 1.1 1.8-12.3 1.9 1.4 1.9-12.8 2 2.4 2.1-12.4 2.1 2.2 2-12.1 2.1 3.4 2.1-11.1 2 1.5 2.1-11.8 2.1 2.5 2-12.6 2.1 1.7 2-12.9 2 2.5 2-13.2 2.1 3.3 2.1-13.4 2 3.6 2.2-11.1 2.2 2.6 2.4-10.8 2.6 5.6 2.6-9.7 2.6 6.1 2.5-4.9 2.4 9.2 2.3-3.9 2.1 10.1 2.1-3.7 2.1 11.5 2.1-3.4 2.1 12.6 2-3.3 2.1 13.9 1.9-1.3 1.8 12.2 1.8-.9 1.8 14.4 1.8-.4 1.8 14.1 1.8-1.4 1.8 14.1 1.8-1.2 1.8 13.2 1.8-1 1.9 13.3 1.9-.5 1.9 14.1 1.8-1.2 1.8 11.5 1.9-1.3 2 13 2-2.3 2 12.3 2-.9 1.9 12.8 1.9-.9 1.8 15.7 1.7-3.7 1.7 19.1 1.6-2.2 1.7 17.2 1.6-2 1.7 18.5 1.7-5.8 1.7 20.8 1.9-6.3 1.8 18.6 1.9-5.7 2.3 14.9 2.4-5.1 2.2 12.6 2.3-10.2 2.2 16.4 2.2-8.8 2.3 14.2 2.3-8.6 2.2 15 2.3-7.1 2.3 15.9 2.2-7 1.2 7.4" stroke="#ec3224" stroke-width="1.3"/>
<path d="M104.0 728.0l1.4 5.1 2.8-4.5 2.8 11.8 2.7-4 3 10.8 2.8-5.1 2.7 9.7 2.8-4.4 2.8 10.4 2.8-3.7 3 9.4 2.9-4.5 3.1 9.4 3.1-4.2 3.1 10.8 3-5.2 3 10.4 3.1-5.2 3 10.8 3.1-4.4 3.1 9.2 3-4.1 3.1 9.1 3-4.8 3.1 10.7 2.8-4.8 3.2 8.8 2.8-5.5 2.9 8.2 2.9-4.5 3.3 8.2 3.1-4.8 2.9 7.9 3.1-6 3.1 7.7 3.4-6.2 3.1 7.3 3-6.1 3.3 6.5 3.2-8.5 3.3 5 3.3-9 3.1 5.6 3.1-8.6 3 5.5 3-9.2 2.9 4.1 2.7-9.6 2.8 4.3 2.8-9.1 2.7 3.1 2.8-10.5 2.9 5.2 2.9-10.1 2.9 4.2 2.9-9.9 2.7 3.5 2.6-10.8 2.7 2.3 2.6-9.7 2.7 2.1 2.6-10.4 2.6 4.6 2.7-12 2.6 3.5 2.6-9.9 2.6 3.3 2.7-12.1 2.6 2 2.7-11 2.7 3.3 2.6-11.4 2.7 3.4 2.7-10.5 2.6 3.2 2.8-10.7 2.8 4.1 2.9-10.7 2.7 3.7 2.7-11.1 2.7 3.4 2.4-12 2.6 3.8 2.8-10.8 2.9 5 2.9-10.5 2.9 5.2 2.9-8.9 3 4 2.9-8.9 2.9 5 2.9-8.1 3 5.3 3-9.1 3 5.7 3-7 3 6 3-7.7 3 7.3 3-7.3 3 9 3-5.6 3 7.4 3.1-6.5 3.2 10 3.2-5.1 2.8 8.3 2.8-4.3 2.8 8.4 3-3.9 2.7 10.5 2.8-4.2 2.7 9.5 2.7-5.4 2.9 11.1 3-4.6 2.7 8.5 2.8-4.3 2.7 10.6 2.7-3.1 2.8 10.5 2.7-4.1 2.8 10.5 2.9-4.6 2.8 10.3 2.7-3.9 2.7 9.8 2.9-4.3 2.8 10.4 2.8-3.3 2.7 10.4 2.8-4.1 2.7 10 2.8-3.5 2.6 10 2.6-2.4 2.6 10.9 2.9-4.8 2.8 11.3 2.9-3.4 2.6 9.6 2.7-3.1 2.7 10.1 2.8-3.9 2.6 9.8 2.9-3.5 3 10.6 2.9-5.9 2.7 9.7 3.1-3.8 3.2 7.8 2.8-3.8 2.9 7.7 3.1-4.8 3.2 9.2 3.2-4.9 3.2 8.7 3.3-6.9 3.2 8.9 3.1-7.7 3.3 8 3.2-7.4 3.2 8.8 3.4-8.9 3 6.9 3.5-7.4 3.2 7.7 2.9-8.6 3.2 5.8 3.2-9.9 3.1 5.2 3-8.7 2.8 5.8 2.8-10.5 2.8 4.5 2.8-9.5 2.8 5 2.8-7.9 2.8 5 2.9-10.2 2.8 4.4 2.8-8.7 2.9 5 2.9-9.4 3.1 5 2.5-12.9 3 3.7 2.8-9.2 2.7 3.9 2.8-9.7 3 5.3 3-10.1 3.2 5.6 3.1-9.8 3 4.5 2.9-8.7 3.1 4.4 3-8.5 3.1 5.4 3-10.1 3.1 5.6 3-7.8 3.1 5.5 3-8.5 3.2 4.5 3-7.8 3 5.9 3-9 2.9 6.4 2.9-8 3.4 7 3.2-7.1 3.3 5.6 3.3-7.8 3.2 7.3 3.1-6.3 3 6.5 3.4-5.8 3.3 8.2 3-7.4 3 8.2 3.3-5.7 3.3 8.9 3.3-7.1 3.3 9.3 3-4.9 2.9 8.8 2.9-6.1 2.9 8.7 3.2-4.5 2.9 7.3 2.9-3.9 3 8.5 3.2-4.9 2.8 9.1 2.8-5.3 3.1 8.9 3-4.7 3.1 8.1 3.1-5.4 3.1 10 2.9-3.8 3 8.6 2.8-5.3 3.3 9.1 3.3-5.9 3.3 8 3-4.8 2.7 9.9 2.7-4.7 2.7 9.6 2.8-2 2.5 10.4 2.4-1.2 2.4 13.9 2.2 .7 2.3 14.9 2.1 1.4 1.9 15.5 2 2 2 17.5 2 0 2 17.5 2.1 .8 2.1 15.9 2 1.4 2.1 14.6 2.2 .7 2.3 16.5 2.4-3 2.6 13.1 2.8-4.7 3 10.2 2.9-5.5 3.3 10 3.3-7 2.9 11.5 3-4.1 2.9 9.6 2.9-11.2 2.6 4.7 2.9-10 2.5 10.7 2.3-1.3 2.3 16.2 2.6-4.3 2.1-.5 1.5-21.1 1.6-3.1 1.8-19.5 1.6 19.1 1.5 6.7 2.9 10 3.1-12.2 2.9 5.9 3.2-6.6 2.9 12.3 2.9-10.5 2.7 4.7 1.9-7.7" stroke="#1414f0" stroke-width="1.3"/>
<path d="M104.0 918.0l.2-2.3 .1-1 .2-1.2 .2-1.6 .1-2.5 .2-2.2 .2-2 .1-2.1 .2-2.5 .1-2.3 .1-2.2 .1 0 .2-2.8 .1-1.2 .1-3.7 .2-.8 .1-2.2 .1-1.5 .2-2.7 .1-1.2 .1-1.9 .2-1.8 .1-4.4 .1-1.4 .2-.1 .1-1.3 .2-3.1 .3-1.8 .3-.1 .3-1.8 .3-1.2 .3-.4 .2-2 .3-2.4 .3-.5 .3-.2 .3-2.2 .3-.3 .3-1.9 .3-.4 .3-1.9 .3-.1 .3-2.1 .3-1.7 .2 0 .3-1.3 .3-1.3 .3-2.3 .3-.5 .3-.1 .3-1.7 .3-2.2 .3 .6 .3-1.8 .3-1.5 .3-1.4 .3-1 .3-.7 .3-3.1 .3 .2 .3-1.8 .3 0 .2-1.4 .3-1.2 .3-.9 .3-.3 .3-1 .3-3.4 .3 1 .3-2.4 .3-2.4 .2 .9 .3-2.8 .2-1.3 .3-.3 .2-2.2 .3-1.1 .2-.6 .2-2 .3-3.4 .2 .1 .3-2.1 .2-1.3 .3-1.4 .2-.4 .2-1.4 .3-1.7 .2-.4 .3-2.1 .2-1.6 .2-.5 .3-1.7 .2-1.6 .3-.8 .3-1.6 .2-1.8 .3-1.5 .2-1.7 .3-1.7 .2 .9 .3-2.8 .3-3.2 .2 .3 .3-2 .2-1.5 .3-1 .2-.9 .3-.8 .3-2.3 .2-1.3 .3-.9 .2-3.4 .3-.9 .2-1.2 .3 .3 .3-2.3 .2-1.9 .3-1.3 .2-1.6 .3-.3 .2-1.6 .3-1 .3-1.3 .2-1.3 .3-1.6 .2-2.1 .3-.7 .3-1.7 .2-1.3 .3-.4 .2-2.9 .3-.4 .2-1.5 .3-1.6 .3-1.8 .2-1 .3-1.6 .2-1.9 .3-1.4 .2-1.8 .3-.5 .3 .7 .2-3.9 .3 .1 .2-1.8 .3-.8 .2-1.5 .3-2 .3-1.1 .2-1.7 .3-1.4 .2-1.5 .3-.8 .2-3 .3 0 .3-1.1 .3-1.7 .3-.6 .3 .1 .3-2.5 .3 0 .3-1.3 .3-2.3 .3-1.2 .2-.9 .3-1.3 .3 .7 .3-2.7 .3-1.3 .3-1.7 .3-1.1 .3-1.2 .3-1 .3-.8 .2-.8 .3-1.9 .3-2 .3 1 .3-2.1 .3-1.2 .3-1.6 .4 .4 .4-.5 .3-.2 .4-.9 .4-.2 .3-.7 .4 1.3 .4-3.7 .3 1.1 .4-2.3 .4 1.3 .3-.8 .4-1 .3 1 .4-1.7 .4-1.1 .3 .5 .4-.7 .4-1.5 .3 1.9 .4-1.8 .3-.8 .3-1.9 .3 1.6 .4-1.6 .3-.4 .3-.7 .3-2 .3-.3 .3 .3 .4-1.4 .3 .4 .3-2.1 .3 .4 .3-.6 .3-2.2 .3-.5 .4-.2 .3-1.2 .3-.5 .3-.7 .3-1.6 .3-.5 .3 0 .4-1.2 .3-1.2 .2-.7 .3-.4 .2-.8 .3-1.1 .3-1 .2 .1 .3-2.4 .3-1.1 .2 0 .3-1.4 .3-1.3 .2-1.3 .3-.8 .2-.5 .3-.9 .3-2 .2-1.9 .3 1.6 .3-2.3 .2-.4 .3-1.7 .3-1.8 .2-.5 .3-1 .2-.4 .3-.6 .3-.9 .2-1.1 .3 .1 .3-1.9 .2-.3 .3-1.4 .3-2.1 .2-.9 .3 .5 .3-1.8 .2 0 .3-2.2 .3-1.7 .2-.3 .3-.6 .3-1.6 .3 .5 .2-1.5 .3-1.1 .3-1.6 .2 1.1 .3-2.1 .3-2 .2 .7 .3-2.3 .3 0 .2-2.2 .3 0 .3 2.3 .2-.3 .3 .9 .3 2.2 .3 .3 .2-.2 .3 2.9 .3 .2 .2 1.5 .3-.1 .3 1.7 .2 1.1 .3-.6 .3 1.9 .2 1.3 .3 .2 .3 2.3 .2 .6 .3 .1 .3 1.2 .2 1 .3 1.6 .3 .3 .2 1.5 .3 .8 .3 1.1 .3 2.5 .2 1.5 .3 .5 .3 .6 .3 .8 .2 1.5 .3 .2 .3 3.2 .3 .2 .2 .4 .3 1.4 .3 2 .3 1.1 .2 .3 .3 1.8 .3-.7 .3 2.7 .2 2.4 .3 .5 .3 .1 .2 2.5 .3 .4 .3 .8 .3 1.9 .2 .6 .3 3.3 .3 .1 .3 .6 .3 1.3 .3 .3 .3 .3 .3 .4 .3 2.3 .3 1.4 .3 .4 .3 .8 .3 .1 .2 1.1 .3 3.2 .3-1.2 .3 .6 .3 2.3 .3 1.9 .3-.4 .3 1.2 .3 2.2 .3-.9 .3 1.6 .3 1.7 .3 1.4 .3-.3 .3 .9 .3 1.2 .2 1.1 .3-.3 .3 1.7 .3 1.1 .3 1.5 .3-.1 .3 2.3 .3 .6 .3 .8 .3 0 .4 .5 .3 2 .4 1 .3 .6 .4 1.4 .3 .5 .3 1.3 .4 1 .3 2.8 .4-1.3 .3 2 .3 1.1 .4 .1 .3 .7 .4 1.7 .3 1.2 .4 1.3 .3 .8 .3-.3 .4 1 .3 1 .4 1.8 .3 .6 .4 1.6 .3 .4 .3 .2 .4-.1 .3 1.7 .4 2.1 .3 .8 .4 .3 .4 .9 .4 0 .4 .2 .4 1 .4 1.2 .4 1.2 .4 1.2 .4 .4 .4 .9 .4-1.2 .4 1.7 .4 .5 .4 1.3 .4 .6 .4 .9 .4 .9 .4-.6 .4 .8 .4 1.2 .4 .6 .4 .8 .4 1 .4 .8 .4 .4 .4-.5 .3 .2 .4 2.2 .3 1.3 .4 .1 .3 1.8 .4 1.4 .3 1.5 .4 .7 .3-.5 .4 2.3 .3 .9 .4 1.4 .3-.4 .4 .9 .3 1.7 .4 .6 .3 .3 .4 3.2 .3-1.1 .4 .9 .3 1.1 .4 .4 .3 1.3 .2 2 .3 .9 .3 .4 .3 2.1 .2 1.9 .3 1.2 .3-.1 .3 1.1 .2 1.8 .3 .1 .3 1.4 .3 2.6 .2 .6 .3 1.2 .3 .6 .3 .8 .2 1.4 .3 2.3 .3 .6 .2 1.3 .3 1.4 .2 1.3 .3 2.2 .2 .6 .3 .9 .2 1.5 .3 2.4 .2 1.2 .2 3.1 .2-1 .2 3.3 .1-.3 .2 3.2 .2 .8 .2 2 .1 1.9 .2 .9 .2 2.2 .2 .4 .1 3.1 .2 .7 .2 1.8 .1 1.9 .2 .8 .2 2.3 .2 1.2 .1 2.3 .2 1.1 .2 .5 .2 1.4 .1 1.7 .2 2.4 .2 2.5 .1 1.2 .2 1 .2 2.2 .2 1.6 .1 1.5 .3-.1 .3-.7 .2-1.5 .3-.8 .3-2.2 .2-.5 .3-.5 .3-1.3 .2-1.8 .3 .5 .2-1.4 .3 .2 .3-2.3 .2-.1 .3-2.5 .3 .9 .2-1.6 .3-1.4 .3-1.1 .2-1.7 .3 0 .2-1 .3-.2 .3-1.9 .2-1.5 .3 .1 .3-1.1 .2-.7 .3-.3 .2-2.2 .3-.7 .3-1.2 .3-1.3 .3-1.4 .3-.2 .3-2 .3-1.3 .3-2 .3 .5 .3-2.1 .3-.3 .3-2.3 .3-1.1 .3 0 .3-1.9 .3-.6 .3-2.2 .3-1.4 .4 2.5 .4 .8 .5-.3 .4 .2 .4 1.4 .4-.3 .4 1.6 .4 .9 .4 .8 .5 .1 .4 2.3 .4 .6 .4 .2 .4-.3 .4 .5 .5 1.4 .4 .8 .4-.3 .4 2.5 .4-1.9 .6 .7 .4 1 .6-1.9 .4 .6 .6 .3 .4 .1 .6 .2 .4 .3 .6-2.1 .4 1.1 .6 .1 .4-.2 .6-1.1 .4 2.6 .4-1.1 .4-.7 .4-2.2 .5 1.4 .4-2 .4 1 .4-2.1 .4-.8 .4 .4 .5-.8 .4-2 .4-.3 .4-1.5 .4 .5 .4-.5 .4 .4 .5-2.6 .4-.3 .4-.7 .3 .6 .4-.1 .3 1.9 .3-1 .3 2.1 .3 .4 .4 1.2 .3-1.3 .3 2.2 .3 1.6 .3 .9 .4-1.7 .3 2.6 .3 1.7 .3 1.4 .3-1 .3 1.5 .1 1.3 .1 1.7 .2 3.5 .1-.4 .1 3.2 .2 0 .1 2.6 .1 2.6 .1 .6 .2 3.7 .1 1.6 .1 1.6 .2 .6 .1 3.3 .1 1.7 .2 1 .1 1.5 .1 1.9 .1 2.2 .2 1.2 .2 .8 .2 2.5 .2 1.3 .3 1.5 .2 1.1 .2-.3 .2 3.4 .3-.4 .2 .6 .2 2.3 .3 .3 .2 1.5 .2 .7 .2 .8 .3 1.5 .2 2.4 .2 .7 .2 2 .3 .9 .2 .9 .2 1.5 .3-.1 .2 2.4 .2 .5 .2 2.1 .3-.2 .2 1.8 .2 .8 .2 1.7 .3-2.1 .3-.2 .3-1.7 .3-.7 .3-2 .3-.8 .3-1 .3-.7 .3-2 .3-.2 .3-2.3 .2-1 .3-1.1 .3-.1 .3-1.9 .3-2 .3-.7 .2 .2 .2-2.2 .2-1.4 .2-1.8 .2-3.3 .1-1.2 .2-.9 .2-3 .2-1.9 .1-2.7 .2-1.6 .2-.5 .2-2.6 .2-.8 .1-1.9 .2-1.2 .2-2.5 .2-2 .2-.5 .1-3.2 .2-1.8 .2-2.3 .2-.5 .2-2.7 .1-1.5 .2-2.6 .2-.8 .2-2.2 .1-1.7 .2-2 .2-1.1 .2-3.2 .2-.9 .1-2.2 .2-.8 .2-2.7 .2-.9 .2-1.9 .2-2.7 .2-1.4 .2 .1 .3-2.5 .2-1.2 .2-2.8 .2 0 .2-2.5 .2-2.4 .3-1.1 .2-.6 .4-1.9 .5 1.9 .4 .7 .4-1.2 .4 1.8 .5 .1 .4 .6 .4 .3 .4-1.2 .5 3.4 .4-1.7 .4 1.8 .4 0 .5 .2 .4 1.7 .4-.2 .4 .4 .5 .1 .4 .1 .4 0 .5-2.4 .4 .9 .4-.3 .4-1 .5 .7 .4-1.9 .4 .8 .5-.5 .4-1.1 .4-.9 .5-1.3 .4 1.5 .4-.4 .5-.9 .4-1.2 .4 .4 .5-.1 .4-.7 .4-1.1 .4-.4 .5-.6 .4 .4 .4-1.1 .2-1 .3-1.6 .2-.3 .2-1.9 .3-1.5 .2-1 .2-.1 .3-1.1 .2-3.5 .3-.2 .2-.8 .2-1 .3-1.3 .2-.9 .2-1.4 .3-2 .2-.2 .3-1.3 .2-.8 .2-.7 .3-1.8 .2-1.3 .2-1.6 .3-1.2 .2-.6 .3-2 .2 .4 .2-2.2 .3-.4 .2-1.5 .2-2.3 .3-.4 .2-1.5 .3-.7 .2-1.6 .2-1.1 .3-1.3 .2-.8 .2-1.6 .3-.6 .3-.5 .4-.1 .3-3.5 .3 0 .3-.3 .3-1.9 .3-1.6 .4-1.2 .3-.9 .3 1.7 .3-4 .3 .7 .3-.7 .4 .1 .3-3 .3 .1 .3-2.1 .3-.3 .4 .1 .3-2 .3-.7 .3 .2 .3-1.5 .3-2.4 .4-.3 .3 .6 .3-2.8 .3-.7 .3 .1 .3-2 .4-.4 .3-1.3 .3-1.2 .3 .5 .3-3.4 .3 .6 .4-1.7 .3-.4 .3-.1 .3-2.1 .3-.4 .3-2 .3 0 .3-.7 .3-1 .3-.7 .3-1.3 .3-1 .3-.9 .3-1.7 .3 .4 .3-1.1 .3-1.5 .3-1.2 .3-2.1 .3-.4 .3-.5 .3-1.9 .3-.2 .3-1.2 .3-.2 .3-1.5 .3-.9 .3-.1 .3-3.3 .3 .3 .3-1.4 .3 .8 .3-1.7 .3-2.2 .3-1.4 .3 .5 .3-.7 .3-.4 .3-1.4 .3-2.1 .3 0 .3-.7 .3-2.5 .3-.3 .3-.1 .3-1.3 .3-.5 .3-1.2 .3-1.2 .3-3.2 .3 1.1 .3-2 .3-1.1 .3-1 .2-.9 .3-2 .3-1.3 .3-2.2 .3 1.6 .3-3.7 .3 .1 .3-1.3 .3-.7 .3-.8 .3-2.7 .3 1.3 .3-3.6 .3-1.2 .3 .6 .2 1.5 .3 .9 .2 1.3 .3 .4 .3 2 .2 1.2 .3 .9 .3 .9 .2 .2 .3 1.6 .2 1.1 .3 .6 .3 .8 .2 1.1 .3 .2 .3 1.5 .2 .1 .3 1.3 .3 1.7 .2-.2 .3 2.7 .2 .2 .3 1.5 .3 2 .2 .8 .3 0 .3 .6 .2-.2 .3 1.1 .3 2.5 .3-.3 .3 .6 .3 2.2 .3 1.1 .2 .8 .3-1.1 .3 2.1 .3 1.9 .3 .2 .3 .4 .2 1.8 .3 1 .3 .8 .3 2 .3-.4 .3 1.1 .3 1.8 .2 .1 .3 1 .3 2.1 .3 .6 .3-.3 .3 2.5 .2-.1 .3 1.8 .3-1 .3 1.1 .3 .9 .3 2.1 .3 1.4 .2 1.2 .3 .7 .3 2.7 .3-2 .3 1.7 .3 1.4 .2 1.3 .3-.1 .3 1.1 .3 1.6 .3 1.2 .3 1.7 .3-1.1 .3 2.1 .3 .5 .3 1.8 .3-.1 .3 .5 .4 1.5 .3 1.3 .3 1.8 .3 1.5 .3-.7 .3 .9 .3 .8 .4 .8 .3 .7 .3 2 .3 .9 .3 .1 .3 .5 .4 3.1 .3-1.2 .3 2 .3 1.7 .3 .7 .3 .7 .4 .8 .3 1.8 .3 .8 .3 1.5 .3 .5 .3 1.3 .3-.8 .4 1.2 .3 1.1 .3 1.5 .3 1.8 .3 .1 .3 1.4 .4 1.4 .3-1 .3 1.8 .3 1.6 .4-.4 .3 1.9 .4 .8 .3 1.1 .4 .6 .4 1.2 .3 1 .4 1.3 .3-.1 .4 .4 .4 1.2 .3 1.5 .4 2.1 .3 .3 .4 1.4 .3 1.6 .4-.5 .4 .6 .3 1.6 .4 1.6 .3-.6 .4 1.5 .4 .8 .3 .9 .4 1.2 .3 1.5 .4-.4 .4 1.3 .3 1 .4 2.4 .3 .3 .4 .6 .4 1.3 .3 .1 .4 1.9 .3 1.1 .3 .2 .3 1.1 .2-.2 .3 .5 .3 2.9 .2 .4 .3 1.3 .2-.6 .3 3.3 .3-1.2 .2 2.1 .3 .4 .2 1.4 .3 1.1 .3 1.1 .2 .9 .3 2.2 .2-1 .3 1.7 .3 1.1 .2 .7 .3 2.1 .2-.9 .4 .3 .4 .8 .4 1.5 .3 1.1 .4 .5 .4-.2 .3 .5 .4 1.6 .4-1.7 .3 .9 .4 2.5 .4-.6 .3 1 .4 .4 .3-.7 .4 .6 .4 .1 .3 .9 .4 0 .4 .9 .3 .5 .4 1.4 .4-.9 .4 .5 .4-.7 .3 .9 .4-1.2 .4-.1 .4 .2 .4-.1 .4 .4 .3-.2 .4-1.1 .4-.3 .4 0 .4 .1 .4 1.1 .3-1.7 .4 1.2 .4-.1 .4-2.2 .1 2.6 .1 .3 .1 2.5 .1 5.2 .1 1.1 .1 3.2 0-.3 .1 5.1 .1 .7 .1 2.4 .1 3.2 0 1.9 .1 2.5 .1-2.3 .1 2 .1 4.9 0 3.4 .1 3.6 .1 1.4 .1 1.1 0 3.4 .1 1.2 .1 .5 .1 3.8 .1 0 0 .6 .1 4 .1 6.6 .1-1 .1 6.4 0 1.6 .1 1.2 .1-3.1 .1 2.1 0 4.5 .1 1.8 .1 6.3 .1-3.7 .1 7.1 .2-1.3 .1-1 .2 6.7 .1 4.7 .2-.9 .1-1.5 .2 1.3 .1 1 .2 6.1 .1-1.2 .2 1.8 .1 6.2 .2-2.1 .1-.7 .2 6.7 .1 4.3 .2-5.1 .1 6.9 .2-.7 .2 1.2 .2 7.3 .2 3.1 .1-5.1 .2 6.7 .2 1.6 .2 .9 .1-2.8 .2 6.9 .2-1.1 .2-.4 .2 6.8 .2-6 .2 6.1 .2-2 .2 9.2 .2 .6 .2 1.8 .2-3.6 .2 10.6 .2-8.5 .2 4.6 .2 1.9 .2-1.7 .2-.5 .2 1 .3 1.4 .2-9.8 .3 1.4 .2 4.7 .3 2.1 .2-6.9 .3-6.7 .2 2.4 .3 2.3 .2-4.5 .3 1.1 .2-7.2 .3 2 .2-4.1 .3 1.5 .2 .4 .3-.1 .2-3.9 .3-7.7 .2 5.5 .3 .7 .2-1.3 .3-1.1 .2 5.6 .2 2.4 .3 1.5 .2 2.9 .3-.8 .2 4.9 .2-.8 .3-1.9 .2 5.1 .2 .6 .3-2.2 .2-.1 .3 2.6 .2-.5 .2 1.8 .3 1.8 .2 6.2 .3-5.1 .2 1.1 .4 .6 .4 3.6 .4-.7 .4 4.7 .5-3 .4-3.1 .4 8.2 .4-1.3 .4-1.9 .4-2.9 .4 7.1 .4-.5 .4 4.4 .4-5 .5 9.6 .4-9 .4 6 .4-3.2 .4 3.4 .3-7.2 .2 6.2 .3-4.7 .2 1.2 .3-3.6 .3-2.3 .2 1.5 .3-.5 .2 1.6 .3-8 .3-.6 .2 3.2 .3 .1 .2-5.7 .3-1 .3-8 .2 2.9 .3-.8 .2-1.4 .3 1.7 .4 2 .3-5.6 .4-1 .4 1.9 .3-2.7 .4 2.9 .4 .7 .3-1.1 .4-7.8 .4 9.8 .3-3.2 .4-3.1 .4 1.5 .3-7.6 .4 3.7 .4 3 .3-2.6 .4 5.4 .3-4.6 .4 1.7 .4-5.2 .3 1.6 .2 1.1 .2-9.7 .2 1.3 .2-.8 .2 .9 .2-2.9 .2-.6 .3-2.5 .2-3.7 .2 5.8 .2-5.4 .2-2.6 .2-2.5 .2 1.7 .2 3.7 .3-9.8 .2-1.3 .2 4.1 .2-7.1 .2-2.4 .2 8.2 .2-12.5 .2 4.1 .3 1.1 .2-7.3 .2 13.1 .2-1.1 .2-1.9 .2 1.3 .2 3.8 .3-3.2 .2 11.7 .2-5.8 .2 1 .2-.9 .2 8.1 .2-3.5 .2-.2 .3 1.5 .2 12.3 .2-10.4 .2 8.1 .2-7.7 .2 13.3 .2-2.8 .2-.7 .3 2.8 .2 .1 .3 2.8 .3 1.2 .4-1.7 .4 3.9 .3-.5 .4-6.4 .4 8.1 .3 4.5 .4-4.1 .3 5.5 .4-10.8 .4 3.6 .3 6.9 .4 3.7 .4-4.1 .3-2.7 .4 5.2 .3-3.2 .4-1.6 .4 3.3 .3 2.1 .4 4.3 .4-9.3 .3 4.4 .4-1 .4-7.9 .3 7 .4 .1 .4 2 .3 .1 .4-9 .4 3.6 .3 5 .4 .1 .4-11.9 .3 10.7 .4-2.6 .3 1.2 .4-5.5 .4 2.8 .3-6.4 .4 2.4 .4 1.5 .4 4.2 .5-6.3 .5-4.6 .5 3.6 .4 3.3 .5-4.6 .5-4 .5 6.9 .5 .5 .4-2.3 .5-8.2 .5 7.4 .5-1.2 .5 2.6 .4-.5 .5-7.3 .5 4.3 .5 .5 .5-3.6 .4-1.7 .5-2.2 .5-1.9 .2 7.3 .3-4 .2 4.1 .2 3 .3 1.8 .2 2.2 .2-4.6 .3 1.9 .2 .9 .2 6.9 .3 .5 .2-4 .2 3.7 .3 3.9 .2-2.2 .3-2.6 .2 7.9 .2 .5 .3-.6 .2-.8 .2 7.8 .3-1.3 .3-4.8 .3 5.3 .4-3 .4 4.7 .3-.9 .4 4.8 .3-7.8 .4 11.3 .4-4.4 .3 .2 .4 1 .2-.9 .2-4.2 .3-1.5 .2 3.7 .2-2.6 .2 2.2 .2-3.7 .3-4.8 .2 .1 .2-.2 .2-.6 .2-4.9 .2 3.3 .3-.6 .2-5.4 .2 .5 .2-.2 .2-2.9 .3-3.3 .2 3.6 .2-6.5 .2-1.9 .2-.8 .3 .2 .2-2.7 .2-.1 .2-1.2 .2-2.5 .2-2.2 .3 .2 .1-1.6 .2-4.6 .1-1.8 .1-.7 .2-.7 .1-3.2 .2-3.4 .1-1.3 .2-1.8 .1-1.1 .1-2.2 .2-1.1 .1-2.9 .2-2.6 .1-2.4 .2-.7 .1-2.2 .1-2.4 .3-1.4 .2-.5 .3-2.8 .2 .6 .2-1.5 .3-2 .2-1.5 .3-.5 .2-1.9 .3 .5 .2-2.2 .3-1.4 .2-1.9 .2-1 .3-.6 .2-.6 .3-1.6 .2-1.1 .3-.5 .4 1 .4 .6 .3-.6 .4 2.1 .3-.6 .4-.2 .4 2.2 .3-.2 .4 .4 .3 .5 .4 0 .4 1.2 .3 .7 .4 .3 .3 1.2 .4-2.5 .3 2.1 .4-1 .3 0 .3-2.5 .4 1.1 .3-1.7 .3 1.2 .4-.1 .3-1.9 .3-1.8 .4 1.5 .3-.5 .3-1.3 .3-2.3 .3 1.3 .3-1.7 .3-2.1 .2-1.5 .3-1.1 .3 0 .3-2.1 .3-1.4 .3-.1 .3-1.6 .3-1.2 .3-2 .3 .3 .3-2.4 .3-1.6 .1-.1 .2-3.4 .2 .4 .2-2.7 .2-1.4 .2-1.9 .2-1.5 .2-2.8 .2 .5 .2-1.8 .2-2.9 .2-.2 .2-1.3 .2-1.7 .2-3.9 .2-.4 .2-.2 .2-3.1 .2-1.1 .2-1.6 .2-.6 .2-2.4 .2-2.2 .2-.9 .2-1.5 .2-2.4 .2-1.1 .2-2.9 .2 2.1 .2-2.9 .2-.9 .2-1.5 .2-1.2 .2-2.8 .2-.7 .2-2.5 .2 0 .2-2.4 .2-.7 .1-1.4 .2-1.7 .3-.3 .3-1.6 .2-.9 .3 .5 .3-2.4 .2-.5 .3-2 .2 .7 .3-3.8 .3-.2 .2-.2 .3-.6 .2-1.2 .4-.2 .3 1.7 .4-1 .4 1.2 .3 0 .4 2.3 .3-.3 .4 .2 .4-.1 .3 2.1 .2 .8 .2 2.4 .2 1.6 .1 2.3 .2 0 .2 2.7 .1 1.6 .2 1.6 .2 1.8 .2 1 .1 .1 .2 3.6 .2 2.3 .1 .3 .2 .9 .2 1.7 .2 2.9 .1 1.2 .2 .8 .2 1.8 .2 3.4 .2-.5 .2 2.4 .2 1.7 .2 1.1 .2 1.4 .2 2.1 .1 3.1 .2-.3 .2 2.3 .2 1.3 .2 1.4 .2 3.2 .2-.3 .3 1.7 .2 1.2 .3 .6 .2 2.9 .3-1.1 .2 4.2 .3-1.4 .2-.1 .3 2.8 .2 .8 .2 2.6 .3 .4 .2 2.3 .3-.9 .2 3.1 .3-1.3 .4-1.1 .3-1 .4-.8 .3-1.7 .4 1.1 .3-1.3 .4-1.7 .3 .7 .3-3.1 .4-1.4 .3 .5 .3-.4 .2-2.2 .3-2 .2 0 .2 .1 .3-2.2 .2-1.7 .3-1.1 .2-1.2 .2-.5 .3-3.5 .2-.2 .2-1.1 .2-1 .3-2.4 .2-1.4 .2-1.2 .2-1.2 .2-3 .2-1.1 .2-.6 .3-.8 .2-1.2 .2-3.3 .2 0 .2-3.6 .2-.3 .2-3.3 .3 .4 .2-2.2 .3-1.2 .2-.9 .2-1.6 .3-.8 .2-2.5 .3-1.4 .2-2 .3-.2 .2-2.2 .2 1 .3-5.1 .2 1 .3-2.4 .2-.6 .4 .3 .4-1.2 .4-.1 .4-2.4 .4-.7 .4-.5 .4 .1 .4-.8 .4-1.5 .4 .7 .4-.3 .4 .3 .4 1.2 .4 .2 .4 1 .4-.1 .4 2.5 .4-.4 .4 .2 .4 .8 .2 2.1 .3 .2 .2 .9 .3 1.5 .2 .5 .2 2.9 .3 1.4 .2 .2 .2 1.6 .3 1.1 .2 1.3 .3 1.1 .2 1.3 .2 1.1 .3 1.9 .2 .8 .2 1.2 .3 0 .2 1 .3 3.3 .2-.1 .2 .6 .3 3.3 .2 1.3 .2 1.7 .3 .7 .2 1.7 .3 1.6 .2 0 .2 3.4 .3 .6 .2 1.1 .3 1.8 .2 .3 .2 1.5 .3 1.5 .2 2.1 .3 1.5 .2 1.6 .2 1 .3 2.3 .2-.2 .3 1.9 .2 1.3 .2 1.5 .3-.1 .2 2.9 .3 1.5 .2 1.8 .2-.1 .3 1.6 .3 .6 .3 1.1 .4-.5 .3 2.4 .3 1.2 .3-.2 .3 1.2 .3 .5 .3 .3 .3 .5 .3 .5 .3 1.1 .3 2.2 .3 .1 .3 .6 .5-.7 .4-1.1 .4 .9 .5-1.3 .4-.3 .4-.2 .5-.6 .4-1.8 .4 1.4 .3 1 .3-3.9 .3 .4 .3-3 .3 1 .3-2.2 .3-1 .3-1.2 .3 .1 .3-2.3 .3-1.1 .3-.2 .3-2.1 .3-1.6 .3-1 .2-.7 .2-1.2 .3-.9 .2-3.5 .2-1.1 .2-.6 .3 .1 .2-3.8 .2 0 .3-2.4 .2-1.4 .2-.2 .3-3 .2-1.7 .2-.5 .2-.6 .3-1.6 .2-2.1 .2-1.6 .3-.4 .2-1.3 .3-2 .2-1.6 .2-.5 .3-2.5 .2-1.4 .2 .7 .3-2.1 .2 .7 .2-1.4 .3-1.5 .2-.9 .2-2 .3 0 .2-2 .3-1.9 .2-.4 .2-1.5 .3-1.4 .3-.1 .3-1.1 .3-1.1 .3-.2 .4-1.2 .3-.7 .3-1.9 .4 1.3 .4-1.3 .4 .1 .5-1.5 .5 .2 .5-1.4 .5 .1 .5-2 .4 1.8 .5-1.3 .5-1.3 .5-.3 .3 .8 .3 3.4 .3 .3 .3 .1 .3 1.2 .3 .9 .3 1.5 .2 1.4 .3 2 .3 3 .3-.7 .3 1.3 .3 .1 .3 .3 .3 3.3 .3 1.3 .3 2 .3 .5 .3-.3 .3 2 .3 3.1 .3-.3 .3 1.4 .2 .5 .3 .6 .2 1.5 .3 .2 .2 2.7 .2 .6 .3-.5 .2 3.7 .3 1.6 .2 1 .3 1.4 .2-2 .2 3.3 .3 1.1 .2 2.3 .3 .2 .2 1 .2 .9 .3 1.8 .2 .4 .3 1.3 .2 .5 .3 .8 .2 2.6 .2 .9 .3 .2 .2 3.5 .3 .2 .2 .2 .2 1.4 .3 2.8 .2 .2 .3 1.3 .2 1 .3 .6 .2 .9 .2 2.7 .3 .2 .2 0 .3 .4 .2-3.7 .3-.9 .2-.6 .2 .1 .3-2.2 .2 .4 .3-2.8 .2-1.3 .3-1 .2-2.1 .3 .5 .2-3.3 .3 .9 .2-2.7 .2-.8 .3-1.3 .2-.2 .3-1.1 .2-1.3 .3-1.3 .2-1 .3-2.3 .2-.9 .3-1.9 .2 .2 .2-2.3 .3 0 .2-1 .2-3.1 .3 0 .2-2.8 .2-1.5 .3 .9 .2-3.3 .3-.6 .2-2.9 .2-1.3 .3 .1 .2-.5 .2-3 .3-1.8 .2-.3 .3-.4 .3-1.6 .3 .1 .3-3.7 .3 .4 .3-1.7 .4 .8 .3-3.1 .3 .6 .3-2.9 .3-.2 .3-.9 .3-1.5 .3 .2 .3-.6 .3 .2 .3 2.3 .3-.2 .3 1.3 .3 .2 .3 1.9 .3 1.8 .3-.1 .3 .6 .3 1.3 .3-.8 .3 1.3 .3 1.3 .3 0 .3 .9 .2 2.4 .3 2.7 .2 1.6 .3 0 .2 1.5 .3 .7 .2 2.3 .3 1.6 .2 1.2 .3 1 .2 2.9 .3 .5 .2 2.2 .2 1.5 .3 0 .2 1.5 .3 2.9 .2-.2 .3 2.1 .2 .8 .3 1.6 .2 1.6 .3 .6 .3 1.2 .3 1 .3 .4 .3 1.6 .3 2.5 .3 .3 .3 2.4 .3 .4 .2 1.7 .3 .3 .3-.3 .3 3.1 .3 .3 .3 1.4 .3 2.8 .3 .2 .3 .1 .3 2.2 .3 2.3 .2-1.9 .3 1.4 .3 2.9 .3 1.4 .3 .5 .3 2 .3-3.1 .3-.3 .3-1.2 .3-1.4 .3-1.1 .2-.6 .3-1.2 .3-1.2 .3-1.8 .3-.9 .3-1 .3-.9 .3-1.3 .3-2 .3-1.3 .3-1.5 .2-1.6 .3 1.1 .3-1.1 .3-1.2 .3-2.6 .3-.7 .3 .1 .3-3.8 .3 .4 .3-.5 .2-2.4 .2-1.1 .2-1.5 .3-2.3 .2-1.3 .2-1.6 .2-.8 .2-.5 .2-3.5 .2-1.5 .2-1.1 .2-2.1 .2-1.8 .3-1.2 .2-.5 .2-1.5 .2-1.8 .2-1.7 .2-1.4 .2-2.9 .2-1 .2-2.6 .2-.1 .3-1.4 .2-2.6 .2-1.4 .2-.1 .2-3.9 .2-.4 .2-.9 .2-1.8 .3-2.6 .2-.4 .2-.4 .2-.6 .2-3.5 .2 .8 .3-1.4 .2-1.2 .2-4.4 .2 1.5 .2-2.7 .3 1.5 .2 2.3 .2 .7 .3 1 .2 .9 .3 2 .2-1.4 .2 2.5 .3 3.4 .2-1.4 .2 2.7 .3 .7 .2 .7 .2 2.9 .3-1.8 .2 4.7 .2 .9 .2 .8 .2 .7 .2 3.1 .3 1.1 .2 1 .2 1.4 .2 3.7 .2-.1 .2 1.7 .2 1.6 .3 1.9 .2 3 .2 2 .2-.1 .2 2.3 .2 1.7 .2-.8 .3 1.8 .2 3.8 .2 .3 .2 1.6 .2 2.1 .2-.2 .3 2.7 .2 1.9 .2 1.2 .2 3.9 .2 .9 .2-1 .3 3.7 .2 .5 .2 1.5 .2 2.8 .2 1 .2 1 .3 1.9 .2 .7 .2 3.7 .2 1.8 .2-1 .2 4.1 .2 .8 .3 .5 .2 2.1 .2 3.3 .2 .8 .2-.3 .2 2.5 .3 2.2 .2 1.2 .2 1 .3 1 .3 2.5 .2 .7 .3-.4 .3 2.6 .2 1.2 .3 1.3 .3 1.5 .3-.6 .2 1.9 .3 .5 .3 2.4 .2 .5 .3 .6 .3 .2 .3 2.4 .2 1 .3 .8 .3 3.2 .2 .2 .3 1.6 .3 .4 .2 1.8 .3 1.3 .3-.6 .3 1.3 .2 1.6 .3 2.8 .3 1.3 .2 .5 .3 1.7 .2 3.2 .3-.9 .2 2.3 .3-.4 .2 2.7 .3 .4 .2 1.6 .3 2.7 .2 1 .3 .7 .2 1.3 .3 1.3 .2 1.9 .3 1 .2 1.4 .3 3 .2 1.1 .3-.4 .2 1 .2 3.4 .2 .7 .2 2.6 .2-.2 .2 1.4 .3 .4 .2 2.5 .2 1.6 .2 1 .2 1.1 .2 2.5 .2 2.9 .2-.5 .3 1.1 .2 2 .2 .1 .2 2.3 .2 1.4 .2 2.5 .2-.4 .2 2.6 .3 .9 .2 1.2 .3-.9 .4 .4 .3-2 .4 .5 .4-1.3 .3-.4 .4-1 .4-.6 .4-1.7 .3 1.6 .4-3.1 .3 3.7 .3-1.2 .2 3.2 .3-2.1 .3 2.4 .2 .1 .3 0 .3 3.8 .2 0 .3 1.6 .3-.6 .3 1.2 .2 2.8 .3-2 .3 2.9 .2 .7 .3 1.2 .3-.1 .2 1.5 .3 1.6 .4 .3 .5-.3 .6-1.1 .6 .4 .5 0 .6-.3 .5 .9 .6-1.4 .6-1.1 .5 1.4 .5 .8 .3-1.7 .3-3.2 .3 .1 .3-.2 .3-2.8 .3 1 .4-.8 .3-.9 .3-2.2 .3-1.2 .3-1.4 .3 1.5 .3-.8 .3-1.2 .2-3.9 .2 .5 .2-2.8 .1-1.6 .2-3 .2-1.8 .2-1.1 .2-2.6 .1-1 .2-2.4 .2-1.8 .2-1.4 .1 0 .2-4.2 .2-1.5 .2-.3 .2-4.9 .1 1.3 .2-2 .1-2.3 .2-.7 .1-2.2 .1-2.5 .2-1.3 .1-2.7 .1-1.6 .2-2.5 .1-1.9 .1-.1 .2-3.9 .1-1.3 .1-.3 .2-1.1 .1-4.3 .1-2.9 .2-1.6 .1 .5 .1-3.1 .2-2.3 .1-.7 .1-2.1 .2-1.9 .1 .8 .2-3.2 .3-1.9 .2-.3 .2-2.4 .2-1.8 .2-1.8 .2-.1 .2-1.9 .2-.4 .3-2.7 .2-.7 .2-1.5 .2-1.4 .2-1.3 .2-1 .2-2.5 .2-1.5 .3 .4 .2-2.9 .2-.7 .2 1.8 .1-.4 .2 1 .2 3.7 .1 .9 .2 2.1 .2 3.2 .1 .3 .2 .8 .2 2.5 .2 .3 .1 4.3 .2 .6 .2 2 .1 2.5 .2 1.2 .2 2.7 .1 1.4 .2 1.8 .2 0 .2 3.8 .2 1.6 .3-.7 .3 1.7 .2 1 .3 3.7 .2-.1 .3 2.7 .2 0 .3 1.4 .3 .6 .2 2.9 .3 1.1 .2-1.3 .3-.8 .2-1.9 .3-1.1 .2-2.6 .3 1.2 .2-3.4 .3 .8 .2-2.3 .3-.6 .2 .9 .3-4.2 .2 .3 .3-1.2 .2-1.8 .3-.7 .2-1.4 .3-1.6 .3-1.6 .2-.3 .3-1.1 .2-2.5 .3 .9 .2-2.4 .3-.6 .2-1.2 .3-2.1 .4 .8 .3-3.1 .4-.4 .3-1.8 .4 2 .4-3.6 .3-1.1 .4 .9 .3-.3 .4-1.1 .3-2 .4-.7 .3-1.4 .4-.1 .4-.3 .3-2.4 .4 .7 .3-2 .4-1.2 .3 1.8 .4 1.3 .3 3.3 .4-.8 .3 .8 .4 1.9 .3 .5 .4 1.3 .3 .3 .4 .3 .3 1.2 .4 1.3 .3 1.5 .4 .8 .3 1 .4-.5 .3 2.3 .4 .3 .4-.2 .5 1.2 .4-1.5 .4 2.7 .4 .5 .5 1.2 .4 .4 .4-.8 .4 .9 .5 1 .4-.8 .4-1.1 .4 .4 .5-1 .4 .1 .4-2.7 .5 2.9 .4-3.8 .4 1.7 .5-1.7 .4-1.7 .4 .1 .5 2 .4-1.7 .4-.1 .4-1 .3 2.5 .3-.9 .3 3.1 .3-1.1 .3 .5 .3 .9 .3 1.7 .3-.4 .3 2.4 .3-1.9 .3 1.8 .3 1.3 .3 .2 .3-.8 .2 1.1 .3 1.6 .3 1.4 .3 .6 .3-.3 .3 1.6 .3 1.7 .3-.6 .3 1.6 .3 1.5 .3 .1 .3 .3 .3 2.2 .3-.7 .3 2.6 .4-3 .4 1.1 .4 .5 .4-2.9 .4-1 .4-1 .4 .1 .4-.7 .4 .6 .4-2 .4 1.5 .5-3.3 .4 .1 .4 .1 .4-2.1 .4-1.4 .4-1.3 .4 1.4 .4-1.3 .4-.2 .4 0 .4-1.1 .3-.7 .2-3.5 .3-.6 .2-1.3 .3-1 .2-.4 .3-3.4 .2 .6 .3-3.1 .2-1.2 .3-.1 .2-2.9 .3-1.8 .2-1 .3-.7 .2-2.3 .3 .6 .2-2.1 .3-.2 .3-1.1 .3-3.9 .3-.7 .3 .1 .3-1.4 .3-2.6 .3 .9 .3-1.6 .3-1.6 .3-1.9 .3-1.1 .3-.4 .3-1.8 .3-.5 .3 .7 .4 1.4 .3 .9 .4 1 .3 .8 .4 1.3 .4-.6 .3 1.5 .4 1.1 .3-.2 .4 3.1 .3 .8 .4 .8 .3-.6 .4 4 .3-.3 .4-.1 .4 1.7 .2 1.3 .3 .3 .2 1.1 .3 3.9 .2 .8 .3 .5 .2 1.8 .3 .4 .2 1.2 .3 2.2 .2 2.7 .3 .9 .2-1.1 .3 2.9 .2 1.7 .3 1.5 .2 .6 .3 2.6 .3 1.4 .2 0 .3 1.4 .2 1.6 .3 2.5 .2 .5 .3 2.1 .2 .5 .3 1.8 .2 2.9 .3-.3 .2 1.1 .3 2.1 .2 1.3 .3 1.1 .2 1.9 .3 1.7 .2 .6 .2-1.8 .2-3.4 .2 .2 .2-1.9 .2-.3 .3-2.5 .2-.3 .2-3.3 .2-1 .2 .1 .2-3.1 .2-1.1 .2-.7 .2-2.9 .2-1.4 .3 .4 .2-1.4 .2-1.1 .2-3.1 .2 .2 .2-1.8 .2-2.4 .2-.6 .2-2.7 .2-.4 .3-2 .2-.6 .2-3.1 .2 1.6 .2-2.8 .2-1.9 .3 0 .4 2.6 .3-1.4 .4 3.9 .3-1.8 .4 .8 .3 3.7 .4 1 .3-.2 .4 .4 .3 1 .4 .8 .3 .9 .4 1.5 .3 1.8 .4 .5 .3 .7 .4-.9 .3 3.4 .3-1.7 .3-2.3 .3-.6 .3 .6 .3-.6 .3-2.4 .2-2.6 .3 .1 .3-1.4 .3-.6 .3-1.9 .3-1.5 .3-.9 .3-.1 .3-2.1 .3-.3 .3-1.1 .3-1.9 .2-.5 .3-2.9 .3 .4 .3-.3 .3-2.6 .3 .8 .3-2.4 .3-1.7 .3-.1 .3-2.7 .3 .3 .3-2.8 .2 1.7 .3-.6 .2 .4 .2 3 .3 2.2 .2-.9 .2 2.2 .3-.5 .2 3.4 .2 1.1 .3 0 .2 1.9 .2 .4 .3 1.9 .2 1.4 .3-.6 .2 2.6 .2 .8 .3 1.9 .2 2.3 .2 .5 .3-1.1 .2 2 .2 1.7 .3 3.2 .2-.1 .2-1.1 .3 2.2 .2 2.9 .2 .4 .1 3.3 .2-.4 .2 1.9 .2 1 .1 2 .2 2.2 .2 4.7 .2-5.3 .2 4.5 .1 5 .2-.3 .2 2 .2-4 .1 8.6 .2-.1 .2-1.1 .2-.9 .1 5.4 .2 0 .2 3.8 .2-4.7 .2 3.5 .1 7.5 .5 1.1 .5-1.4 .6-1.9 .5 4.5 .5-3.9 .6 3.4 .5-4.1 .6 5.8 .5-3 .6 1.6 .5-3.1 .6 4.9 .5-.6 .5-1.9 .6 5.9 .5-7.7 .5-.4 .3 5.9 .4-.9 .4 4.5 .3-2.1 .4 4.3 .3 2.3 .4-7.4 .4 4.8 .3 1 .4-3.2 .3 7.8 .4-8.3 .4 6.1 .3-6.3 .4 5.4 .3 2.5 .4-.3 .4 1.1 .3 .1 .4-1.8 .3 2.2 .4-1.6 .4 3.6 .3 1.2 .4 7 .3-4.8 .4 .2 .3 1 .4 .9 .4 3.8 .3-3.2 .4 1.4 .3-2.7 .4 1 .4 5.7 .3-3 .4 3.3 .3-4.3 .4 4.3 .4 1.4 .3 4.4 .4-1.5 .3 3.4 .4-5.3 .4 2.5 .3-1.8 .4 1.8 .3 3.6 .4-4.4 .3 5.4 .3 2.1 .3-1.8 .3 0 .4 2.3 .3-1.8 .3 1.5 .3 2 .3 3 .3-3.1 .3 6.7 .4 .3 .3-1.5 .3 1.5 .3-1.6 .3-3.8 .3 4.1 .3-2.1 .4 4.7 .3-.3 .3-1.5 .3 5.9 .3-1.5 .3 1.9 .4 1.9 .3-.5 .3 1.4 .3-1.2 .3-1 .3 3.8 .4 0 .3 .8 .3-.3 .3 .9 .3-.9 .4 5.2 .3 2.4 .3-3.5 .3 4.6 .3-2.4 .3-.8 .4 5 .4-5.2 .3 3.8 .3-.8 .4 .6 .3-1.8 .4 4.9 .3 1.5 .3 2.4 .4-1 .3-1.1 .3 1.8 .4 2.9 .3-3.3 .4-1.9 .3 2.8 .3 .5 .4 1 .3 2 .3-2.2 .4-2.9 .3 4.9 .4 .7 .3 1.1 .3-6.1 .4 3.3 .3 6.3 .4-2 .4-.7 .4-3.8 .4 7.9 .4-.1 .4-6.6 .4 7.2 .4 1.5 .4-4.6 .4 6.1 .3-5.6 .4 5.4 .4 4.5 .4-2.8 .4 1.7 .4-1.7 .4 1.5 .4-1.8 .4 2.8 .4-2.5 .4 3.6 .4 1.5 .2-4.8 .2-1.3 .2 1.6 .2 .6 .2-7 .2-1.4 .2 2.5 .2 .9 .2-8 .2 1.2 .2-2.6 .2-1.9 .2-3.6 .2-1.1 .2 3.8 .2-4.9 .2 2.2 .1-2.8 .2 7.1 .2-4.2 .2 3.7 .1 1.2 .2 1.7 .2-.2 .1 .1 .2 6.6 .2-4.6 .2 11 .1-1.4 .2 2.5 .2-5.9 .1 7.5 .2 1.6 .2-2.1 .2 5 0 4.5 .1 3 0-.9 .1 1.9 .1-.8 0 3.1 .1 4.8 0-2.9 .1 7.8 0 3.8 .1 2.4 0 2.5 .1 3 0 1.5 .1 1.3 0 1.4 .1 4.5 0 1.3 .1 2.1 0 1.4 .1 5.8 .1 1.8 0 .7 .1 1.9 0 3 .1 2.5 0 2.8 .1 2.9 0 2.6 .1 1.9 0 2.4 .1 4.2 0 .6 .1 3.5 0-2.4 .1 1.9 0 5.3 .1 .2 .1 6.3 0 2.5" stroke="#72208a" stroke-width="1.3"/>
</g>
<g clip-path="url(#c2)" fill="none" stroke-linejoin="round" stroke-linecap="round">
<path d="M104.0 1610.0l1.5-11.8 1.2-17.3 1.1-14.5 1.2-16.8 1.4-12.5 1.6-13.6 1.8-9.8 1.8-11.5 1.9-8.4 2-10.9 1.9-7.8 2.1-9.7 2.3-5.6 2.4-7.4 2.7-4 2.5-6.2 2.6-2.7 2.9-4.9 2.7-1.6 2.8-3.9 2.9-.6 2.9-2.6 3-.1 3-2.7 3 .6 3-1.5 3 1.5 3.1-.5 3.3 3.1 3.1 .3 2.8 4 2.7 2.3 2.5 6.1 2.3 4.6 2.2 9.1 2 7.8 1.9 11.2 1.9 7.9 2 10.5 2 7.7 2 10.8 2.1 7.1 2.4 8.7 2.4 4.5 2.6 4.8 2.9-.5 2.8-.3 2.9-4.3 2.9-1.8 2.7-5.5 2.6-2.9 2.5-5.9 3-1.6 2.9-3.9 3.2-.7 2.9-2.6 2.9 .3 3.3-2.1 3.3 1.5 3.4-.6 3.3 2.4 2.9 0 2.8 3.3 2.9 .6 3 3.8 3 1.6 2.8 4.6 2.7 1.8 2.7 5.7 2.7 3.3 2.4 6.5 2.4 5.1 2.2 9 2 7.6 1.9 11.5 1.9 9.2 2 11.3 1.7 9.6 1.8 12.5 2.4 4.5 2.6-3.2 2.2-9.4 2.1-6.8 2.1-9.4 2.1-6.2 2.2-9.6 2.2-6.6 2.1-9 2.1-6.2 2.3-8.9 2.1-5.6 2.3-8.3 2.3-6 2.4-8.4 2.4-5 2.4-7.7 2.4-3.8 2.5-6.4 2.7-3.4 2.7-5.8 2.8-2.1 2.8-4 2.8-1.4 3.1-3.5 2.9-.5 2.8-2.5 3 0 3.3-2.4 3.3 .8 3.4-1.5 3 1.5 3.1-.6 2.9 2.4 3.3 .2 3.1 3.7 2.6 1.8 2.7 6.3 2.5 4.1 2.3 7.3 2.5 3.9 2.7 5.8 2.8 2 2.9 4 3.2 .7 3.1 3.3 3.2 .3 3 2.5 3 0 3 2.9 3.2 0 2.9 3.3 3.2 .5 3.1 3.4 2.9 1 2.9 4.5 2.8 2.2 2.6 5 2.6 3 2.7 6 2.5 3.4 2.5 6.4 2.6 4 2.3 6.7 2.5 4.1 2.3 6.9 2.5 3.8 2.5 6.5 2.6 4.6 2.4 7.2 2.6 3.7 2.6 4.6 2.9-.8 2.9-.7 2.8-5.5 2.6-3.5 2.5-6.4 2.5-4 2.3-6.7 2.4-4.9 2.5-7.9 2.3-4.7 2.4-7.8 2.5-4.8 2.4-7 2.4-4.5 2.4-7.3 2.3-4.3 2.4-6.9 2.6-3.9 2.5-5.9 2.7-3.2 2.8-5.5 2.7-2 2.7-5.7 2.6-1.9 2.6-6.6 2.5-3.8 2.7-6.7 2.9-1.2 3-2.8 2.4 8.5 2 5.7 2 11.5 2.2 5.9 2 12.1 2 6 2.3 9.4 2.6-5.7 1.9-7.4 1.8-13.2 1.9-8 2-10.6 2.1-5.6 2.4-9.3 2.8 .9 3-.3 2.8 6.9 2.5 1.7 2.6 6.8 2.6 1.5 2.7 6.8 2.6 1.8 2.7 6.6 2.6 1.7 2.6 7 2.6 1.9 2.6 7 2.5 2 2.6 7.8 2.5 2.2 2.6 7.7 2.3 2.4 2.3 9.5 2 7.1 1.9 11.8 1.9 8.1 1.9 11.2 1.9 8.5 1.8 11.5 2.1 7.2 2.7 3.8 2.5-6.5 2.2-6 2.2-9.5 2.1-6.7 2.2-9 2.1-6.2 2.2-9.6 2-6.4 2.1-9.1 2.3-5.8 2.2-8.6 2.4-5.2 2.4-7.7 2.4-4.5 2.5-6.1 2.6-3.1 2.6-5.4 2.7-2.5 2.9-5 2.7-1.4 2.9-4 3.1-1.2 2.8-3.6 3.1-.3 2.9-3.1 3-.1 3-2.7 2.9 .2 3.3-2.8 2.9 .2 2.9-2.9 3.3 0 3-3.2 3 .4 3.3-2.5 3.2 .7 3.2-2.1 3.1 1.2 3-1.3 3.2 2.1 2.9-.6 3.2 2 3.1-2.5 2.9-.3 3.1-2.9 3.1-.5 2.9-3 2.9 .1 3-2.5 3.3 .1 3-2.1 3 .7 3.1-1.8 3 1.2 3.4-.8 3 1.9 3-.5 2.8 2.5 3.2 .1 3 3.1 2.8 .7 3.1 4 2.7 1 3 4.1 2.9 1.5 2.9 3.9 2.9 1.6 2.7 4.6 2.8 2 2.6 4.8 2.8 2.6 2.6 5.6 2.6 3.3 2.5 6.2 2.6 3.8 2.4 6.6 2.4 4 2.5 7.5 2.4 4.7 2.3 7.6 2.4 5.2 2.4 8.5 2.3 4.7 2.4 7.3 2.6 3.5 2.8 6 2.7 2.7 2.7 4.9 2.9 2.5 2.8 5.1 2.8 .7 3 1.1 2.9-4.7 2.6-2.4 2.8-5.8 2.6-3.5 2.5-6.9 2.4-3.6 2.6-5.3 2.9-2 2.9-3.4 2.9 3.3 2.3 5.4 2.3 7.8 2.6-3.8 2-7.1 2-10.5 2-7.4 2-10.7 .7-2.4" stroke="#8a8a8a" stroke-width="1.2"/>
<path d="M104.0 1175.0l1.8 2.2 1.9-3.4 1.7 4.3 2-4.4 2.1 5.3 2.2-4.3 1.7 4.6 1.8-3.8 1.7 5.3 1.8-4.7 1.7 5.5 2.2-5.2 1.8 5.3 1.9-3.6 1.9 4.8 1.9-4.2 2 4.1 2-4.1 2 5.9 2.1-5.3 2 6.3 2-4.7 2 4.5 2-3.6 2 5.6 2-4.7 1.9 4.6 2-3.5 2 4.3 1.9-3.4 2 4.8 1.9-4 2 5 2-5 1.9 5.9 2-4.8 1.9 6.5 2-5.2 2 6 1.9-5.3 2 6.3 2-4.7 1.9 5.3 2-4.4 2 5.5 2-5.6 1.9 6.6 2-4.3 2 5.5 1.9-5.5 2 6.6 1.9-5.4 1.9 6.1 1.9-4.1 1.9 6.3 1.9-5.1 1.9 5.9 1.9-5.2 1.9 6.4 1.9-4.6 1.9 5.7 1.9-5.9 1.9 8.6 1.9-7.3 1.9 8.5 1.9-7.1 1.8 9.3 1.8-7.3 1.9 8.4 1.8-6.7 1.8 7.8 1.9-6 1.8 8.7 1.8-6.7 1.9 8.7 1.8-7.7 1.8 9.1 1.9-8.1 1.8 10 1.8-7 1.8 7.9 1.8-5.9 1.8 7.3 1.8-7.8 1.8 11 1.8-9.5 1.7 11.8 1.8-8.7 1.8 11.2 1.8-11 1.8 11.8 1.8-7.9 1.8 9.6 1.8-8 1.7 10.2 1.8-8.2 1.7 11.2 1.8-11.8 1.7 12.6 1.7-10.2 1.8 13.5 1.7-10.8 1.8 14 1.7-11.7 1.7 13.8 1.8-10.9 1.7 13.9 1.8-12.4 1.7 11.8 1.7-12.2 1.8 17.2 1.8-14.4 1.8 17.5 1.9-14.1 1.9 14.6 1.8-12 1.9 18.2 1.8-18.6 1.7 18.5 1.7-14.1 1.5 17.6 1.8-17.5 1.6 18.2 2.6-15.5 1.7 18.7 2.4-16 1.8 19 1.8-14.2 1.6 21.2 1.8-20.7 1.6 24.3 1.5-23.8 1.7 25.8 1.6-19.1 1.7 21.5 1.7-23.9 1.7 26.9 1.6-18.8 1.7 20.3 1.6-22.5 1.6 30.2 1.7-22.5 1.7 22.3 1.6-21.5 1.6 26.2 1.6-19.5 1.6 26 1.6-24.7 1.6 25 1.6-17.6 1.7 22.5 1.6-22.8 1.6 24.9 1.6-17 1.6 24.2 1.6-25 1.6 27 1.6-20.4 1.5 25.9 1.6-22.4 1.5 23.3 1.5-17.9 1.6 22.3 1.5-18 1.5 21.3 1.5-18.4 1.6 23.2 1.5-21.9 1.5 26.5 1.6-23.2 1.5 30.2 1.5-22 1.5 22.2 1.6-20 1.5 26 1.5-21.8 1.5 23.7 1.5-19.7 1.6 27.5 1.5-22.9 1.6 24 1.6-22.8 1.5 27.1 1.5-23.5 1.6 29.9 1.5-19.9 1.5 22.6 1.4-19.4 1.4 25.5 1.7-22.7 1.6 23.4 1.6-21.7 1.6 31.1 1.6-23.7 1.4 27.7 1.5-19.1 1.3 26.8 1.6-22.2 1.5 25.5 1.5-20.2 1.5 25.9 1.4-17.2 1.4 24.8 1.5-21.9 1.4 24.2 1.4-20.8 1.5 28.4 1.5-22.1 1.5 27.5 1.5-20 1.5 20.8 1.6-15.3 1.5 23 1.5-19.8 1.5 25.5 1.5-19.3 1.4 23.6 1.5-18.8 1.5 23.8 1.6-15 1.5 20.3 1.5-16.3 1.5 19.1 1.5-15.5 1.5 24.4 1.5-17.7 1.5 21.9 1.5-18.4 1.5 23.5 1.6-19.5 1.6 24.6 1.7-15.6 1.4 20 1.4-16.8 1.4 20.4 1.5-17.4 1.4 20.6 1.5-15.9 1.4 23.9 1.4-16.6 1.7 19.6 1.6-16.5 1.6 18 1.5-12.9 1.6 14.9 1.5-8 1.5 13.2 1.7-9.8 1.7 10.4 1.7-5 1.7 7.7 1.7-4.6 1.8 6.9 1.7-3.2 1.8 4.6 1.8-2.3 1.8 3.9 1.9-1.9 1.9 3 1.9-1.1 1.9 2.7 1.9-1.3 1.9 1.8 2-1.4 1.9 1.9 2-1.9 1.9 1.1 1.9-1.9 2 1.2 2-2 1.6 1.1 1.7-1.7 1.8 1.1 1.8-1.6 2 1.3 2.1-1.7 2.1 1 1.7-1.6 1.7 1.3 1.6-1.5 1.7 1.3 1.6-1.7 2.2 1.3 2-1.6 1.9 1.2 1.7-1.8 1.9 1.5 1.9-1.5 1.9 1.3 1.9-1.2 2.1 1.6 2.2-1.4 1.9 1.2 2-1.7 1.7 1.3 1.9-1.6 2 1.6 2-2 2.1 1.4 2.2-1.9 2.2 1.6 1.6-2 2.1 1.6 2.2-2 2.1 1.5 2-2 2 1.3 2.1-1.6 2 1 2.1-1.9 2.1 1.2 2.1-1.7 2 1 2-1.5 2 .9 2-1.8 1.9 1.2 1.9-1.5 2 1 2.1-1.9 1.9 1.2 1.9-1.5 1.8 .8 1.8-1.6 1.8 1 1.9-1.6 2 1.2 2.2-1.4 1.7 1.1 2.1-1.3 1.7 1.3 1.9-1.2 2 1.4 2-1.2 2.1 1.6 2.1-1.4 2.1 1.5 2.1-1 2.2 1.5 2.1-1.6 2.1 1.9 2.1-1.6 2 1.6 2-1.4 1.9 1.3 2.2-1.4 2.1 1.3 2.2-1.7 2.1 1.4 2-1.6 2 1.4 2-1.8 2 1.3 1.9-1.6 2 .9 1.8-1.6 1.9 1.2 1.8-2 1.6 1.4 2.1-1.8 2.1 .7 2.1-1.9 1.9 .9 2-2 1.9 .9 1.8-1.8 1.9 1.1 1.8-1.9 1.7 .7 1.7-1.8 1.6 1 2-2 2 .5 1.9-2.2 1.9 1.1 1.9-1.9 1.9 1.1 1.9-1.2 1.8 2 1.9-.7 1.8 2.4 1.8-.4 1.8 2.6 1.8-.2 1.8 2.4 1.8-.6 2 2.3 1.9-.7 2 1.9 2-1.1 1.9 2.1 1.9-1.3 1.9 2.4 1.9-1.5 1.9 3.2 1.9-1.5 1.9 3.6 1.8-1.9 1.8 4.2 1.7-2.5 1.8 4 1.9-3 2.1 5.2 2-5.6 2 5.8 1.9-6.9 2 6.6 1.9-6.9 1.9 6.8 1.9-8.9 2 7.1 1.9-10.7 1.8 9.9 1.8-10.8 1.8 8.6 1.7-12.8 1.8 12.6 1.7-16.1 1.8 14.7 1.7-15.5 1.7 13.4 1.7-18.4 1.6 15.9 1.7-18.2 1.6 13.3 1.7-12.1 1.7 11.6 1.7-12.4 1.6 15.2 1.9-12.1 1.3 7" stroke="#4bb23a" stroke-width="1.2"/>
<path d="M104.0 1603.0l.6-1 1.6-3.1 1.5-1.4 1.5-3 1.7-1.6 1.8-3.5 1.5-1.2 1.6-3.2 1.7-1.5 1.7-3.4 1.6-1.5 1.7-3.5 1.7-1.4 1.6-3.3 1.6-1.3 1.5-3.5 1.6-1.5 1.7-3.4 1.6-1.6 1.7-3.6 1.7-1.6 1.7-3.9 1.7-1.5 1.7-3.8 1.7-1.2 1.7-3.9 1.7-1.2 1.7-3.5 1.7-1.4 1.7-3.5 1.7-.9 1.7-3.2 1.7-.8 1.7-3.5 1.7-.8 1.7-3.1 1.7-.8 1.6-3 1.7-.7 1.7-3 1.7-.4 1.7-2.9 1.7-.4 1.7-2.7 1.7-.4 1.6-2.7 1.7 .2 1.8-2.8 1.7 .1 1.8-2.4 1.7 .1 1.7-2.4 1.8 .3 1.7-2.3 1.8 .5 1.7-2.3 1.7 .7 1.8-2.5 1.7 .8 1.8-2.4 1.9 .8 1.9-2.6 1.9 1 2-2.1 1.9 .8 1.9-2.3 2 1.3 1.9-2.3 1.9 1.3 2-2.2 1.9 1.1 1.9-2.2 2 1.3 1.9-2.3 2 1.8 2-2.1 2 1.5 2-2.1 2 1.5 2.1-1.6 2 1.7 2-2.3 2 2 2-2.1 2 1.8 2-2.2 2 1.8 2-2.7 1.9 1.9 2-2.1 1.9 1.4 2-2.6 2 1.9 1.9-2.3 2 1.4 1.9-2.6 2 2 2-2.6 1.9 1.7 2-3 1.9 2.2 2-3.3 1.9 1.9 1.9-3 2 2.1 1.9-3.4 1.9 2.1 2-3.2 1.9 1.8 1.9-3.3 2 2.3 1.9-3.6 1.9 2.4 2-3.1 2.1 2.2 2.1-3.9 2.2 3.2 2.3-4.1 2.2 2.8 2.2-4.8 2.1 3.8 2.1-5 1.9 5 1.8-5.6 2.1 5.1 1.7-6.3 2.3 4.2 2.3-6.5 1.9 5.3 1.8-6.9 2.1 5.8 1.8-6.5 2 3.7 2-5.3 2 4.6 2.1-7.4 2.1 5 2.1-5.6 2 4.5 1.9-6.6 2 6.2 2-7.4 2 6.8 2-7.5 2.1 6.5 2-6.2 2 4.3 2-6.1 2 6.7 2-6.1 1.9 5.3 2-5.2 2 6 2-5.7 1.9 6.6 2-5.3 1.9 5.8 1.9-4.6 1.9 6 1.9-4.5 1.9 6.3 1.9-5 1.8 7 1.9-6.2 1.8 7.2 1.9-5.7 1.9 7.1 1.8-4.3 1.8 5.9 1.8-4.5 1.8 7 1.8-4.7 1.7 6.8 2-5.2 2 7.6 1.9-4 1.9 7.8 1.8-4.3 1.9 8.2 1.8-4.6 1.9 6.9 1.9-3.3 1.8 8.3 1.8-5.2 1.8 7.2 1.8-4.8 1.8 9.1 1.8-5.4 1.8 8.4 1.8-4.4 1.8 7.6 1.8-2.9 1.7 7.6 1.7-4.3 1.7 7.8 1.7-3.8 1.7 7.5 1.7-3.3 1.6 6.7 1.7-2.9 1.6 6.1 1.7-3 1.6 7.2 1.5-3 1.8 7.2 1.8-2 1.7 7.7 1.7-2.3 1.7 6.7 1.7-1.4 1.6 7.2 1.6-2.2 1.5 6.4 1.6-1.4 1.5 5.5 1.5-1.3 1.8 5.9 1.7-.4 1.7 4.9 1.7 0 1.8 4.8 1.6-.5 1.6 4.5 1.7-.1 1.6 4.4 1.6-.1 1.6 3.5 1.7 .1 1.6 3.6 1.6-.4 1.6 3.1 1.6 .2 1.9 2.7 2 .3 2 2.6 2 .2 1.8 2 1.7 .1 1.8 2.1 1.7-.3 1.8 1.8 2-.5 2 1.1 1.9-.9 1.7 .8 1.9-1.3 1.9 .6 2-1.7 2 .4 2-1.5 2 0 2-1.9 1.9 .1 2-2.1 2 0 1.9-2.6 2-.2 2-2.5 1.7-.4 1.7-2.3 1.7-.2 1.9-2.3 1.9-.1 1.9-2.4 2.1-.3 1.6-1.9 1.7-.3 1.8-1.9 1.7-.2 1.8-2 1.8-.1 1.8-2.2 1.9 0 1.8-2.1 1.8 0 1.8-2 1.7 .1 1.8-1.8 1.9-.1 1.8-1.8 1.9 .3 1.9-1.8 1.8 .1 1.9-1.7 1.8 .2 1.9-1.7 1.8 .4 1.9-1.8 1.9 .4 1.8-1.6 1.9 .3 1.9-1.4 2 .3 1.9-1.2 2 .4 2-1.4 1.9 .8 2-1.4 2 .8 1.9-1.3 2 .5 2-1.3 2 .5 1.9-1.5 2 .7 2-1.4 2 .3 2.1-1.5 2.1 .5 2.1-1.5 2 .3 2.1-1.5 2 .4 2-1.6 1.8 .4 1.8-1.6 1.7 .2 1.9-1.9 1.7 .4 1.9-2.9 1.7 1.2 1.8-4.2 1.7 1.1 1.7-4.3 1.7 1.5 1.9-5.3 1.8 1.8 1.8-5.8 1.8 2.7 1.9-6.9 1.8 4.3 1.8-7.5 1.8 3.8 1.6-8.2 1.6 4.4 1.6-9.5 1.7 7.2 1.6-10.7 1.6 6.7 1.6-11.2 1.6 7.9 1.5-11.9 1.6 7.4 1.5-11.9 1.6 7.6 1.5-14.1 1.8 10.8 1.6-16.2 1.7 10.9 1.8-14.6 1.6 11.3 1.7-16.2 1.6 12.7 1.6-17.5 1.7 13.3 1.4-19.6 1.6 14.1 1.5-19.8 1.6 14.9 1.6-18.8 1.5 14.1 1.7-19.5 1.8 14.6 1.7-22.3 1.8 17.9 1.7-23.2 1.7 18.2 1.8-20.7 1.9 15.4 2-19.8 2 20 1.9-21.6 2 15.6 1.8-20 1.7 20.8 1.8-20.6 1.8 14.7 1.8-16.2 1.8 16.3 1.9-21 2 18.6 2-19 2 17.8 2-15.1 2 17.3 2.1-19.7 2.1 19.7 2.1-19 2 18.8 1.8-16.7 2.3 18.1 2-15.5 1.8 15.3 1.9-14.6 1.6 20.3 1.5-14.5 1.5 17.8 1.5-13.6 1.5 20.3 1.4-9.6 1.4 16 1.3-6.7 1.3 15.3 1.3-2.7 1.2 12.1 1.2-.3 1.2 10.3 1.1 .7 1.2 9.5 1.1 1.8 1 10.6 .7 4.6 .7 11.9 .8 6.7 .9 10.4 1 5.2 .2 2.8" stroke="#f28c2e" stroke-width="1.25"/>
<path d="M104.0 1538.0l1.1 .8 1.9-9.4 1.9 3.6 1.8-10 1.8 4.2 1.7-9.4 1.9 3.2 1.8-10 1.7 2.2 1.8-8.7 1.8 1.7 1.9-9.4 1.8 1.5 1.7-9.1 1.8 3.1 1.8-10.3 1.9 2.2 1.8-8.5 1.8 1.2 1.8-9.5 1.7 2.6 1.8-11 1.8 2.9 1.7-11 1.8 2 1.8-10.2 1.7 1 1.7-9.5 1.8 1.2 1.7-10.8 1.8 1.6 1.8-10.4 1.6 1.4 1.6-9.9 1.7 1.5 1.6-11.3 1.5 1.1 1.5-12.5 1.4-.1 1.3-12 1.6-1 1.7-10.8 1.9 3.9 1.9-8.5 1.9 4.1 2.1-8.3 2.1 3.9 1.8-8.2 2 3.2 2.1-9.6 2 3.6 2.1-7.5 1.9 2.5 2.2-6 2.4 2.4 2.2-4.6 2.3 2.8 2.5-3.1 2.3 3 2.5-2 2 3.3 2-1.6 2.5 3.6 2.3-1.9 2.5 3.6 2.2-1.7 2.2 4 2.5-2.6 2.3 2.8 2.4-3.4 2.5 1.6 2.1-3.1 2.4 1.6 2.3-3.1 2.5 1.4 2.2-4.1 2.3 1.6 2.5-2.7 2.2 2.7 2.1-1.9 2.3 4 2.3-1.1 2.3 3.8 2.3-.8 2 3.4 1.9-1 2 4.3 2-1.4 1.9 4.4 2-.9 2.2 4.7 1.9-.3 2 5.3 2-.1 1.9 5 2-.6 2 5.1 2-.3 1.9 5.1 1.9-.5 2 4.4 2.1-.3 2.2 5 2.1-.2 2.1 4.6 2.2-.4 1.9 4.7 2-.8 1.9 4.8 1.9-.8 2.1 4.7 1.9-.4 1.9 4.4 2.2 .3 1.9 4.9 2 .5 2 4.4 2.2-.8 2.3 4.5 1.9-.7 2 4.6 2.1-.5 2 4.5 2-.1 2 4.4 2-1 2 4.2 2-.7 2.1 4.2 2.1-.9 2.2 3.7 2.1-.5 2.2 3.7 2.2-1.5 2.1 3.4 2.4-1.6 2.5 2.8 2.5-2.4 2.5 2.4 2.5-2.8 2.6 1.8 2.1-2.8 2.1 1.5 2.3-3.7 2 1.6 2-3.8 2 .9 2.1-3.9 2.1 .8 2-4.5 2 .8 2-3.8 1.9 .1 2.2-4.1 2.2-.2 2.2-4.4 2.1-.7 2.1-4.3 2.1-.2 1.9-4.9 2.1 .1 1.8-4.9 2.2 .2 2.1-4.5 1.9 .3 2-4.6 1.9-.4 1.9-4.9 1.9-.8 1.9-4.9 2.1-.6 1.9-5.5 2-.2 2-4.8 2.2-.5 2.1-5 1.9 .1 1.9-4.5 2.1-.1 2.1-4.5 2.2-.5 2.2-4.3 2.1-.4 2.2-4.1 2.1-.4 2-4.2 2 .3 2-4.3 2 0 1.9-4 1.9 0 1.9-4.2 2.2-.4 2.2-4.2 2 .1 2-4.1 2.2 0 2.4-4 2.2 .9 2.4-3.1 2.1 1.5 2.1-2.6 2.5 2.3 2.4-2.4 2.3 2.3 2.3-1.4 2.4 2.2 2.6-1.5 2.2 2.5 2.2-1.5 2.4 2.3 2.4-1.8 2.4 2.1 2.6-2.3 2.1 1.9 2.2-2.1 2.2 2.3 2.2-1.9 2.2 1.7 2.5-2.1 2.4 1.9 2.2-1.8 2.7 2.4 2.6-2.3 2.3 2.5 2.4-2.2 2.1 3.1 2.2-2.9 2.1 3.8 2.3-1.5 2.2 4.9 2.3-2.4 2.2 6.5 2.2-3.5 2.1 6.8 2.1-3.5 2.1 8.4 2-4.2 2.1 8.8 2-3.8 2.1 8.3 2-3.7 2.1 8.1 1.9-3.3 2 9.1 1.9-3 1.9 9.6 1.8-3.5 1.9 9.8 1.7-2 1.7 11.4 1.7-2.5 1.5 11.4 1.8-1.9 1.7 11.1 1.7-1.9 1.8 10.6 1.7-1.1 1.7 11.2 1.5-2.3 1.7 11.1 1.7-2.5 1.6 12.2 1.7-3.2 1.6 11.9 1.7-3.1 1.8 11 1.8-1.5 1.8 9.4 1.8-1.1 1.8 10.2 1.6-2.4 1.7 9.9 1.6-1.4 1.7 10.7 1.7-1.1 1.7 8.7 1.7-1.3 1.9 9.5 1.8-1.6 1.8 7.8 1.8 .5 2 7.5 1.8-.6 1.8 6.9 1.8 .3 1.9 5.8 1.8 1 1.9 4.4 1.8 1.4 2.1 4.2 2.1 1.4 2 3.5 2.2 1 2.1 3.3 2.2 1.1 2.1 3 2.2 .9 2.2 3.2 2.2 .7 2.2 3.1 2.2 .9 2.1 3.2 2.2 1.1 1.9 3 2 .8 1.9 3.3 2 .7 1.9 3.4 1.9 .4 1.9 3.3 2.2 .9 2.1 3.4 1.9 .6 2.1 3.2 2 .6 2.2 3.4 2.1 .7 2.2 2.5 2.1 0 2.3 2.1 2.3-.4 2.5 1.8 2-.7 2.1 1.6 2.1-.7 2.6 1.3 2.5-1 2.4 1.1 2.4-1.4 2.5 .8 2.5-1.9 2.5 .7 2.5-2 2.3 .4 2.3-1.9 2.4 .2 2.4-2.5 2.4 .2 2.3-2.4 2.3 .2 2.2-2.7 2.1-.1 2.1-2.7 2-.3 2.1-2.6 2-.5 2.1-2.8 2-.4 2-2.9 2.1-.4 2.1-3 2.1-.8 2-2.9 2.2-.8 1.9-2.8 2-.5 2-3.6 2.2-.6 2.1 .1 1.9 4.4 1.7 2 1.9 3.9 1.7 1.8 1.9 4.3 2 1.4 1.9 3 2.3-1.3 2.1-.8 2-4.1 1.9-1.9 1.9-4.4 1.7-3 1.6-5.5 2.1-.5 2.1-1.3 2.3 1.4 2.1-1.3 2.3-.1 2-3.6 2.2-1.2 2-1.3 1.3 6.5" stroke="#ec3224" stroke-width="1.25"/>
<path d="M104.0 1577.0l.6 .9 2.5-7.9 2.5 2 2.6-8.2 2.4 1.7 2.6-7.8 2.6 1.9 2.6-8 2.6 1.8 2.5-8.4 2.6 1.4 2.4-7 2.5 1.5 2.5-7.9 2.5 1.6 2.5-7.8 2.5 1.5 2.5-7.9 2.5 .8 2.5-8.1 2.4 .3 2.3-7.8 2.4 .6 2.4-7.5 2.4 .2 2.4-7.8 2.4-.1 2.4-7.7 2.4 .5 2.3-8.6 2.4-.2 2.5-8.1 2.4 .5 2.4-9.3 2.4 .8 2.4-9.8 2.3 .9 2.3-8.7 2.5 0 2.3-8.5 2.3 .1 2.5-10.2 2.2 .6 2.1-10.1 2.2-.6 2.3-11.3 2.2 .4 2.3-9.7 2.3-.7 2.3-8.8 2.3 .3 2.3-9.7 2.2 .3 2.3-9.2 2.2-.1 2.3-9.2 2.3 .1 2.2-10 2.3 .1 2.2-8.6 2.5-.1 2.5-9.3 2.5 .7 2.6-8.1 2.4 1 2.5-9.3 2.5 .5 2.4-7.7 2.6 1.2 2.6-8.3 2.3 1.1 2.5-7.9 2.5 .8 2.6-7.3 2.6 .5 2.7-6.6 2.8 1 2.4-6.8 2.6 1.5 2.5-6.2 2.6 1.1 2.6-6.1 2.6 1.5 2.5-5.9 2.6 1.2 2.6-5.6 2.6 1 2.8-5.4 2.8 1.1 2.7-5.3 2.7 1.6 2.9-4.9 2.6 1 2.7-5.1 3.1 .4 3.5-4.4 2.8 1.7 2.8-4.4 2.6 1.5 2.8-4.2 3 .8 3-4.1 3 1 2.9-4.2 2.8 .6 2.6-4.1 2.6 1.2 2.6-3.9 2.6 .9 2.6-3.8 2.6 .6 2.6-4 2.7 .7 2.6-3.9 2.6 .9 2.6-3.6 2.6 .4 2.6-3.8 2.6 .4 2.6-3.6 2.6 .5 2.6-3.7 2.6 .2 2.6-3 2.6 0 2.7-3 2.8-.1 2.8-3 2.8 .1 2.8-3 2.8 .2 2.7-2.7 2.6 .1 2.9-2.7 2.8 .4 2.8-2.5 3.1 .6 2.9-1.9 2.8 .7 2.8-1.5 3.2 1 3.2-1.3 2.9 1.3 2.9-.9 3 2.2 3.1 0 2.7 3 2.8 .5 3 3.7 2.5 0 2.8 4.5 2.7 .6 2.6 4.7 2.5 .3 2.6 5.4 2.5 .4 2.4 6.2 2.5 .5 2.7 6.1 2.6 1.3 2.4 6 2.3 .5 2.4 6.3 2.4 .9 2.4 6.7 2.5 .5 2.4 6.8 2.4 .9 2.3 7 2.4 1.4 2.5 7.5 2.4 .9 2.5 8.4 2.4 1.2 2.3 7.5 2.2 .9 2.2 8.4 2.3 .7 2.2 8.5 2.4 1.3 2.3 8.1 2.3 1.2 2.3 9.3 2.3 1.6 2.3 8.3 2.4 1.3 2.2 8.2 2.3 .8 2.2 9.1 2.3 .1 2.4 8.6 2.3 .8 2.4 8.8 2.3 .4 2.2 9.4 2.3 1 2.2 9.1 2.3 1.4 2.3 8.1 2.3-.1 2.5 8 2.6 .2 2.3 8 2.5-1 2.4 8 2.4-.8 2.3 6.7 2.4-.2 2.4 7.1 2.4-.3 2.4 6.6 2.3-.7 2.4 7.5 2.3-.1 2.7 7.6 2.6-.5 2.6 6.9 2.6-.4 2.7 7 2.5-.2 2.5 6.5 2.6-.3 2.5 6.8 2.6-1.1 2.7 7.1 2.4-.7 2.6 7 2.4-.6 2.5 5.7 2.6-.5 2.7 7 2.7-.2 2.4 5.4 2.5-.5 2.5 5.8 2.4 .1 2.8 5.4 2.8 .3 2.7 5.3 2.8 .1 2.8 5.1 2.9-.4 2.8 5.6 2.8-.3 2.6 4.9 2.7-.6 2.8 5.4 2.7-.4 2.5 4.2 2.8-1 2.7 4.1 2.7-1 2.8 4.2 2.7-.6 2.8 4.4 2.8-.9 2.8 4.4 2.8-1.4 2.9 4.4 3-.7 2.9 3.8 2.8-1.3 2.7 3.5 2.7-1.1 3 3 3-1 3.1 2.9 2.9-1.4 3 2.8 2.9-2.4 2.9 1.6 2.6-3.3 2.7 1 2.6-3.8 2.8 .5 2.8-3.9 2.8 .4 2.8-3.9 2.8 .1 2.9-4.8 2.8 .2 2.9-4.5 2.8 0 2.9-4.5 2.5-.4 2.9-4.6 2.8 .3 2.7-4.1 2.7 1.4 3-2.3 2.8 3.5 2.6-.4 2.6 4.4 2.8 .1 2.8 5.3 2.4 .6 2.4 5.8 2.6 .5 2.6 5.2 2.7-.6 2.7 3.2 2.8-3.9 2.5-.8 2.2-10.4 2.3-.5 2.7-7.4 2.7 10 2.4-2 2.5 9.4 2.9-7.1 2.8 4.8 2.9-8.8 2.8 5.2 2.7-6.4 2.8 8 2.8-3.5 2.5 7.4 2.8-5.9 2.2 .1 1.9-14.6 1.8-1.2 2.4-6.5 1.7 14.9 1.5 4.2 2.2 10.8 1.9-14.6 1.7-2.3 2.3-5.3 1.8 14.3 1.8 2.9 2.8 6.8 2.7-8.9 2.9 3.7 2.9-5.4 2 4.2" stroke="#1414f0" stroke-width="1.25"/>
<path d="M104.0 1602.7l.8-.4 1 .4 .9-.3 1 1 1.1 .3 1 2.3 .8 1.5 .7 2.7 .5 3.6 .6 2.8 .5 3.9 .6 2.7 .6 3.1 .9 2 .9-1.8 .8-1.6 .6-1.8 .7-3 .6-3.4 .6-2.7 .6-3.2 .6-3.5 .5-3.8 .6-3 .6-3.3 .6-4.1 .6-2.6 .5-3.5 .5-3.3 .6-4.4 .5-2.7 .5-4.1 .5-3.4 .5-4.1 .5-3.2 .5-3.6 .5-3.6 .5-3.4 .6-4.7 .5-2.6 .5-3.6 .6-2.9 .6-2.5 .7-3.4 .7-2.8 .8-2.1 .7-2.3 .8-2.2 .9-1.8 .8-1.8 .9-1.3 .8-1.2 1.1-1 1.1-.7 1.1-.7 1.1 .2 1.2 .8 1.2 1.7 .8 1.4 .9 1.1 .8 1.7 .7 1.8 .8 1.9 .8 2.2 .7 2.2 .8 2.7 .7 2.2 .7 2.1 .8 1.8 .7 3 .8 2 .8 1.9 .8 2.4 .9 2.1 .8 1.9 .9 1.6 .7 2.2 .8 2 .8 2.3 .8 2 .8 1.8 .8 1.7 .8 2.2 .8 1.7 .8 2.4 .9 1.6 .8 1.8 .8 1.7 .9 2 .8 1.7 .8 1.2 .8 2.4 .9 1.9 .8 1.5 .9 2.2 .8 1.5 .8 2.2 .8 2 .9 1.9 .8 2 .8 2.1 .9 1.7 .8 1.9 .8 1.4 .8 1.5 .9 .9 1 1.1 1 .4 1.1 1 1-.4 1-.7 .9-1.7 .9-1.5 .7-1.4 .8-2.1 .8-1.5 .8-2.8 .8-1.9 .8-2.7 .7-3.4 .8-2.3 .8-2.8 .7-3.2 .8-2.6 .8-3.1 .7-2.8 .7-2.4 .8-2.9 .7-2.6 .7-2.8 .7-2.4 .8-3 .7-2.4 .7-3.1 .7-3 .7-2.9 .6-3 .7-2.5 .7-3.4 .6-3.1 .7-3.1 .7-2.4 .6-2.9 .7-2.9 .6-2.3 .7-2.9 .7-1.9 .6-2.7 .8-2.3 .8-1.8 .8-2.4 1-1.5 .9-2.6 .9-1.3 1-1.7 .9-1.7 1-1.3 .9-.8 .9-1.9 .8-.7 1-1.2 1-.6 1-1.3 1.2-.8 1.1-.5 1 1.2 .9 1.8 .7 1.9 .8 1.8 .7 2.7 .7 2.5 .7 2.9 .7 2.8 .6 2.8 .6 2.4 .7 3.5 .7 2.6 .6 2.9 .7 2.2 .7 3.2 .6 2.7 .6 2.6 .7 3.1 .7 2.3 .9 .8 1-1.3 .7-2.6 .6-2.5 .6-2.8 .6-3.9 .6-3 .6-3.5 .6-3.1 .6-3.5 .7-3.4 .7-2.7 .6-2.4 .8-2.6 .7-2.1 .8-2.7 .9-1 1.1-.2 1.2-.5 1.1 .9 1.2 .8 .9 .9 1 1.3 1 1.1 1 .8 1 1.5 .9 1 1 .7 .9 1.3 1.2 .5 .9 .9 .9 .3 .9 .5 .9 1.1 .9 .6 .8 1.3 1.2 1.2 1.1 1.1 1 1.5 .9 1.6 .9 2.6 .8 2 .8 2 .8 2 .8 2.8 .7 1.8 .7 3.2 .7 2.9 .6 2.7 .6 3 .5 3.3 .5 4.3 .4 4.3 .4 3.9 .4 4.9 .4 4.7 .3 4.3 .4 4.3 .4 4.6 .3 4.9 .3 4.9 .3 5.5 .3 4.5 .2 5.6 .3 5.2 .3 5.2 .3 4.6 .4 4.3 .5 3.2 .8 .3 .5-3.9 .5-4.2 .4-4.5 .3-4.7 .4-4.1 .3-5.4 .3-4.9 .3-4.3 .3-5 .4-5.2 .3-4.9 .3-5.3 .4-4.1 .3-4.5 .4-4.6 .3-4.4 .4-5.2 .3-4.5 .4-4.5 .3-4.4 .4-4.8 .3-4.9 .4-4.8 .3-4.7 .4-4.4 .4-4.1 .4-4.2 .4-4.2 .5-4.6 .5-3.5 .5-3.8 .7-2.4 1-.7 .9-.5 1 0 1.2 .5 1 .5 1 1.1 1.1 .4 1 .6 1.2 .7 1.1 1.5 1.1 .6 1.1 1.6 1 .2 1 1 .9 .5 1.1 1.4 1 .1 1.1 1 1 .6 1.1 1.4 1 .6 1 1.1 .9 .6 1.2 1.2 1 1.1 1 .8 1 .4 1 .9 1.1 1.2 1.2 1 .8 1.6 1 1.2 1 1.3 .9 .8 .9 1.3 1 1.7 1 .7 1.1 1.7 1 .8 1.1 1.4 1.1 1.9 1.1 1.3 1 1.5 1.1 1.7 1 1 1 1.7 .9 1.2 .9 1.3 1 1.4 .9 1 .9 1.8 1 1 .9 1.1 1 1.1 .9 1.8 .9 1 1 1.6 .9 1.7 .8 1.4 .9 1.6 .8 .4 .8 2 1 1.8 .9 1.6 .8 2 .7 1.4 .9 2 .8 1.5 .8 2.5 .8 2.2 .8 2 .7 2.6 .8 2.1 .8 2.7 .7 2.5 .7 2.7 .7 2.1 .6 3.4 .6 2.8 .6 3.1 .6 3.7 .6 3.4 .6 3.7 .6 3.4 .6 4 .6 3.3 .6 3.5 .6 2.9 .6 2.5 .7 2.7 .8 1.9 .8 1.1 1 .8 .9-1.4 .8-1.1 .8-1.9 .7-2.7 .7-2.2 .7-2.9 .7-3.3 .6-2.4 .6-3.2 .6-2.8 .7-3.1 .6-2.7 .6-3.3 .7-3.2 .6-2.8 .6-2.7 .7-3.4 .6-2.4 .7-3.1 .7-2.6 .7-2.3 .7-3 .7-3.3 .7-2.4 .7-3 .7-2.8 .7-3.5 .7-3 .7-2.4 .6-3 .7-2.4 .7-2.9 .7-2.1 .6-3.5 .7-2.2 .6-2.3 .8-2.5 .7-3.4 .6-2.2 .8-2.6 .8-2.1 .7-3.2 .7-2.1 .8-2.4 .7-2.3 .7-2.5 .7-1.7 .7-2.4 .8-2.3 .7-2.5 .8-2 .9-2.6 .7-2.2 .8-3.1 .8-1.9 .8-2.9 .8-2.7 .7-2.6 .7-2.5 .8-2.2 .8-1.3 .9-1.1 1-.7 .8 1.4 .7 2.7 .6 3.5 .5 3.4 .4 4.1 .5 3.6 .4 4.2 .4 3.7 .5 4 .6 3.4 .5 4.6 .6 3.1 .5 3.9 .5 3.8 .5 4 .6 3 .6 3.1 .9 .6 .8-1.2 .7-2.5 .5-3.5 .5-3.8 .5-4.3 .5-3.9 .5-3.9 .5-4 .5-4.5 .6-3.7 .5-3 .6-2.6 .7-2.9 .9-1.8 .8-1.6 .9-1.4 .9-1.4 1.2-.1 1.2-.2 1.2 .8 .9 .7 1 1.2 .9 1.8 .7 2 .8 1.8 .7 2.3 .8 2 .9 2.7 .9 2.4 .8 1.9 .8 2 .7 1.7 .8 1.8 .8 1.6 .8 2.8 .8 1.3 .8 1.9 .8 2.5 .8 1.7 .8 2.1 .8 1.9 .8 2.1 .7 2.5 .9 2.1 .7 2.3 .7 2.5 .7 2.5 .7 3.3 .7 2.9 .5 3.6 .5 4.3 .4 3.6 .4 4.9 .3 5 .3 5.6 .4 4.8 .3 4.3 .4 4.7 .5 3.5 .7 2.8 .8-1.9 .7-1.8 .6-2.6 .6-3.1 .7-3.6 .6-2.6 .7-4 .6-2.7 .7-2.8 .8-1.8 1.2 .1 .8 1.3 .8 1.7 .8 1.5 .9 1 1-.3 .9-1.1 1-.9 1-2.2 1-1.1 1-1.4 1.1-1.7 1-1.6 1.1-1.7 .9-1.3 .9-1.2 .9-1.2 .9-1.1 .9-1.5 1.1-.6 1.1 .1 .8 1.7 .6 3 .6 3.1 .5 4.2 .5 4 .5 3 .6 3.4 .8 1.2 1 0 .9-1.1 .8-1.9 .9-2.1 .7-2.3 .7-1.4 .7-1.8 .8-2.2 .7-2.7 .7-1.6 .9-2.9 .8-.7 .9-2 1-.4 .9 .9 .8 2.2 .6 3.4 .6 3.6 .6 2.5 .7 3.5 .7 3.4 .7 2.7 .6 2.9 .7 3.7 .6 1.8 .6 3.3 .6 2.7 .7 3 .7 1.9 .9 2.4 .9 .8 .9-1.1 .7-1.9 .6-3.3 .6-2.9 .5-4.2 .5-3.1 .5-4 .5-3.7 .5-3.6 .5-3.9 .5-4.2 .4-3.5 .5-4.1 .5-3.5 .5-3.9 .5-4.1 .5-3.2 .5-3.5 .5-3.8 .6-3.8 .5-3.4 .4-3.7 .5-4 .6-2.8 .5-3.7 .5-2.9 .6-3.3 .6-3.2 .5-2.8 .6-2.9 .6-3.2 .6-3.2 .6-2.8 .7-2.4 .6-2.7 .7-2.6 .7-2 .9-2.2 .9-1.3 1-.1 .9 1.3 .9 1.6 .8 1.4 .7 2.9 .8 1.7 .7 3 .8 3 .7 2.6 .7 2.9 .6 3.2 .6 3.6 .6 3.9 .5 2.3 .5 3.9 .5 3.5 .5 3.1 .5 3.8 .6 3.6 .6 3.1 .5 2.9 .6 3.6 .7 2.5 .9 1.5 .9-.4 .9-1.8 .7-2.4 .8-3.3 .7-2.7 .7-3 .7-2.4 .9-1.5 1-1.9 .9-1.2 1-1.2 1-.6 1.1-.1 1.2 .8 1 1 1 .9 1.1 1.4 .8 1.4 .9 .8 .9 1.9 .8 2 .9 1.8 .8 1.3 .8 2.1 .7 1.4 .8 2.5 .7 2.8 .7 2.7 .6 2.8 .5 3.2 .5 3.3 .5 3.3 .5 3 .5 3.5 .6 4.1 .5 2.6 .6 3.5 .6 3.6 .5 4.3 .5 3 .5 4 .5 3.5 .5 3.5 .5 3.4 .6 3.3 .7 3.1 .7 2.4 .9 1.2 1-.1 .9-1.5 .8-1.4 .7-2.6 .7-2.3 .7-2.6 .7-2.6 .8-3 .6-2.3 .6-3 .6-2.5 .8-3 .7-3 .7-2.7 .7-2.3 .7-2.7 .7-2.3 .6-2.7 .7-3.1 .6-3.1 .7-2.6 .7-2.3 .6-2.5 .7-2.8 .7-2.8 .6-2 .8-2 .8-2.2 .8-1.5 1-1.1 1.1-1.2 1.2 1.3 .9 1.2 .9 .9 .9 1.2 .8 1.4 .9 1.8 .8 1.4 .8 1.3 1.1 1.6 1 .1 1.3 .6 1.2 .4 1.2 .1 1.2-.4 1-.8 1.1-2 .7-2.1 .6-3.1 .6-3.4 .5-3.4 .4-4.1 .4-4.1 .5-3.9 .5-3.9 .5-4.5 .5-3.4 .6-2.7 .5-3.3 .6-2.9 .6-3.7 .6-4 .6-3.3 .6-2.8 .7-3.8 .6-2.9 .6-1.7 .8-3 .8-2.2 .9-.4 1.1 .3 .9 1.4 .9 1.6 .8 2.8 .7 2 .7 2.9 .6 2.8 .7 3.5 .7 3 .6 3.1 .5 2.9 .6 3.3 .5 4.1 .5 3.6 .5 3.7 .5 3.9 .4 4.4 .5 3.5 .5 3.9 .5 4.2 .5 4 .5 3.8 .5 3.9 .5 2.8 .5 3.8 .6 3.9 .6 3.2 .5 3.2 .5 3.5 .6 3.5 .6 3.4 .6 3.6 .6 2.9 .7 2.4 .7 2.6 .8 1.3 .9 1.2 1-1.3 .8-1.6 .8-2.8 .6-2.6 .7-3 .7-3 .6-3.4 .7-3.4 .7-3.4 .7-3 .7-3.3 .7-2 .8-2.6 .9-1.3 1-.3 1 .8 .9 .9 .8 1.7 .9 1.8 .8 2.3 .9 2.4 .8 2.9 .8 2.1 .8 2.6 .8 2 .8 2.8 .8 2.4 .8 3.1 .6 2.5 .6 3.2 .6 2.7 .5 2.6 .7 3.8 .6 2.7 .7 2.9 .7 2.4 1-.2 .8-1.3 .7-3.1 .5-3 .5-4.5 .5-3.5 .4-4.2 .5-4.3 .4-4 .4-4.4 .4-4.1 .4-4.1 .4-4.4 .5-4.2 .4-4.1 .5-4.2 .6-3 .9-4.4 .9-2.2 1.3-.5 1.2 .3 1.3 1.4 1.2 2 1.2 0 1 0 .9-1.1 .7-1.6 1.1-1.7 1.1-.9 1 .6 .8 1.6 .9 1.6 .9 2.7 .8 1.6 .8 2.5 .7 1.7 .8 1.7 1 .8 .9 1.3 1 .8 1.1-.2 1 .2 1.1-.9 1-1.2 1-1.2 1-1.8 .9-1 .7-2.1 .8-3.2 .7-2.7 .7-2.8 .7-3.3 .7-2.4 .7-2.2 .8-1.5 1-1 1 1.1 1 1.9 .8 2 .7 2.1 .8 2.5 .8 3 .7 3 .6 3 .4 3.6 .5 4.7 .4 4.5 .4 5 .4 4.4 .4 4.5 .6 3.4 .6 3.9 .8 .4 .9-.5 .7-2.4 .7-2.5 .7-2.6 .6-3.4 .7-3.4 .7-2.7 .6-3.7 .7-2.8 .7-2.5 .7-2.6 .8-2.1 .8-2.4 .8-1.6 .8-1.4 1-2 .9-1.2 1-.5 1.2-.4 1 1.5 1 1.8 1 2.3 1.1 1.7 1.1 .7 1-.2 1-1.2 .9-1.7 .9-1.7 .9-2.6 .9-1.8 .9-2.3 .9-.9 .8-1.6 1-.6 1 .7 .8 .8 .9 2.5 .7 2.7 .8 2.7 .7 2.9 .6 1.9 .6 2.5 .8 2.5 .7 2.6 .7 2.7 .6 2.9 .7 3.1 .6 3 .7 2.4 .7 2.1 .9 2.2 .9 .4 1 0 .9-1.6 .9-1.9 .8-1.5 .8-1.9 .7-2 .8-2.4 .7-1.9 1-1.6 .8-1.8 .9-1.5 1.3-.3 1.1 .2 1 .3 1.1 .7 1.3 1.8 .9 .8 1 1.5 .8 2 .8 1.7 .9 1.1 .8 1.9 .9 1.2 .8 2.1 .8 1.4 1 1.3 .9 1.2 .9 1.7 .8 1.8 .8 1.7 1.1 1.1 1.1 0 1.1-2.7 .6-2.6 .5-3.8 .4-4 .4-4.1 .4-5.1 .4-4.2 .4-4.8 .3-4.8 .4-5 .4-4.3 .3-4.8 .4-4.5 .4-5 .4-3.6 .4-4.2 .5-3.7 .8-2.2 .8 1.5 .6 3.2 .5 4.2 .4 4.2 .4 4.4 .4 4.5 .4 4.4 .4 4.3 .4 4.6 .4 4 .4 4.2 .4 4.9 .4 3.6 .3 4.9 .4 5.5 .3 3.9 .5 4.6 .6 1.7 1 .8 .8-2.5 .8-2.1 .7-2.9 .8-2.9 .7-3.3 .8-2.7 .8-3.4 .7-1.9 .9-2.2 .9-.4 .9 1.1 .7 1.8 .5 3.7 .6 3.4 .5 4.3 .4 3 .5 3.7 .4 4.3 .5 4.4 .5 3.2 .6 3.6 .6 2.4 .9 1.6 .9-.8 .8-2.1 .7-3.1 .8-2.8 .7-2.4 .9-3.2 .8-2 1.1-.3 1.1 .1 1.2 1.3 1.2 .8 1.2 .7 1.2 1.4 1.1 .5 1.2 0 1-1 .8-2.7 .6-3 .6-3.3 .9-.8 .9 .1 .8 2 .7 3.4 .7 2.9 .6 2.7 .7 2.9 .6 2.5 .7 2.2 .8 2.7 1 .2 .7-1.8 .5-3 .6-3.5 .5-3.7 .5-3.3 .7-2.2 1 1.2 .6 1.6 .7 3 .6 3.3 .6 3.6 .7 3.6 .7 3.1 .7 2.8 .7 1.9 1 .7 .8-2.4 .6-2.5 .5-3 .6-3.4 .6-3.6 .5-3.7 .6-4.1 .5-2.8 .6-3.4 .6-3 1-2.9 1.2-.3 1.1 .3 1.2 1.5 1.1 2.3 1.2-.1 1-1.2 .8-1.2 .9-1.9 .8-2.3 .8-1.8 .8-1.8 1.1-.9 1 .2 .9 1.8 .7 1.8 .7 2.9 .8 3 .7 3.1 .7 3 .7 2.8 .7 2.5 .9 .8 .9 .8 1.1-1.2 .8-1.6 .9-2.2 .8-1 1-1.9 .8-2.1 .8-1.4 .7-1.7 .8-1.3 .6-1.7" stroke="#9042a8" stroke-width="1.25"/>
<path d="M226.0 1492.3l.5 1.4 .5-1.9 .5 .2 .4 .7 .4-1 .5 .1 .4-1.5 .5 1.5 .5-2.5 .4 1.1 .5-1.9 .6-.1 .5 .4 .5-.9 .5 1.9 .5 .5 .5 1.6 .4-.6 .3 2.6 .5-.3 .3 1.7 .4-.4 .3 3.2 .4 1.3 .3 .4 .3 .9 .3 1.3 .3 .6 .3 2.6 .3 .8 .3 .1 .3 4.1 .3-.7 .3 2.7 .3-.8 .3 2.1 .3 1.7 .3 .7" stroke="#6e1884" stroke-width="1.25"/>
<path d="M255.0 1501.9l.3-1.9 .3-1.5 .3-1.3 .5 .4 .4-2.3 .5 .3 .4-.5 .4-2.1 .5 .2 .5-.1 .5 1.2 .6-.3 .6 1 .4-1.6 .5 2.7 .4-2.1 .5 1 .4 1.6 .5-2 .5 2.3 .5 1.3 .4-1.3 .5 2.5 .5-.3 .5 .7 .5-.7 .5 .8 .5 1.5 .4 2.2 .5-2.3 .5 1.4 .4 1.1 .4-.2 .5-1.3 .4 .1 .4 2.4 .5 .3 .4-.3 .5-.4 .4 1.9 .5 1.8 .4-2.2 .4 2.1 .5-1.7 .4 .8 .4 1.8 .5-.9 .4-.7 .4 1.2 .4 1.8 .4-.3 .5 .9 .3-1.1 .4 3 .4-1 .4 2.9 .4-1 .5-1.2 .4 2.2 .4 2.7 .5 .3 .4 1.6 .4 .7 .4 1.5 .4-1.2 .4 1.1 .4 2.9 .4 0 .3 2.4 .4 1.3 .3-1.1 .4 2 .3 .3 .3 2.9 .4 2.4 .3 2.8 .2 .2 .3 1.2 .2 .6 .3 2.4 .2 1.3 .2 3.8 .2 .8 .2 1.6 .3 2.1 .1 .8 .2 2.4" stroke="#6e1884" stroke-width="1.25"/>
<path d="M306.0 1496.3l.2-.5 .2-1.7 .2-.9 .2-2.9 .2-.7 .3-4.1 .2 .5 .4-2.1 .4-1.2 .4 .1 .4-.8 .5 .1 .5-.7 .5 .9 .6-1.6 .5-.1 .4 .5 .5 1.9 .5-.7 .5 .7 .5 0 .5 .4 .6 1.8 .5-2.1 .6 .7 .5 1.6 .6-.2 .6 .8 .5 1.7 .6 0 .6 2.1 .5-.6 .6-1.1 .5 1.1 .5 .4 .5 1 .5-1.2 .5 1.9 .5 1.4 .5-1.5 .5 .6 .5-.1 .5 1 .5 1.1 .6-.1 .5-1.3 .5 1.2 .5 1.7 .5 .7 .5-.5 .6 0 .5 1.9 .4-1.1 .5 .8 .5 .3 .4 0 .5 .9 .4 1.1 .4 .5 .6-.2 .5-.1 .7 .3 .5 .3 .4 .6 .5 .5 .5 .5 .5 .6 .6 1 .4 1 .4-.8 .6 .3 .4 1.8 .4-.4 .5 1.8 .4-.1 .5-.8 .4 3.1 .5-.7 .5 2.6 .6-1 .5 1.2 .5-1.3 .6 1.6 .4 .7 .4 0 .4 2.3 .4-.7 .3 2.6 .4-1.4 .4 .8 .4 .9 .4 1.8 .4-2 .4 .3" stroke="#6e1884" stroke-width="1.25"/>
<path d="M452.0 1500.1l.3 .5 .2-3.5 .3-2.8 .2-1.7 .2 1.8 .3-3.6 .2-.6 .3-2.6 .3-3.5 .3 1.6 .3-3.3 .4-3 .4 2.2 .4-2.2 .4 .1 .4-.9 .5 .6 .4-.9 .4-.5 .5-1 .4-1.4 .5 .9 .4-2.3 .7 3.7 .6-2.4 .4 1.8 .5-1.2 .4-.3 .5-.1 .4 2.5 .5-1.5 .4 3.8 .5 .3 .4 .9 .4 .4 .3 .9 .3 1.4 .4 1.1 .3 0 .4 .4 .3 2.8 .4-.7 .4 .3 .3 2.6 .4-1.4 .4 2.8 .4 2 .4-1.1 .4 .3 .4 1.9 .5 2.1 .3 1.2 .3 .6 .4 2.1 .3 .2 .4-.3 .3 3.2 .4 .4 .4 1 .3 1.3 .4 1.3 .4-.8 .3 .5 .4 .4 .4 .9 .3 .4 .4 1.9 .3 .8 .4 1.2 .3 3.3 .4-1.9 .3 .1 .4 2.9 .4 1.9 .4-2.3 .3 1.6 .4 1.8 .3 1.9 .4-.2 .4 2.4 .3 2.4 .4-.9 .3 2.1 .3-.3 .4 4.5 .3-2 .3 1.5 .3 1.5 .3 3.4 .3-1.1 .3 3 .2 .1 .2 2.5" stroke="#6e1884" stroke-width="1.25"/>
<path d="M496.0 1558.3l.4-2.5 .3 3.2 .5-.5 .6-3.5 .4 .2 .4 3.8 .4-.5 .4 .5 .4 1.1 .4 2.4 .5-2 .5 3.2 .5-2 .5-1.7 .5 2.9 .5-1 .5-2.2 .5 .3 .6-2.2 .4 1.3 .3-.1 .4-.1 .4 .3 .4-4 .4-2.4 .3 2.1 .4-2.5 .4 3.7 .4 1.2 .5-4.4 .6 .7 .5-5.1 .4 4.4 .5-5.3 .4 3.4 .5-2.1 .4 .7 .5-2.3 .4-1.8 .5 3.7 .4-4.5 .5-1.4 .4-.4 .4 0 .7-.4 .5 2.9 .6-2.9 .4 2.9 .3 2.4 .4-.4 .3-1 .3 2.9 .2 5.1 .2-3 .2 6.9 .2 2.5 .2-3.5 .3 5.9 .2-1.2 .2 3.2 .4 .4 .3 .4 .5 1.7 .4-.6 .5-.9 .4 2.3 .4 .2 .5-4.6 .4 1.5 .3-.4 .4 .4 .4-3.2 .4-1.2 .4 .4 .4-3.5 .5 3.4 .4-5.7 .4-2.9 .4 .9 .4 1.5 .4-2.8 .4-.1 .4-4.1 .4-.6 .4-.5 .4 2.4 .3-2.5 .5-4.1 .4-.5 .5 3.7 .5-1.6 .4-.8 .4 .6 .3 1 .4 .2 .3 2.5 .2 1.9 .3-.7 .3 .6 .2 .9 .3 6.7 .3-.5 .3 1.5 .3 1 .4 5 .3 .1 .3-1.1 .3 1.6 .3-.2 .3 2.6 .4 3.8 .3 .3 .3 2.1 .3 .4 .3 2.5 .2-1 .3 3 .3-.2 .1 .7" stroke="#6e1884" stroke-width="1.25"/>
<path d="M737.3 1524.6l.5-.2 .4 .9 .6 1 .6-.8 .5 1.3 .5-3.1 .5 .5 .4 .7 .4-1.4 .4-.8 .4-1.1 .4 1.6 .4-2.7 .4 .6 .4 .9 .5-.2 .5 .6 .5-.4 .5-.8 .3 4.4 .4-2.7 .4 .9 .4 .8 .4 .6 .5 1 .4 1.6 .4 2.2 .4 2.7 .5-.9 .4-.1 .4 3.5 .5-.1 .4-.4 .4-.1 .4 2.8 .6-.8 .5 1.7 .5-.1 .5-1.5 .5 .6 .5-1.7 .5 0 .6 2 .5-1 .5-1.6 .5 1.2 .5-4.2 .5 0 .5-.2 .4-.7 .5-.6 .4-2.4 .4-.4 .4 3.1 .3-4.1 .4-1.2 .4 .3 .3-4.4 .4 .3 .3-2.4 .4 .5 .3-2 .4-2.8 .3-.5 .4-2.3 .3 .6 .4 .2 .4-3.4 .5-.5 .5 .5 .5-.5 .5 1.5 .4 .9 .4 1.7 .4 1 .3 .8 .4 .2 .4 1.2 .3 .8 .4 .6" stroke="#6e1884" stroke-width="1.25"/>
<path d="M920.0 1582.4l.4 1.1 .5 2.7 .4-.2 .4-4.8 .3-.5 .3 .7 .3 1.6 .3 0 .3-3.6 .3-1.9 .2-6.2 .2 .8 .3 .1 .2-4.6 .3 .6 .2-3.8 .3 3.2 .2-4.9 .2-3.4 .3-.3 .3 1.2 .3-2.8 .3-1.9 .3-5.1 .3 1.1 .5-.4 .6-1.7 .5-.2 .6 3.4 .6-3.5 .6 2.3 .4-1.6 .4 3.2 .6 1.3 .6 3 .5-3.3 .6-1.3 .5-.1 .4 2.1 .5-1.7 .5-.5 .4 .3 .5-.2 .5-2.4 .5-2 .4-2.1 .5-1.2 .5 2.7 .4-5.2 .5 1.7 .5-3 .5 1.7 .4-2 .4 5.9 .3-.5 .4 2.7 .4-1.9 .3 2.4 .4 1.3 .4 5.1 .3-5.7 .4 2.7 .3 2.6 .4 3.2 .3 5.2 .4-5.9 .3 2.1 .3 6.6 .4-1.5 .4 3.1 .4 .5 .5 .9 .5 2.3 .4-7.2 .4-1.6 .4 5.6 .4-6.4 .4-2 .4 6.1 .5-6.3 .1-.8" stroke="#6e1884" stroke-width="1.25"/>
</g>
<g stroke="#5f5f5f" stroke-width="1.3" fill="none">
<line x1="104.0" y1="382.2" x2="114.5" y2="382.2" />
<line x1="958.5" y1="382.2" x2="950.0" y2="382.2" />
<line x1="104.0" y1="331.1" x2="111.6" y2="331.1" />
<line x1="958.5" y1="331.1" x2="953.5" y2="331.1" />
<line x1="104.0" y1="289.4" x2="111.6" y2="289.4" />
<line x1="958.5" y1="289.4" x2="953.5" y2="289.4" />
<line x1="104.0" y1="254.1" x2="111.6" y2="254.1" />
<line x1="958.5" y1="254.1" x2="953.5" y2="254.1" />
<line x1="104.0" y1="223.5" x2="114.5" y2="223.5" />
<line x1="958.5" y1="223.5" x2="950.0" y2="223.5" />
<line x1="104.0" y1="196.6" x2="111.6" y2="196.6" />
<line x1="958.5" y1="196.6" x2="953.5" y2="196.6" />
<line x1="104.0" y1="172.4" x2="111.6" y2="172.4" />
<line x1="958.5" y1="172.4" x2="953.5" y2="172.4" />
<line x1="104.0" y1="150.6" x2="111.6" y2="150.6" />
<line x1="958.5" y1="150.6" x2="953.5" y2="150.6" />
<line x1="104.0" y1="130.7" x2="114.5" y2="130.7" />
<line x1="958.5" y1="130.7" x2="950.0" y2="130.7" />
<line x1="104.0" y1="112.4" x2="111.6" y2="112.4" />
<line x1="958.5" y1="112.4" x2="953.5" y2="112.4" />
<line x1="104.0" y1="95.4" x2="111.6" y2="95.4" />
<line x1="958.5" y1="95.4" x2="953.5" y2="95.4" />
<line x1="104.0" y1="79.6" x2="111.6" y2="79.6" />
<line x1="958.5" y1="79.6" x2="953.5" y2="79.6" />
<line x1="104.0" y1="64.9" x2="114.5" y2="64.9" />
<line x1="958.5" y1="64.9" x2="950.0" y2="64.9" />
<line x1="104.0" y1="51.0" x2="111.6" y2="51.0" />
<line x1="958.5" y1="51.0" x2="953.5" y2="51.0" />
<line x1="104.0" y1="37.9" x2="111.6" y2="37.9" />
<line x1="958.5" y1="37.9" x2="953.5" y2="37.9" />
<line x1="104.0" y1="25.5" x2="111.6" y2="25.5" />
<line x1="958.5" y1="25.5" x2="953.5" y2="25.5" />
<line x1="104.0" y1="13.8" x2="114.5" y2="13.8" />
<line x1="958.5" y1="13.8" x2="950.0" y2="13.8" />
<line x1="104.0" y1="1069.9" x2="109.0" y2="1069.9" />
<line x1="958.5" y1="1069.9" x2="953.5" y2="1069.9" />
<line x1="104.0" y1="1055.8" x2="109.0" y2="1055.8" />
<line x1="958.5" y1="1055.8" x2="953.5" y2="1055.8" />
<line x1="104.0" y1="1043.1" x2="111.7" y2="1043.1" />
<line x1="958.5" y1="1043.1" x2="950.8" y2="1043.1" />
<line x1="104.0" y1="959.7" x2="109.0" y2="959.7" />
<line x1="958.5" y1="959.7" x2="953.5" y2="959.7" />
<line x1="104.0" y1="910.9" x2="109.0" y2="910.9" />
<line x1="958.5" y1="910.9" x2="953.5" y2="910.9" />
<line x1="104.0" y1="876.3" x2="109.0" y2="876.3" />
<line x1="958.5" y1="876.3" x2="953.5" y2="876.3" />
<line x1="104.0" y1="849.5" x2="111.7" y2="849.5" />
<line x1="958.5" y1="849.5" x2="950.8" y2="849.5" />
<line x1="104.0" y1="827.6" x2="109.0" y2="827.6" />
<line x1="958.5" y1="827.6" x2="953.5" y2="827.6" />
<line x1="104.0" y1="809.0" x2="109.0" y2="809.0" />
<line x1="958.5" y1="809.0" x2="953.5" y2="809.0" />
<line x1="104.0" y1="792.9" x2="109.0" y2="792.9" />
<line x1="958.5" y1="792.9" x2="953.5" y2="792.9" />
<line x1="104.0" y1="778.8" x2="109.0" y2="778.8" />
<line x1="958.5" y1="778.8" x2="953.5" y2="778.8" />
<line x1="104.0" y1="766.1" x2="111.7" y2="766.1" />
<line x1="958.5" y1="766.1" x2="950.8" y2="766.1" />
<line x1="104.0" y1="682.7" x2="109.0" y2="682.7" />
<line x1="958.5" y1="682.7" x2="953.5" y2="682.7" />
<line x1="104.0" y1="633.9" x2="109.0" y2="633.9" />
<line x1="958.5" y1="633.9" x2="953.5" y2="633.9" />
<line x1="104.0" y1="599.3" x2="109.0" y2="599.3" />
<line x1="958.5" y1="599.3" x2="953.5" y2="599.3" />
<line x1="104.0" y1="572.5" x2="111.7" y2="572.5" />
<line x1="958.5" y1="572.5" x2="950.8" y2="572.5" />
<line x1="104.0" y1="1601.4" x2="109.0" y2="1601.4" />
<line x1="958.5" y1="1601.4" x2="953.5" y2="1601.4" />
<line x1="104.0" y1="1572.1" x2="109.0" y2="1572.1" />
<line x1="958.5" y1="1572.1" x2="953.5" y2="1572.1" />
<line x1="104.0" y1="1542.7" x2="109.0" y2="1542.7" />
<line x1="958.5" y1="1542.7" x2="953.5" y2="1542.7" />
<line x1="104.0" y1="1513.3" x2="109.0" y2="1513.3" />
<line x1="958.5" y1="1513.3" x2="953.5" y2="1513.3" />
<line x1="104.0" y1="1484.0" x2="111.9" y2="1484.0" />
<line x1="958.5" y1="1484.0" x2="950.6" y2="1484.0" />
<line x1="104.0" y1="1454.6" x2="109.0" y2="1454.6" />
<line x1="958.5" y1="1454.6" x2="953.5" y2="1454.6" />
<line x1="104.0" y1="1425.2" x2="109.0" y2="1425.2" />
<line x1="958.5" y1="1425.2" x2="953.5" y2="1425.2" />
<line x1="104.0" y1="1395.8" x2="109.0" y2="1395.8" />
<line x1="958.5" y1="1395.8" x2="953.5" y2="1395.8" />
<line x1="104.0" y1="1366.5" x2="109.0" y2="1366.5" />
<line x1="958.5" y1="1366.5" x2="953.5" y2="1366.5" />
<line x1="104.0" y1="1337.1" x2="111.9" y2="1337.1" />
<line x1="958.5" y1="1337.1" x2="950.6" y2="1337.1" />
<line x1="104.0" y1="1307.7" x2="109.0" y2="1307.7" />
<line x1="958.5" y1="1307.7" x2="953.5" y2="1307.7" />
<line x1="104.0" y1="1278.4" x2="109.0" y2="1278.4" />
<line x1="958.5" y1="1278.4" x2="953.5" y2="1278.4" />
<line x1="104.0" y1="1249.0" x2="109.0" y2="1249.0" />
<line x1="958.5" y1="1249.0" x2="953.5" y2="1249.0" />
<line x1="104.0" y1="1219.6" x2="109.0" y2="1219.6" />
<line x1="958.5" y1="1219.6" x2="953.5" y2="1219.6" />
<line x1="104.0" y1="1190.2" x2="111.9" y2="1190.2" />
<line x1="958.5" y1="1190.2" x2="950.6" y2="1190.2" />
<line x1="104.0" y1="1160.9" x2="109.0" y2="1160.9" />
<line x1="958.5" y1="1160.9" x2="953.5" y2="1160.9" />
<line x1="104.0" y1="1131.5" x2="109.0" y2="1131.5" />
<line x1="958.5" y1="1131.5" x2="953.5" y2="1131.5" />
<line x1="146.1" y1="540.9" x2="146.1" y2="536.2" />
<line x1="146.1" y1="13.8" x2="146.1" y2="18.5" />
<line x1="188.8" y1="540.9" x2="188.8" y2="536.2" />
<line x1="188.8" y1="13.8" x2="188.8" y2="18.5" />
<line x1="231.6" y1="540.9" x2="231.6" y2="536.2" />
<line x1="231.6" y1="13.8" x2="231.6" y2="18.5" />
<line x1="274.3" y1="540.9" x2="274.3" y2="536.2" />
<line x1="274.3" y1="13.8" x2="274.3" y2="18.5" />
<line x1="317.1" y1="540.9" x2="317.1" y2="530.5" />
<line x1="317.1" y1="13.8" x2="317.1" y2="24.2" />
<line x1="359.8" y1="540.9" x2="359.8" y2="536.2" />
<line x1="359.8" y1="13.8" x2="359.8" y2="18.5" />
<line x1="402.6" y1="540.9" x2="402.6" y2="536.2" />
<line x1="402.6" y1="13.8" x2="402.6" y2="18.5" />
<line x1="445.3" y1="540.9" x2="445.3" y2="536.2" />
<line x1="445.3" y1="13.8" x2="445.3" y2="18.5" />
<line x1="488.1" y1="540.9" x2="488.1" y2="536.2" />
<line x1="488.1" y1="13.8" x2="488.1" y2="18.5" />
<line x1="530.8" y1="540.9" x2="530.8" y2="530.5" />
<line x1="530.8" y1="13.8" x2="530.8" y2="24.2" />
<line x1="573.6" y1="540.9" x2="573.6" y2="536.2" />
<line x1="573.6" y1="13.8" x2="573.6" y2="18.5" />
<line x1="616.3" y1="540.9" x2="616.3" y2="536.2" />
<line x1="616.3" y1="13.8" x2="616.3" y2="18.5" />
<line x1="659.0" y1="540.9" x2="659.0" y2="536.2" />
<line x1="659.0" y1="13.8" x2="659.0" y2="18.5" />
<line x1="701.8" y1="540.9" x2="701.8" y2="536.2" />
<line x1="701.8" y1="13.8" x2="701.8" y2="18.5" />
<line x1="744.5" y1="540.9" x2="744.5" y2="530.5" />
<line x1="744.5" y1="13.8" x2="744.5" y2="24.2" />
<line x1="787.3" y1="540.9" x2="787.3" y2="536.2" />
<line x1="787.3" y1="13.8" x2="787.3" y2="18.5" />
<line x1="830.1" y1="540.9" x2="830.1" y2="536.2" />
<line x1="830.1" y1="13.8" x2="830.1" y2="18.5" />
<line x1="872.8" y1="540.9" x2="872.8" y2="536.2" />
<line x1="872.8" y1="13.8" x2="872.8" y2="18.5" />
<line x1="915.6" y1="540.9" x2="915.6" y2="536.2" />
<line x1="915.6" y1="13.8" x2="915.6" y2="18.5" />
<line x1="146.1" y1="1086.2" x2="146.1" y2="1081.5" />
<line x1="146.1" y1="557.4" x2="146.1" y2="562.1" />
<line x1="188.8" y1="1086.2" x2="188.8" y2="1081.5" />
<line x1="188.8" y1="557.4" x2="188.8" y2="562.1" />
<line x1="231.6" y1="1086.2" x2="231.6" y2="1081.5" />
<line x1="231.6" y1="557.4" x2="231.6" y2="562.1" />
<line x1="274.3" y1="1086.2" x2="274.3" y2="1081.5" />
<line x1="274.3" y1="557.4" x2="274.3" y2="562.1" />
<line x1="317.1" y1="1086.2" x2="317.1" y2="1075.8" />
<line x1="317.1" y1="557.4" x2="317.1" y2="567.8" />
<line x1="359.8" y1="1086.2" x2="359.8" y2="1081.5" />
<line x1="359.8" y1="557.4" x2="359.8" y2="562.1" />
<line x1="402.6" y1="1086.2" x2="402.6" y2="1081.5" />
<line x1="402.6" y1="557.4" x2="402.6" y2="562.1" />
<line x1="445.3" y1="1086.2" x2="445.3" y2="1081.5" />
<line x1="445.3" y1="557.4" x2="445.3" y2="562.1" />
<line x1="488.1" y1="1086.2" x2="488.1" y2="1081.5" />
<line x1="488.1" y1="557.4" x2="488.1" y2="562.1" />
<line x1="530.8" y1="1086.2" x2="530.8" y2="1075.8" />
<line x1="530.8" y1="557.4" x2="530.8" y2="567.8" />
<line x1="573.6" y1="1086.2" x2="573.6" y2="1081.5" />
<line x1="573.6" y1="557.4" x2="573.6" y2="562.1" />
<line x1="616.3" y1="1086.2" x2="616.3" y2="1081.5" />
<line x1="616.3" y1="557.4" x2="616.3" y2="562.1" />
<line x1="659.0" y1="1086.2" x2="659.0" y2="1081.5" />
<line x1="659.0" y1="557.4" x2="659.0" y2="562.1" />
<line x1="701.8" y1="1086.2" x2="701.8" y2="1081.5" />
<line x1="701.8" y1="557.4" x2="701.8" y2="562.1" />
<line x1="744.5" y1="1086.2" x2="744.5" y2="1075.8" />
<line x1="744.5" y1="557.4" x2="744.5" y2="567.8" />
<line x1="787.3" y1="1086.2" x2="787.3" y2="1081.5" />
<line x1="787.3" y1="557.4" x2="787.3" y2="562.1" />
<line x1="830.1" y1="1086.2" x2="830.1" y2="1081.5" />
<line x1="830.1" y1="557.4" x2="830.1" y2="562.1" />
<line x1="872.8" y1="1086.2" x2="872.8" y2="1081.5" />
<line x1="872.8" y1="557.4" x2="872.8" y2="562.1" />
<line x1="915.6" y1="1086.2" x2="915.6" y2="1081.5" />
<line x1="915.6" y1="557.4" x2="915.6" y2="562.1" />
<line x1="146.1" y1="1630.8" x2="146.1" y2="1626.1" />
<line x1="146.1" y1="1102.4" x2="146.1" y2="1107.1" />
<line x1="188.8" y1="1630.8" x2="188.8" y2="1626.1" />
<line x1="188.8" y1="1102.4" x2="188.8" y2="1107.1" />
<line x1="231.6" y1="1630.8" x2="231.6" y2="1626.1" />
<line x1="231.6" y1="1102.4" x2="231.6" y2="1107.1" />
<line x1="274.3" y1="1630.8" x2="274.3" y2="1626.1" />
<line x1="274.3" y1="1102.4" x2="274.3" y2="1107.1" />
<line x1="317.1" y1="1630.8" x2="317.1" y2="1620.4" />
<line x1="317.1" y1="1102.4" x2="317.1" y2="1112.8" />
<line x1="359.8" y1="1630.8" x2="359.8" y2="1626.1" />
<line x1="359.8" y1="1102.4" x2="359.8" y2="1107.1" />
<line x1="402.6" y1="1630.8" x2="402.6" y2="1626.1" />
<line x1="402.6" y1="1102.4" x2="402.6" y2="1107.1" />
<line x1="445.3" y1="1630.8" x2="445.3" y2="1626.1" />
<line x1="445.3" y1="1102.4" x2="445.3" y2="1107.1" />
<line x1="488.1" y1="1630.8" x2="488.1" y2="1626.1" />
<line x1="488.1" y1="1102.4" x2="488.1" y2="1107.1" />
<line x1="530.8" y1="1630.8" x2="530.8" y2="1620.4" />
<line x1="530.8" y1="1102.4" x2="530.8" y2="1112.8" />
<line x1="573.6" y1="1630.8" x2="573.6" y2="1626.1" />
<line x1="573.6" y1="1102.4" x2="573.6" y2="1107.1" />
<line x1="616.3" y1="1630.8" x2="616.3" y2="1626.1" />
<line x1="616.3" y1="1102.4" x2="616.3" y2="1107.1" />
<line x1="659.0" y1="1630.8" x2="659.0" y2="1626.1" />
<line x1="659.0" y1="1102.4" x2="659.0" y2="1107.1" />
<line x1="701.8" y1="1630.8" x2="701.8" y2="1626.1" />
<line x1="701.8" y1="1102.4" x2="701.8" y2="1107.1" />
<line x1="744.5" y1="1630.8" x2="744.5" y2="1620.4" />
<line x1="744.5" y1="1102.4" x2="744.5" y2="1112.8" />
<line x1="787.3" y1="1630.8" x2="787.3" y2="1626.1" />
<line x1="787.3" y1="1102.4" x2="787.3" y2="1107.1" />
<line x1="830.1" y1="1630.8" x2="830.1" y2="1626.1" />
<line x1="830.1" y1="1102.4" x2="830.1" y2="1107.1" />
<line x1="872.8" y1="1630.8" x2="872.8" y2="1626.1" />
<line x1="872.8" y1="1102.4" x2="872.8" y2="1107.1" />
<line x1="915.6" y1="1630.8" x2="915.6" y2="1626.1" />
<line x1="915.6" y1="1102.4" x2="915.6" y2="1107.1" />
</g>
<rect x="104.0" y="13.8" width="854.5" height="527.1" fill="none" stroke="#5f5f5f" stroke-width="1.5"/>
<rect x="104.0" y="557.4" width="854.5" height="528.8" fill="none" stroke="#5f5f5f" stroke-width="1.5"/>
<rect x="104.0" y="1102.4" width="854.5" height="528.4" fill="none" stroke="#5f5f5f" stroke-width="1.5"/>
<g fill="#555555" font-family="Liberation Sans, sans-serif" style="will-change:transform">
<text x="97.6" y="388.8" font-size="26.5" text-anchor="end" >200</text>
<text x="97.6" y="230.1" font-size="26.5" text-anchor="end" >400</text>
<text x="97.6" y="137.3" font-size="26.5" text-anchor="end" >600</text>
<text x="97.6" y="71.5" font-size="26.5" text-anchor="end" >800</text>
<text x="97.6" y="20.4" font-size="26.5" text-anchor="end" >1000</text>
<text x="95.2" y="1049.5" font-size="26.5" text-anchor="end" >10</text>
<text x="95.2" y="855.9" font-size="26.5" text-anchor="end" >50</text>
<text x="95.2" y="772.5" font-size="26.5" text-anchor="end" >100</text>
<text x="95.2" y="578.9" font-size="26.5" text-anchor="end" >500</text>
<text x="95.2" y="1637.6" font-size="26.5" text-anchor="end" >0</text>
<text x="95.2" y="1490.8" font-size="26.5" text-anchor="end" >50</text>
<text x="95.2" y="1343.9" font-size="26.5" text-anchor="end" >100</text>
<text x="95.2" y="1197.0" font-size="26.5" text-anchor="end" >150</text>
<text x="101.8" y="1662.8" font-size="26.5" text-anchor="middle" >0</text>
<text x="275.8" y="1673.8" font-size="26.5">1</text>
<text x="303.1" y="1673.8" font-size="22" text-anchor="middle">×</text>
<text x="313.2" y="1673.8" font-size="26.5">10</text>
<text x="342.9" y="1660.1" font-size="22.8">9</text>
<text x="489.5" y="1673.8" font-size="26.5">2</text>
<text x="516.8" y="1673.8" font-size="22" text-anchor="middle">×</text>
<text x="526.9" y="1673.8" font-size="26.5">10</text>
<text x="556.6" y="1660.1" font-size="22.8">9</text>
<text x="703.2" y="1673.8" font-size="26.5">3</text>
<text x="730.5" y="1673.8" font-size="22" text-anchor="middle">×</text>
<text x="740.6" y="1673.8" font-size="26.5">10</text>
<text x="770.3" y="1660.1" font-size="22.8">9</text>
<text x="917.0" y="1673.8" font-size="26.5">4</text>
<text x="944.3" y="1673.8" font-size="22" text-anchor="middle">×</text>
<text x="954.4" y="1673.8" font-size="26.5">10</text>
<text x="984.1" y="1660.1" font-size="22.8">9</text>
<text transform="translate(22.1,271.8) rotate(-90)" font-size="28.4" text-anchor="middle">semi-major axis (AU)</text>
<text transform="translate(22.1,823.4) rotate(-90)" font-size="28.4" text-anchor="middle">perihelion distance (AU)</text>
<text transform="translate(22.1,1336.1) rotate(-90)" font-size="28.4" text-anchor="middle">inclination (deg)</text>
<text x="520.3" y="1724.2" font-size="28.4" text-anchor="middle" >time (years)</text>
<text x="170.3" y="295.6" font-size="25.0" text-anchor="start" >select objects</text>
<text x="170.6" y="327.2" font-size="25.0" text-anchor="start" >that attain:</text>
<circle cx="176.6" cy="382.6" r="2.9"/>
<text x="194.4" y="391.2" font-size="24.6" text-anchor="start" >q &lt; 30AU</text>
<circle cx="176.6" cy="414.1" r="2.9"/>
<text x="194.4" y="422.7" font-size="24.6" text-anchor="start" >a &gt; 100 AU</text>
<circle cx="176.6" cy="445.6" r="2.9"/>
<text x="194.4" y="454.2" font-size="24.6" text-anchor="start" >i &lt; 40 deg</text>
<circle cx="176.6" cy="477.1" r="2.9"/>
<text x="194.4" y="485.7" font-size="24.6" text-anchor="start" >at t &gt; 3.5 Gyr</text>
<text x="208.9" y="895.3" font-size="22.5" text-anchor="middle" >N</text>
<text x="208.9" y="949.5" font-size="22.5" text-anchor="middle" >U</text>
<text x="208.9" y="1036.5" font-size="22.5" text-anchor="middle" >S</text>
<text x="900.5" y="606.8" font-size="23.5" text-anchor="start" >P9</text>
<text x="837.8" y="1272.3" font-size="24" text-anchor="end" >retrograde</text>
<text x="837.8" y="1303.5" font-size="24" text-anchor="end" >orbits</text>
</g>
</svg></body></html>
